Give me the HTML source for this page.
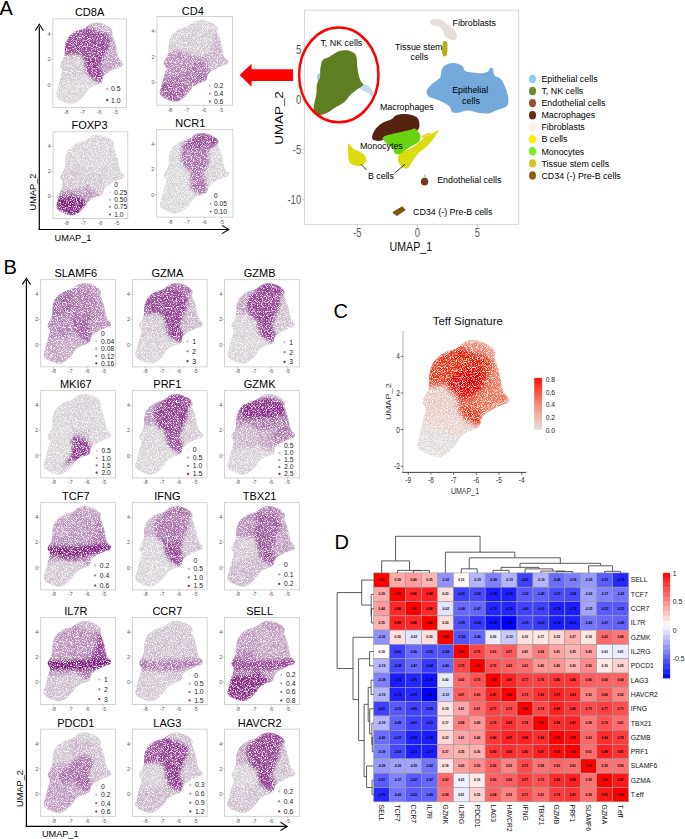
<!DOCTYPE html>
<html><head><meta charset="utf-8"><style>
html,body{margin:0;padding:0;background:#fff;}
body{width:685px;height:839px;overflow:hidden;}
svg{display:block;font-family:"Liberation Sans", sans-serif;}
</style></head><body>
<svg width="685" height="839" viewBox="0 0 685 839">
<defs><filter id="spk" color-interpolation-filters="sRGB"><feTurbulence type="fractalNoise" baseFrequency="1.2" numOctaves="1" seed="5" result="n"/><feColorMatrix in="n" type="matrix" values="1 0 0 0 0  1 0 0 0 0  1 0 0 0 0  0 0 0 0 1" result="g"/><feColorMatrix in="g" type="matrix" values="0 0 0 0 1  0 0 0 0 1  0 0 0 0 1  4 0 0 0 -1.85"/></filter><filter id="bl05" x="-20%" y="-20%" width="140%" height="140%"><feGaussianBlur stdDeviation="0.5"/></filter><filter id="bl10" x="-20%" y="-20%" width="140%" height="140%"><feGaussianBlur stdDeviation="1.0"/></filter><filter id="bl12" x="-20%" y="-20%" width="140%" height="140%"><feGaussianBlur stdDeviation="1.2"/></filter><filter id="bl15" x="-20%" y="-20%" width="140%" height="140%"><feGaussianBlur stdDeviation="1.5"/></filter><filter id="bl18" x="-20%" y="-20%" width="140%" height="140%"><feGaussianBlur stdDeviation="1.8"/></filter><filter id="bl20" x="-20%" y="-20%" width="140%" height="140%"><feGaussianBlur stdDeviation="2.0"/></filter><clipPath id="c1"><path d="M97.48,22.45 C99.44,22.6 101.98,23.28 103.95,23.98 C105.91,24.68 107.76,25.56 109.25,26.66 C110.74,27.77 112.37,29.27 112.89,30.61 C113.42,31.95 112.23,33.33 112.4,34.69 C112.56,36.05 113.36,37.24 113.89,38.77 C114.41,40.3 115.07,42.17 115.54,43.87 C116.01,45.57 116.35,47.27 116.7,48.97 C117.06,50.67 117.26,52.37 117.7,54.07 C118.14,55.77 118.47,57.64 119.36,59.17 C120.24,60.7 122.56,62.06 123,63.25 C123.44,64.44 122.92,65.55 122.01,66.31 C121.1,67.08 119.55,66.97 117.53,67.84 C115.52,68.71 112.26,70.12 109.91,71.54 C107.56,72.96 104.8,74.64 103.45,76.38 C102.09,78.13 102.62,80.66 101.79,81.99 C100.96,83.33 99.89,83.74 98.48,84.42 C97.07,85.1 95.05,85.25 93.34,86.08 C91.63,86.9 89.61,88.03 88.2,89.39 C86.8,90.75 86.02,92.77 84.89,94.23 C83.76,95.7 82.85,96.85 81.41,98.19 C79.97,99.53 77.99,101.31 76.27,102.27 C74.56,103.22 73.01,103.9 71.14,103.92 C69.26,103.95 67.1,103.2 65.01,102.39 C62.91,101.59 60.03,100.31 58.54,99.08 C57.05,97.85 56.14,96.91 56.06,95 C55.98,93.09 57.38,90.2 58.05,87.61 C58.71,85.01 59.32,82.27 60.03,79.44 C60.75,76.62 62.35,73.03 62.35,70.65 C62.35,68.27 59.7,67.59 60.03,65.16 C60.37,62.74 63.51,59.32 64.34,56.11 C65.17,52.9 64.51,48.8 65.01,45.91 C65.5,43.02 66.17,40.81 67.33,38.77 C68.49,36.73 70.31,35.03 71.97,33.67 C73.62,32.31 75.33,31.44 77.27,30.61 C79.2,29.78 81.8,29.53 83.56,28.7 C85.33,27.87 86.44,26.57 87.87,25.64 C89.31,24.71 90.58,23.62 92.18,23.09 C93.78,22.56 95.52,22.3 97.48,22.45 Z"/></clipPath><clipPath id="c2"><path d="M202.14,19.91 C204.15,20.06 206.75,20.74 208.76,21.44 C210.77,22.15 212.66,23.02 214.19,24.13 C215.72,25.24 217.39,26.76 217.93,28.1 C218.46,29.44 217.25,30.83 217.42,32.2 C217.59,33.56 218.41,34.76 218.94,36.29 C219.48,37.83 220.16,39.71 220.64,41.41 C221.12,43.12 221.46,44.83 221.83,46.53 C222.2,48.24 222.39,49.95 222.85,51.65 C223.3,53.36 223.64,55.24 224.54,56.77 C225.45,58.31 227.82,59.67 228.28,60.87 C228.73,62.06 228.19,63.17 227.26,63.94 C226.33,64.71 224.74,64.6 222.68,65.48 C220.61,66.35 217.27,67.76 214.87,69.19 C212.47,70.62 209.64,72.3 208.25,74.05 C206.87,75.8 207.4,78.34 206.56,79.68 C205.71,81.03 204.6,81.43 203.16,82.12 C201.72,82.8 199.65,82.95 197.9,83.78 C196.15,84.61 194.08,85.74 192.64,87.11 C191.2,88.47 190.41,90.5 189.25,91.97 C188.09,93.44 187.15,94.6 185.68,95.94 C184.21,97.28 182.17,99.08 180.42,100.04 C178.67,101 177.08,101.68 175.16,101.7 C173.24,101.72 171.03,100.97 168.88,100.16 C166.73,99.35 163.79,98.07 162.26,96.84 C160.74,95.6 159.8,94.66 159.72,92.74 C159.63,90.82 161.08,87.92 161.75,85.32 C162.43,82.71 163.06,79.96 163.79,77.12 C164.53,74.29 166.17,70.68 166.17,68.29 C166.17,65.9 163.45,65.22 163.79,62.79 C164.13,60.36 167.35,56.92 168.2,53.7 C169.05,50.48 168.37,46.36 168.88,43.46 C169.39,40.56 170.07,38.34 171.26,36.29 C172.45,34.24 174.31,32.54 176.01,31.17 C177.71,29.81 179.46,28.93 181.44,28.1 C183.42,27.27 186.08,27.01 187.89,26.18 C189.7,25.35 190.83,24.05 192.3,23.11 C193.77,22.17 195.07,21.08 196.71,20.55 C198.35,20.01 200.13,19.76 202.14,19.91 Z"/></clipPath><clipPath id="c3"><path d="M98.45,134.89 C100.45,135.03 103.04,135.71 105.03,136.4 C107.03,137.09 108.91,137.95 110.43,139.04 C111.95,140.14 113.61,141.63 114.14,142.95 C114.68,144.27 113.47,145.64 113.64,146.98 C113.8,148.33 114.62,149.5 115.15,151.01 C115.69,152.53 116.36,154.37 116.84,156.05 C117.32,157.73 117.66,159.41 118.02,161.09 C118.39,162.77 118.58,164.45 119.03,166.13 C119.48,167.81 119.82,169.66 120.72,171.17 C121.62,172.69 123.98,174.03 124.43,175.21 C124.88,176.38 124.35,177.47 123.42,178.23 C122.49,178.99 120.92,178.88 118.87,179.74 C116.81,180.6 113.5,181.99 111.11,183.4 C108.72,184.8 105.9,186.46 104.53,188.18 C103.15,189.91 103.68,192.41 102.84,193.73 C102,195.05 100.9,195.45 99.47,196.12 C98.03,196.79 95.98,196.94 94.24,197.76 C92.49,198.58 90.44,199.69 89.01,201.04 C87.57,202.38 86.78,204.38 85.63,205.82 C84.48,207.27 83.55,208.41 82.09,209.73 C80.63,211.05 78.6,212.82 76.86,213.76 C75.12,214.71 73.54,215.38 71.63,215.4 C69.72,215.42 67.52,214.69 65.39,213.89 C63.25,213.09 60.33,211.83 58.81,210.61 C57.29,209.39 56.36,208.47 56.28,206.58 C56.19,204.69 57.63,201.83 58.3,199.27 C58.98,196.71 59.6,194 60.33,191.21 C61.06,188.41 62.69,184.87 62.69,182.51 C62.69,180.16 59.99,179.49 60.33,177.1 C60.66,174.7 63.87,171.32 64.71,168.15 C65.56,164.98 64.88,160.93 65.39,158.07 C65.89,155.21 66.57,153.03 67.75,151.01 C68.93,149 70.79,147.32 72.47,145.97 C74.16,144.63 75.9,143.77 77.87,142.95 C79.84,142.13 82.48,141.88 84.28,141.06 C86.08,140.24 87.21,138.96 88.67,138.04 C90.13,137.11 91.42,136.04 93.05,135.52 C94.69,134.99 96.46,134.74 98.45,134.89 Z"/></clipPath><clipPath id="c4"><path d="M202.69,132.99 C204.71,133.13 207.34,133.8 209.36,134.5 C211.38,135.19 213.29,136.05 214.83,137.14 C216.37,138.24 218.05,139.73 218.59,141.05 C219.13,142.37 217.91,143.74 218.08,145.08 C218.25,146.43 219.08,147.6 219.62,149.11 C220.16,150.63 220.84,152.47 221.33,154.15 C221.81,155.83 222.16,157.51 222.53,159.19 C222.9,160.87 223.1,162.55 223.55,164.23 C224.01,165.91 224.35,167.76 225.26,169.27 C226.17,170.79 228.57,172.13 229.02,173.31 C229.48,174.48 228.94,175.57 228,176.33 C227.06,177.09 225.46,176.98 223.38,177.84 C221.3,178.7 217.94,180.09 215.51,181.5 C213.09,182.9 210.24,184.56 208.85,186.28 C207.45,188.01 207.99,190.5 207.14,191.83 C206.28,193.15 205.17,193.55 203.72,194.22 C202.26,194.89 200.18,195.04 198.41,195.86 C196.65,196.68 194.57,197.79 193.11,199.14 C191.66,200.48 190.86,202.48 189.69,203.92 C188.53,205.37 187.58,206.51 186.1,207.83 C184.62,209.15 182.57,210.92 180.8,211.86 C179.03,212.81 177.44,213.48 175.5,213.5 C173.56,213.52 171.34,212.79 169.17,211.99 C167.01,211.19 164.04,209.93 162.5,208.71 C160.97,207.49 160.03,206.57 159.94,204.68 C159.85,202.79 161.31,199.93 161.99,197.37 C162.68,194.81 163.3,192.1 164.04,189.31 C164.79,186.51 166.44,182.97 166.44,180.61 C166.44,178.26 163.7,177.59 164.04,175.2 C164.39,172.8 167.63,169.42 168.49,166.25 C169.34,163.08 168.66,159.03 169.17,156.17 C169.69,153.31 170.37,151.13 171.57,149.11 C172.76,147.1 174.65,145.42 176.36,144.07 C178.07,142.73 179.83,141.87 181.83,141.05 C183.82,140.23 186.5,139.98 188.33,139.16 C190.15,138.34 191.29,137.06 192.77,136.14 C194.25,135.21 195.56,134.14 197.22,133.62 C198.87,133.09 200.67,132.84 202.69,132.99 Z"/></clipPath><clipPath id="c5"><path d="M85.43,283.09 C87.41,283.23 89.97,283.91 91.94,284.6 C93.92,285.29 95.78,286.15 97.29,287.24 C98.79,288.34 100.43,289.83 100.96,291.15 C101.49,292.47 100.29,293.84 100.46,295.18 C100.63,296.53 101.43,297.7 101.96,299.21 C102.49,300.73 103.16,302.57 103.63,304.25 C104.11,305.93 104.44,307.61 104.8,309.29 C105.16,310.97 105.36,312.65 105.8,314.33 C106.25,316.01 106.58,317.86 107.47,319.37 C108.36,320.89 110.7,322.23 111.15,323.41 C111.59,324.58 111.06,325.67 110.15,326.43 C109.23,327.19 107.67,327.08 105.64,327.94 C103.61,328.8 100.32,330.19 97.96,331.6 C95.59,333 92.81,334.66 91.44,336.38 C90.08,338.11 90.61,340.61 89.77,341.93 C88.94,343.25 87.85,343.65 86.43,344.32 C85.01,344.99 82.98,345.14 81.26,345.96 C79.53,346.78 77.5,347.89 76.08,349.24 C74.66,350.58 73.88,352.57 72.74,354.02 C71.6,355.47 70.68,356.61 69.23,357.93 C67.78,359.25 65.78,361.02 64.05,361.96 C62.33,362.91 60.77,363.58 58.88,363.6 C56.98,363.62 54.81,362.89 52.7,362.09 C50.58,361.29 47.69,360.03 46.19,358.81 C44.68,357.59 43.76,356.67 43.68,354.78 C43.6,352.89 45.02,350.03 45.68,347.47 C46.35,344.91 46.96,342.2 47.69,339.41 C48.41,336.62 50.03,333.07 50.03,330.71 C50.03,328.36 47.35,327.69 47.69,325.3 C48.02,322.9 51.2,319.52 52.03,316.35 C52.87,313.18 52.2,309.13 52.7,306.27 C53.2,303.41 53.87,301.23 55.04,299.21 C56.21,297.2 58.04,295.52 59.71,294.17 C61.38,292.83 63.11,291.97 65.06,291.15 C67,290.33 69.62,290.08 71.4,289.26 C73.18,288.44 74.3,287.16 75.74,286.24 C77.19,285.31 78.47,284.24 80.09,283.72 C81.7,283.19 83.45,282.94 85.43,283.09 Z"/></clipPath><clipPath id="c6"><path d="M177.03,283.09 C179.01,283.23 181.57,283.91 183.54,284.6 C185.52,285.29 187.38,286.15 188.89,287.24 C190.39,288.34 192.03,289.83 192.56,291.15 C193.09,292.47 191.89,293.84 192.06,295.18 C192.23,296.53 193.03,297.7 193.56,299.21 C194.09,300.73 194.76,302.57 195.23,304.25 C195.71,305.93 196.04,307.61 196.4,309.29 C196.76,310.97 196.96,312.65 197.4,314.33 C197.85,316.01 198.18,317.86 199.07,319.37 C199.96,320.89 202.3,322.23 202.75,323.41 C203.19,324.58 202.66,325.67 201.75,326.43 C200.83,327.19 199.27,327.08 197.24,327.94 C195.21,328.8 191.92,330.19 189.56,331.6 C187.19,333 184.41,334.66 183.04,336.38 C181.68,338.11 182.21,340.61 181.37,341.93 C180.54,343.25 179.45,343.65 178.03,344.32 C176.61,344.99 174.58,345.14 172.86,345.96 C171.13,346.78 169.1,347.89 167.68,349.24 C166.26,350.58 165.48,352.57 164.34,354.02 C163.2,355.47 162.28,356.61 160.83,357.93 C159.38,359.25 157.38,361.02 155.65,361.96 C153.93,362.91 152.37,363.58 150.48,363.6 C148.58,363.62 146.41,362.89 144.3,362.09 C142.18,361.29 139.29,360.03 137.79,358.81 C136.28,357.59 135.36,356.67 135.28,354.78 C135.2,352.89 136.62,350.03 137.28,347.47 C137.95,344.91 138.56,342.2 139.29,339.41 C140.01,336.62 141.63,333.07 141.63,330.71 C141.63,328.36 138.95,327.69 139.29,325.3 C139.62,322.9 142.8,319.52 143.63,316.35 C144.47,313.18 143.8,309.13 144.3,306.27 C144.8,303.41 145.47,301.23 146.64,299.21 C147.81,297.2 149.64,295.52 151.31,294.17 C152.98,292.83 154.71,291.97 156.66,291.15 C158.6,290.33 161.22,290.08 163,289.26 C164.78,288.44 165.9,287.16 167.34,286.24 C168.79,285.31 170.07,284.24 171.69,283.72 C173.3,283.19 175.05,282.94 177.03,283.09 Z"/></clipPath><clipPath id="c7"><path d="M269.23,283.09 C271.21,283.23 273.77,283.91 275.74,284.6 C277.72,285.29 279.58,286.15 281.09,287.24 C282.59,288.34 284.23,289.83 284.76,291.15 C285.29,292.47 284.09,293.84 284.26,295.18 C284.43,296.53 285.23,297.7 285.76,299.21 C286.29,300.73 286.96,302.57 287.43,304.25 C287.91,305.93 288.24,307.61 288.6,309.29 C288.96,310.97 289.16,312.65 289.6,314.33 C290.05,316.01 290.38,317.86 291.27,319.37 C292.16,320.89 294.5,322.23 294.95,323.41 C295.39,324.58 294.86,325.67 293.95,326.43 C293.03,327.19 291.47,327.08 289.44,327.94 C287.41,328.8 284.12,330.19 281.75,331.6 C279.39,333 276.61,334.66 275.24,336.38 C273.88,338.11 274.41,340.61 273.57,341.93 C272.74,343.25 271.65,343.65 270.23,344.32 C268.81,344.99 266.78,345.14 265.06,345.96 C263.33,346.78 261.3,347.89 259.88,349.24 C258.46,350.58 257.68,352.57 256.54,354.02 C255.4,355.47 254.48,356.61 253.03,357.93 C251.58,359.25 249.58,361.02 247.85,361.96 C246.13,362.91 244.57,363.58 242.68,363.6 C240.78,363.62 238.61,362.89 236.5,362.09 C234.38,361.29 231.49,360.03 229.99,358.81 C228.48,357.59 227.56,356.67 227.48,354.78 C227.4,352.89 228.82,350.03 229.48,347.47 C230.15,344.91 230.76,342.2 231.49,339.41 C232.21,336.62 233.83,333.07 233.83,330.71 C233.83,328.36 231.15,327.69 231.49,325.3 C231.82,322.9 235,319.52 235.83,316.35 C236.67,313.18 236,309.13 236.5,306.27 C237,303.41 237.67,301.23 238.84,299.21 C240.01,297.2 241.84,295.52 243.51,294.17 C245.18,292.83 246.91,291.97 248.86,291.15 C250.8,290.33 253.42,290.08 255.2,289.26 C256.98,288.44 258.1,287.16 259.54,286.24 C260.99,285.31 262.27,284.24 263.89,283.72 C265.5,283.19 267.25,282.94 269.23,283.09 Z"/></clipPath><clipPath id="c8"><path d="M85.43,394.09 C87.41,394.23 89.97,394.91 91.94,395.6 C93.92,396.29 95.78,397.15 97.29,398.24 C98.79,399.34 100.43,400.83 100.96,402.15 C101.49,403.47 100.29,404.84 100.46,406.18 C100.63,407.53 101.43,408.7 101.96,410.21 C102.49,411.73 103.16,413.57 103.63,415.25 C104.11,416.93 104.44,418.61 104.8,420.29 C105.16,421.97 105.36,423.65 105.8,425.33 C106.25,427.01 106.58,428.86 107.47,430.37 C108.36,431.89 110.7,433.23 111.15,434.41 C111.59,435.58 111.06,436.67 110.15,437.43 C109.23,438.19 107.67,438.08 105.64,438.94 C103.61,439.8 100.32,441.19 97.96,442.6 C95.59,444 92.81,445.66 91.44,447.38 C90.08,449.11 90.61,451.61 89.77,452.93 C88.94,454.25 87.85,454.65 86.43,455.32 C85.01,455.99 82.98,456.14 81.26,456.96 C79.53,457.78 77.5,458.89 76.08,460.24 C74.66,461.58 73.88,463.57 72.74,465.02 C71.6,466.47 70.68,467.61 69.23,468.93 C67.78,470.25 65.78,472.02 64.05,472.96 C62.33,473.91 60.77,474.58 58.88,474.6 C56.98,474.62 54.81,473.89 52.7,473.09 C50.58,472.29 47.69,471.03 46.19,469.81 C44.68,468.59 43.76,467.67 43.68,465.78 C43.6,463.89 45.02,461.03 45.68,458.47 C46.35,455.91 46.96,453.2 47.69,450.41 C48.41,447.62 50.03,444.07 50.03,441.71 C50.03,439.36 47.35,438.69 47.69,436.3 C48.02,433.9 51.2,430.52 52.03,427.35 C52.87,424.18 52.2,420.13 52.7,417.27 C53.2,414.41 53.87,412.23 55.04,410.21 C56.21,408.2 58.04,406.52 59.71,405.17 C61.38,403.83 63.11,402.97 65.06,402.15 C67,401.33 69.62,401.08 71.4,400.26 C73.18,399.44 74.3,398.16 75.74,397.24 C77.19,396.31 78.47,395.24 80.09,394.72 C81.7,394.19 83.45,393.94 85.43,394.09 Z"/></clipPath><clipPath id="c9"><path d="M177.03,394.09 C179.01,394.23 181.57,394.91 183.54,395.6 C185.52,396.29 187.38,397.15 188.89,398.24 C190.39,399.34 192.03,400.83 192.56,402.15 C193.09,403.47 191.89,404.84 192.06,406.18 C192.23,407.53 193.03,408.7 193.56,410.21 C194.09,411.73 194.76,413.57 195.23,415.25 C195.71,416.93 196.04,418.61 196.4,420.29 C196.76,421.97 196.96,423.65 197.4,425.33 C197.85,427.01 198.18,428.86 199.07,430.37 C199.96,431.89 202.3,433.23 202.75,434.41 C203.19,435.58 202.66,436.67 201.75,437.43 C200.83,438.19 199.27,438.08 197.24,438.94 C195.21,439.8 191.92,441.19 189.56,442.6 C187.19,444 184.41,445.66 183.04,447.38 C181.68,449.11 182.21,451.61 181.37,452.93 C180.54,454.25 179.45,454.65 178.03,455.32 C176.61,455.99 174.58,456.14 172.86,456.96 C171.13,457.78 169.1,458.89 167.68,460.24 C166.26,461.58 165.48,463.57 164.34,465.02 C163.2,466.47 162.28,467.61 160.83,468.93 C159.38,470.25 157.38,472.02 155.65,472.96 C153.93,473.91 152.37,474.58 150.48,474.6 C148.58,474.62 146.41,473.89 144.3,473.09 C142.18,472.29 139.29,471.03 137.79,469.81 C136.28,468.59 135.36,467.67 135.28,465.78 C135.2,463.89 136.62,461.03 137.28,458.47 C137.95,455.91 138.56,453.2 139.29,450.41 C140.01,447.62 141.63,444.07 141.63,441.71 C141.63,439.36 138.95,438.69 139.29,436.3 C139.62,433.9 142.8,430.52 143.63,427.35 C144.47,424.18 143.8,420.13 144.3,417.27 C144.8,414.41 145.47,412.23 146.64,410.21 C147.81,408.2 149.64,406.52 151.31,405.17 C152.98,403.83 154.71,402.97 156.66,402.15 C158.6,401.33 161.22,401.08 163,400.26 C164.78,399.44 165.9,398.16 167.34,397.24 C168.79,396.31 170.07,395.24 171.69,394.72 C173.3,394.19 175.05,393.94 177.03,394.09 Z"/></clipPath><clipPath id="c10"><path d="M269.23,394.09 C271.21,394.23 273.77,394.91 275.74,395.6 C277.72,396.29 279.58,397.15 281.09,398.24 C282.59,399.34 284.23,400.83 284.76,402.15 C285.29,403.47 284.09,404.84 284.26,406.18 C284.43,407.53 285.23,408.7 285.76,410.21 C286.29,411.73 286.96,413.57 287.43,415.25 C287.91,416.93 288.24,418.61 288.6,420.29 C288.96,421.97 289.16,423.65 289.6,425.33 C290.05,427.01 290.38,428.86 291.27,430.37 C292.16,431.89 294.5,433.23 294.95,434.41 C295.39,435.58 294.86,436.67 293.95,437.43 C293.03,438.19 291.47,438.08 289.44,438.94 C287.41,439.8 284.12,441.19 281.75,442.6 C279.39,444 276.61,445.66 275.24,447.38 C273.88,449.11 274.41,451.61 273.57,452.93 C272.74,454.25 271.65,454.65 270.23,455.32 C268.81,455.99 266.78,456.14 265.06,456.96 C263.33,457.78 261.3,458.89 259.88,460.24 C258.46,461.58 257.68,463.57 256.54,465.02 C255.4,466.47 254.48,467.61 253.03,468.93 C251.58,470.25 249.58,472.02 247.85,472.96 C246.13,473.91 244.57,474.58 242.68,474.6 C240.78,474.62 238.61,473.89 236.5,473.09 C234.38,472.29 231.49,471.03 229.99,469.81 C228.48,468.59 227.56,467.67 227.48,465.78 C227.4,463.89 228.82,461.03 229.48,458.47 C230.15,455.91 230.76,453.2 231.49,450.41 C232.21,447.62 233.83,444.07 233.83,441.71 C233.83,439.36 231.15,438.69 231.49,436.3 C231.82,433.9 235,430.52 235.83,427.35 C236.67,424.18 236,420.13 236.5,417.27 C237,414.41 237.67,412.23 238.84,410.21 C240.01,408.2 241.84,406.52 243.51,405.17 C245.18,403.83 246.91,402.97 248.86,402.15 C250.8,401.33 253.42,401.08 255.2,400.26 C256.98,399.44 258.1,398.16 259.54,397.24 C260.99,396.31 262.27,395.24 263.89,394.72 C265.5,394.19 267.25,393.94 269.23,394.09 Z"/></clipPath><clipPath id="c11"><path d="M85.43,506.09 C87.41,506.23 89.97,506.91 91.94,507.6 C93.92,508.29 95.78,509.15 97.29,510.24 C98.79,511.34 100.43,512.83 100.96,514.15 C101.49,515.47 100.29,516.84 100.46,518.18 C100.63,519.53 101.43,520.7 101.96,522.21 C102.49,523.73 103.16,525.57 103.63,527.25 C104.11,528.93 104.44,530.61 104.8,532.29 C105.16,533.97 105.36,535.65 105.8,537.33 C106.25,539.01 106.58,540.86 107.47,542.37 C108.36,543.89 110.7,545.23 111.15,546.41 C111.59,547.58 111.06,548.67 110.15,549.43 C109.23,550.19 107.67,550.08 105.64,550.94 C103.61,551.8 100.32,553.19 97.96,554.6 C95.59,556 92.81,557.66 91.44,559.38 C90.08,561.11 90.61,563.61 89.77,564.93 C88.94,566.25 87.85,566.65 86.43,567.32 C85.01,567.99 82.98,568.14 81.26,568.96 C79.53,569.78 77.5,570.89 76.08,572.24 C74.66,573.58 73.88,575.58 72.74,577.02 C71.6,578.47 70.68,579.61 69.23,580.93 C67.78,582.25 65.78,584.02 64.05,584.96 C62.33,585.91 60.77,586.58 58.88,586.6 C56.98,586.62 54.81,585.89 52.7,585.09 C50.58,584.29 47.69,583.03 46.19,581.81 C44.68,580.59 43.76,579.67 43.68,577.78 C43.6,575.89 45.02,573.03 45.68,570.47 C46.35,567.91 46.96,565.2 47.69,562.41 C48.41,559.62 50.03,556.07 50.03,553.71 C50.03,551.36 47.35,550.69 47.69,548.3 C48.02,545.9 51.2,542.52 52.03,539.35 C52.87,536.18 52.2,532.13 52.7,529.27 C53.2,526.41 53.87,524.23 55.04,522.21 C56.21,520.2 58.04,518.52 59.71,517.17 C61.38,515.83 63.11,514.97 65.06,514.15 C67,513.33 69.62,513.08 71.4,512.26 C73.18,511.44 74.3,510.16 75.74,509.24 C77.19,508.31 78.47,507.24 80.09,506.72 C81.7,506.19 83.45,505.94 85.43,506.09 Z"/></clipPath><clipPath id="c12"><path d="M177.03,506.09 C179.01,506.23 181.57,506.91 183.54,507.6 C185.52,508.29 187.38,509.15 188.89,510.24 C190.39,511.34 192.03,512.83 192.56,514.15 C193.09,515.47 191.89,516.84 192.06,518.18 C192.23,519.53 193.03,520.7 193.56,522.21 C194.09,523.73 194.76,525.57 195.23,527.25 C195.71,528.93 196.04,530.61 196.4,532.29 C196.76,533.97 196.96,535.65 197.4,537.33 C197.85,539.01 198.18,540.86 199.07,542.37 C199.96,543.89 202.3,545.23 202.75,546.41 C203.19,547.58 202.66,548.67 201.75,549.43 C200.83,550.19 199.27,550.08 197.24,550.94 C195.21,551.8 191.92,553.19 189.56,554.6 C187.19,556 184.41,557.66 183.04,559.38 C181.68,561.11 182.21,563.61 181.37,564.93 C180.54,566.25 179.45,566.65 178.03,567.32 C176.61,567.99 174.58,568.14 172.86,568.96 C171.13,569.78 169.1,570.89 167.68,572.24 C166.26,573.58 165.48,575.58 164.34,577.02 C163.2,578.47 162.28,579.61 160.83,580.93 C159.38,582.25 157.38,584.02 155.65,584.96 C153.93,585.91 152.37,586.58 150.48,586.6 C148.58,586.62 146.41,585.89 144.3,585.09 C142.18,584.29 139.29,583.03 137.79,581.81 C136.28,580.59 135.36,579.67 135.28,577.78 C135.2,575.89 136.62,573.03 137.28,570.47 C137.95,567.91 138.56,565.2 139.29,562.41 C140.01,559.62 141.63,556.07 141.63,553.71 C141.63,551.36 138.95,550.69 139.29,548.3 C139.62,545.9 142.8,542.52 143.63,539.35 C144.47,536.18 143.8,532.13 144.3,529.27 C144.8,526.41 145.47,524.23 146.64,522.21 C147.81,520.2 149.64,518.52 151.31,517.17 C152.98,515.83 154.71,514.97 156.66,514.15 C158.6,513.33 161.22,513.08 163,512.26 C164.78,511.44 165.9,510.16 167.34,509.24 C168.79,508.31 170.07,507.24 171.69,506.72 C173.3,506.19 175.05,505.94 177.03,506.09 Z"/></clipPath><clipPath id="c13"><path d="M269.23,506.09 C271.21,506.23 273.77,506.91 275.74,507.6 C277.72,508.29 279.58,509.15 281.09,510.24 C282.59,511.34 284.23,512.83 284.76,514.15 C285.29,515.47 284.09,516.84 284.26,518.18 C284.43,519.53 285.23,520.7 285.76,522.21 C286.29,523.73 286.96,525.57 287.43,527.25 C287.91,528.93 288.24,530.61 288.6,532.29 C288.96,533.97 289.16,535.65 289.6,537.33 C290.05,539.01 290.38,540.86 291.27,542.37 C292.16,543.89 294.5,545.23 294.95,546.41 C295.39,547.58 294.86,548.67 293.95,549.43 C293.03,550.19 291.47,550.08 289.44,550.94 C287.41,551.8 284.12,553.19 281.75,554.6 C279.39,556 276.61,557.66 275.24,559.38 C273.88,561.11 274.41,563.61 273.57,564.93 C272.74,566.25 271.65,566.65 270.23,567.32 C268.81,567.99 266.78,568.14 265.06,568.96 C263.33,569.78 261.3,570.89 259.88,572.24 C258.46,573.58 257.68,575.58 256.54,577.02 C255.4,578.47 254.48,579.61 253.03,580.93 C251.58,582.25 249.58,584.02 247.85,584.96 C246.13,585.91 244.57,586.58 242.68,586.6 C240.78,586.62 238.61,585.89 236.5,585.09 C234.38,584.29 231.49,583.03 229.99,581.81 C228.48,580.59 227.56,579.67 227.48,577.78 C227.4,575.89 228.82,573.03 229.48,570.47 C230.15,567.91 230.76,565.2 231.49,562.41 C232.21,559.62 233.83,556.07 233.83,553.71 C233.83,551.36 231.15,550.69 231.49,548.3 C231.82,545.9 235,542.52 235.83,539.35 C236.67,536.18 236,532.13 236.5,529.27 C237,526.41 237.67,524.23 238.84,522.21 C240.01,520.2 241.84,518.52 243.51,517.17 C245.18,515.83 246.91,514.97 248.86,514.15 C250.8,513.33 253.42,513.08 255.2,512.26 C256.98,511.44 258.1,510.16 259.54,509.24 C260.99,508.31 262.27,507.24 263.89,506.72 C265.5,506.19 267.25,505.94 269.23,506.09 Z"/></clipPath><clipPath id="c14"><path d="M85.43,620.79 C87.41,620.93 89.97,621.61 91.94,622.3 C93.92,622.99 95.78,623.85 97.29,624.94 C98.79,626.04 100.43,627.53 100.96,628.85 C101.49,630.17 100.29,631.54 100.46,632.88 C100.63,634.23 101.43,635.4 101.96,636.91 C102.49,638.43 103.16,640.27 103.63,641.95 C104.11,643.63 104.44,645.31 104.8,646.99 C105.16,648.67 105.36,650.35 105.8,652.03 C106.25,653.71 106.58,655.56 107.47,657.07 C108.36,658.59 110.7,659.93 111.15,661.11 C111.59,662.28 111.06,663.37 110.15,664.13 C109.23,664.89 107.67,664.78 105.64,665.64 C103.61,666.5 100.32,667.89 97.96,669.3 C95.59,670.7 92.81,672.36 91.44,674.08 C90.08,675.81 90.61,678.3 89.77,679.63 C88.94,680.95 87.85,681.35 86.43,682.02 C85.01,682.69 82.98,682.84 81.26,683.66 C79.53,684.48 77.5,685.59 76.08,686.94 C74.66,688.28 73.88,690.27 72.74,691.72 C71.6,693.17 70.68,694.31 69.23,695.63 C67.78,696.95 65.78,698.72 64.05,699.66 C62.33,700.61 60.77,701.28 58.88,701.3 C56.98,701.32 54.81,700.59 52.7,699.79 C50.58,698.99 47.69,697.73 46.19,696.51 C44.68,695.29 43.76,694.37 43.68,692.48 C43.6,690.59 45.02,687.73 45.68,685.17 C46.35,682.61 46.96,679.9 47.69,677.11 C48.41,674.31 50.03,670.77 50.03,668.41 C50.03,666.06 47.35,665.39 47.69,663 C48.02,660.6 51.2,657.22 52.03,654.05 C52.87,650.88 52.2,646.83 52.7,643.97 C53.2,641.11 53.87,638.93 55.04,636.91 C56.21,634.9 58.04,633.22 59.71,631.87 C61.38,630.53 63.11,629.67 65.06,628.85 C67,628.03 69.62,627.78 71.4,626.96 C73.18,626.14 74.3,624.86 75.74,623.94 C77.19,623.01 78.47,621.94 80.09,621.42 C81.7,620.89 83.45,620.64 85.43,620.79 Z"/></clipPath><clipPath id="c15"><path d="M177.03,620.79 C179.01,620.93 181.57,621.61 183.54,622.3 C185.52,622.99 187.38,623.85 188.89,624.94 C190.39,626.04 192.03,627.53 192.56,628.85 C193.09,630.17 191.89,631.54 192.06,632.88 C192.23,634.23 193.03,635.4 193.56,636.91 C194.09,638.43 194.76,640.27 195.23,641.95 C195.71,643.63 196.04,645.31 196.4,646.99 C196.76,648.67 196.96,650.35 197.4,652.03 C197.85,653.71 198.18,655.56 199.07,657.07 C199.96,658.59 202.3,659.93 202.75,661.11 C203.19,662.28 202.66,663.37 201.75,664.13 C200.83,664.89 199.27,664.78 197.24,665.64 C195.21,666.5 191.92,667.89 189.56,669.3 C187.19,670.7 184.41,672.36 183.04,674.08 C181.68,675.81 182.21,678.3 181.37,679.63 C180.54,680.95 179.45,681.35 178.03,682.02 C176.61,682.69 174.58,682.84 172.86,683.66 C171.13,684.48 169.1,685.59 167.68,686.94 C166.26,688.28 165.48,690.27 164.34,691.72 C163.2,693.17 162.28,694.31 160.83,695.63 C159.38,696.95 157.38,698.72 155.65,699.66 C153.93,700.61 152.37,701.28 150.48,701.3 C148.58,701.32 146.41,700.59 144.3,699.79 C142.18,698.99 139.29,697.73 137.79,696.51 C136.28,695.29 135.36,694.37 135.28,692.48 C135.2,690.59 136.62,687.73 137.28,685.17 C137.95,682.61 138.56,679.9 139.29,677.11 C140.01,674.31 141.63,670.77 141.63,668.41 C141.63,666.06 138.95,665.39 139.29,663 C139.62,660.6 142.8,657.22 143.63,654.05 C144.47,650.88 143.8,646.83 144.3,643.97 C144.8,641.11 145.47,638.93 146.64,636.91 C147.81,634.9 149.64,633.22 151.31,631.87 C152.98,630.53 154.71,629.67 156.66,628.85 C158.6,628.03 161.22,627.78 163,626.96 C164.78,626.14 165.9,624.86 167.34,623.94 C168.79,623.01 170.07,621.94 171.69,621.42 C173.3,620.89 175.05,620.64 177.03,620.79 Z"/></clipPath><clipPath id="c16"><path d="M269.23,620.79 C271.21,620.93 273.77,621.61 275.74,622.3 C277.72,622.99 279.58,623.85 281.09,624.94 C282.59,626.04 284.23,627.53 284.76,628.85 C285.29,630.17 284.09,631.54 284.26,632.88 C284.43,634.23 285.23,635.4 285.76,636.91 C286.29,638.43 286.96,640.27 287.43,641.95 C287.91,643.63 288.24,645.31 288.6,646.99 C288.96,648.67 289.16,650.35 289.6,652.03 C290.05,653.71 290.38,655.56 291.27,657.07 C292.16,658.59 294.5,659.93 294.95,661.11 C295.39,662.28 294.86,663.37 293.95,664.13 C293.03,664.89 291.47,664.78 289.44,665.64 C287.41,666.5 284.12,667.89 281.75,669.3 C279.39,670.7 276.61,672.36 275.24,674.08 C273.88,675.81 274.41,678.3 273.57,679.63 C272.74,680.95 271.65,681.35 270.23,682.02 C268.81,682.69 266.78,682.84 265.06,683.66 C263.33,684.48 261.3,685.59 259.88,686.94 C258.46,688.28 257.68,690.27 256.54,691.72 C255.4,693.17 254.48,694.31 253.03,695.63 C251.58,696.95 249.58,698.72 247.85,699.66 C246.13,700.61 244.57,701.28 242.68,701.3 C240.78,701.32 238.61,700.59 236.5,699.79 C234.38,698.99 231.49,697.73 229.99,696.51 C228.48,695.29 227.56,694.37 227.48,692.48 C227.4,690.59 228.82,687.73 229.48,685.17 C230.15,682.61 230.76,679.9 231.49,677.11 C232.21,674.31 233.83,670.77 233.83,668.41 C233.83,666.06 231.15,665.39 231.49,663 C231.82,660.6 235,657.22 235.83,654.05 C236.67,650.88 236,646.83 236.5,643.97 C237,641.11 237.67,638.93 238.84,636.91 C240.01,634.9 241.84,633.22 243.51,631.87 C245.18,630.53 246.91,629.67 248.86,628.85 C250.8,628.03 253.42,627.78 255.2,626.96 C256.98,626.14 258.1,624.86 259.54,623.94 C260.99,623.01 262.27,621.94 263.89,621.42 C265.5,620.89 267.25,620.64 269.23,620.79 Z"/></clipPath><clipPath id="c17"><path d="M85.43,732.49 C87.41,732.63 89.97,733.31 91.94,734 C93.92,734.69 95.78,735.55 97.29,736.64 C98.79,737.74 100.43,739.23 100.96,740.55 C101.49,741.87 100.29,743.24 100.46,744.58 C100.63,745.93 101.43,747.1 101.96,748.61 C102.49,750.13 103.16,751.97 103.63,753.65 C104.11,755.33 104.44,757.01 104.8,758.69 C105.16,760.37 105.36,762.05 105.8,763.73 C106.25,765.41 106.58,767.26 107.47,768.77 C108.36,770.29 110.7,771.63 111.15,772.81 C111.59,773.98 111.06,775.07 110.15,775.83 C109.23,776.59 107.67,776.48 105.64,777.34 C103.61,778.2 100.32,779.59 97.96,781 C95.59,782.4 92.81,784.06 91.44,785.78 C90.08,787.51 90.61,790 89.77,791.33 C88.94,792.65 87.85,793.05 86.43,793.72 C85.01,794.39 82.98,794.54 81.26,795.36 C79.53,796.18 77.5,797.29 76.08,798.64 C74.66,799.98 73.88,801.97 72.74,803.42 C71.6,804.87 70.68,806.01 69.23,807.33 C67.78,808.65 65.78,810.42 64.05,811.36 C62.33,812.31 60.77,812.98 58.88,813 C56.98,813.02 54.81,812.29 52.7,811.49 C50.58,810.69 47.69,809.43 46.19,808.21 C44.68,806.99 43.76,806.07 43.68,804.18 C43.6,802.29 45.02,799.43 45.68,796.87 C46.35,794.31 46.96,791.6 47.69,788.81 C48.41,786.01 50.03,782.47 50.03,780.11 C50.03,777.76 47.35,777.09 47.69,774.7 C48.02,772.3 51.2,768.92 52.03,765.75 C52.87,762.58 52.2,758.53 52.7,755.67 C53.2,752.81 53.87,750.63 55.04,748.61 C56.21,746.6 58.04,744.92 59.71,743.57 C61.38,742.23 63.11,741.37 65.06,740.55 C67,739.73 69.62,739.48 71.4,738.66 C73.18,737.84 74.3,736.56 75.74,735.64 C77.19,734.71 78.47,733.64 80.09,733.12 C81.7,732.59 83.45,732.34 85.43,732.49 Z"/></clipPath><clipPath id="c18"><path d="M177.03,732.49 C179.01,732.63 181.57,733.31 183.54,734 C185.52,734.69 187.38,735.55 188.89,736.64 C190.39,737.74 192.03,739.23 192.56,740.55 C193.09,741.87 191.89,743.24 192.06,744.58 C192.23,745.93 193.03,747.1 193.56,748.61 C194.09,750.13 194.76,751.97 195.23,753.65 C195.71,755.33 196.04,757.01 196.4,758.69 C196.76,760.37 196.96,762.05 197.4,763.73 C197.85,765.41 198.18,767.26 199.07,768.77 C199.96,770.29 202.3,771.63 202.75,772.81 C203.19,773.98 202.66,775.07 201.75,775.83 C200.83,776.59 199.27,776.48 197.24,777.34 C195.21,778.2 191.92,779.59 189.56,781 C187.19,782.4 184.41,784.06 183.04,785.78 C181.68,787.51 182.21,790 181.37,791.33 C180.54,792.65 179.45,793.05 178.03,793.72 C176.61,794.39 174.58,794.54 172.86,795.36 C171.13,796.18 169.1,797.29 167.68,798.64 C166.26,799.98 165.48,801.97 164.34,803.42 C163.2,804.87 162.28,806.01 160.83,807.33 C159.38,808.65 157.38,810.42 155.65,811.36 C153.93,812.31 152.37,812.98 150.48,813 C148.58,813.02 146.41,812.29 144.3,811.49 C142.18,810.69 139.29,809.43 137.79,808.21 C136.28,806.99 135.36,806.07 135.28,804.18 C135.2,802.29 136.62,799.43 137.28,796.87 C137.95,794.31 138.56,791.6 139.29,788.81 C140.01,786.01 141.63,782.47 141.63,780.11 C141.63,777.76 138.95,777.09 139.29,774.7 C139.62,772.3 142.8,768.92 143.63,765.75 C144.47,762.58 143.8,758.53 144.3,755.67 C144.8,752.81 145.47,750.63 146.64,748.61 C147.81,746.6 149.64,744.92 151.31,743.57 C152.98,742.23 154.71,741.37 156.66,740.55 C158.6,739.73 161.22,739.48 163,738.66 C164.78,737.84 165.9,736.56 167.34,735.64 C168.79,734.71 170.07,733.64 171.69,733.12 C173.3,732.59 175.05,732.34 177.03,732.49 Z"/></clipPath><clipPath id="c19"><path d="M269.23,732.49 C271.21,732.63 273.77,733.31 275.74,734 C277.72,734.69 279.58,735.55 281.09,736.64 C282.59,737.74 284.23,739.23 284.76,740.55 C285.29,741.87 284.09,743.24 284.26,744.58 C284.43,745.93 285.23,747.1 285.76,748.61 C286.29,750.13 286.96,751.97 287.43,753.65 C287.91,755.33 288.24,757.01 288.6,758.69 C288.96,760.37 289.16,762.05 289.6,763.73 C290.05,765.41 290.38,767.26 291.27,768.77 C292.16,770.29 294.5,771.63 294.95,772.81 C295.39,773.98 294.86,775.07 293.95,775.83 C293.03,776.59 291.47,776.48 289.44,777.34 C287.41,778.2 284.12,779.59 281.75,781 C279.39,782.4 276.61,784.06 275.24,785.78 C273.88,787.51 274.41,790 273.57,791.33 C272.74,792.65 271.65,793.05 270.23,793.72 C268.81,794.39 266.78,794.54 265.06,795.36 C263.33,796.18 261.3,797.29 259.88,798.64 C258.46,799.98 257.68,801.97 256.54,803.42 C255.4,804.87 254.48,806.01 253.03,807.33 C251.58,808.65 249.58,810.42 247.85,811.36 C246.13,812.31 244.57,812.98 242.68,813 C240.78,813.02 238.61,812.29 236.5,811.49 C234.38,810.69 231.49,809.43 229.99,808.21 C228.48,806.99 227.56,806.07 227.48,804.18 C227.4,802.29 228.82,799.43 229.48,796.87 C230.15,794.31 230.76,791.6 231.49,788.81 C232.21,786.01 233.83,782.47 233.83,780.11 C233.83,777.76 231.15,777.09 231.49,774.7 C231.82,772.3 235,768.92 235.83,765.75 C236.67,762.58 236,758.53 236.5,755.67 C237,752.81 237.67,750.63 238.84,748.61 C240.01,746.6 241.84,744.92 243.51,743.57 C245.18,742.23 246.91,741.37 248.86,740.55 C250.8,739.73 253.42,739.48 255.2,738.66 C256.98,737.84 258.1,736.56 259.54,735.64 C260.99,734.71 262.27,733.64 263.89,733.12 C265.5,732.59 267.25,732.34 269.23,732.49 Z"/></clipPath><clipPath id="c20"><path d="M474.03,340.11 C476.72,340.33 480.2,341.3 482.88,342.31 C485.57,343.32 488.1,344.57 490.15,346.15 C492.19,347.74 494.42,349.9 495.14,351.83 C495.86,353.75 494.23,355.73 494.46,357.68 C494.69,359.63 495.78,361.34 496.5,363.54 C497.22,365.73 498.13,368.42 498.77,370.86 C499.42,373.3 499.87,375.74 500.36,378.18 C500.85,380.62 501.12,383.06 501.72,385.5 C502.33,387.94 502.78,390.62 503.99,392.82 C505.2,395.01 508.38,396.97 508.99,398.67 C509.59,400.38 508.87,401.97 507.63,403.06 C506.38,404.16 504.26,404.01 501.5,405.26 C498.74,406.51 494.27,408.52 491.06,410.57 C487.84,412.61 484.06,415.02 482.2,417.52 C480.35,420.02 481.07,423.65 479.93,425.57 C478.8,427.5 477.32,428.08 475.39,429.05 C473.46,430.03 470.7,430.24 468.35,431.43 C466.01,432.62 463.25,434.24 461.32,436.19 C459.39,438.14 458.33,441.04 456.78,443.14 C455.23,445.25 453.98,446.89 452.01,448.81 C450.04,450.74 447.32,453.3 444.97,454.67 C442.63,456.04 440.51,457.02 437.94,457.05 C435.36,457.08 432.41,456.01 429.54,454.85 C426.66,453.7 422.73,451.87 420.69,450.1 C418.64,448.33 417.39,446.99 417.28,444.24 C417.17,441.5 419.1,437.35 420,433.63 C420.91,429.91 421.74,425.97 422.73,421.91 C423.71,417.86 425.91,412.7 425.91,409.29 C425.91,405.87 422.27,404.89 422.73,401.42 C423.18,397.94 427.5,393.03 428.63,388.43 C429.76,383.82 428.86,377.93 429.54,373.79 C430.22,369.64 431.13,366.47 432.72,363.54 C434.3,360.61 436.8,358.17 439.07,356.22 C441.34,354.27 443.69,353.01 446.34,351.83 C448.98,350.64 452.54,350.27 454.96,349.08 C457.38,347.89 458.9,346.03 460.86,344.69 C462.83,343.35 464.57,341.79 466.77,341.03 C468.96,340.27 471.34,339.9 474.03,340.11 Z"/></clipPath><linearGradient id="gC" x1="0" y1="1" x2="0" y2="0"><stop offset="0" stop-color="#e6e2e2"/><stop offset="0.5" stop-color="#fa8a72"/><stop offset="1" stop-color="#ff1408"/></linearGradient></defs>
<rect width="685" height="839" fill="#fff"/>
<text x="-0.5" y="14.6" font-size="20" fill="#000" text-anchor="start" >A</text>
<text x="3.5" y="273.6" font-size="20" fill="#000" text-anchor="start" >B</text>
<text x="333.5" y="318.2" font-size="20" fill="#000" text-anchor="start" >C</text>
<text x="334.5" y="548.5" font-size="20" fill="#000" text-anchor="start" >D</text>
<rect x="52.9" y="18.9" width="73.4" height="88.4" fill="none" stroke="#c8c8c8" stroke-width="0.8" />
<path d="M97.48,22.45 C99.44,22.6 101.98,23.28 103.95,23.98 C105.91,24.68 107.76,25.56 109.25,26.66 C110.74,27.77 112.37,29.27 112.89,30.61 C113.42,31.95 112.23,33.33 112.4,34.69 C112.56,36.05 113.36,37.24 113.89,38.77 C114.41,40.3 115.07,42.17 115.54,43.87 C116.01,45.57 116.35,47.27 116.7,48.97 C117.06,50.67 117.26,52.37 117.7,54.07 C118.14,55.77 118.47,57.64 119.36,59.17 C120.24,60.7 122.56,62.06 123,63.25 C123.44,64.44 122.92,65.55 122.01,66.31 C121.1,67.08 119.55,66.97 117.53,67.84 C115.52,68.71 112.26,70.12 109.91,71.54 C107.56,72.96 104.8,74.64 103.45,76.38 C102.09,78.13 102.62,80.66 101.79,81.99 C100.96,83.33 99.89,83.74 98.48,84.42 C97.07,85.1 95.05,85.25 93.34,86.08 C91.63,86.9 89.61,88.03 88.2,89.39 C86.8,90.75 86.02,92.77 84.89,94.23 C83.76,95.7 82.85,96.85 81.41,98.19 C79.97,99.53 77.99,101.31 76.27,102.27 C74.56,103.22 73.01,103.9 71.14,103.92 C69.26,103.95 67.1,103.2 65.01,102.39 C62.91,101.59 60.03,100.31 58.54,99.08 C57.05,97.85 56.14,96.91 56.06,95 C55.98,93.09 57.38,90.2 58.05,87.61 C58.71,85.01 59.32,82.27 60.03,79.44 C60.75,76.62 62.35,73.03 62.35,70.65 C62.35,68.27 59.7,67.59 60.03,65.16 C60.37,62.74 63.51,59.32 64.34,56.11 C65.17,52.9 64.51,48.8 65.01,45.91 C65.5,43.02 66.17,40.81 67.33,38.77 C68.49,36.73 70.31,35.03 71.97,33.67 C73.62,32.31 75.33,31.44 77.27,30.61 C79.2,29.78 81.8,29.53 83.56,28.7 C85.33,27.87 86.44,26.57 87.87,25.64 C89.31,24.71 90.58,23.62 92.18,23.09 C93.78,22.56 95.52,22.3 97.48,22.45 Z" fill="#e0dfe0" filter="url(#bl05)"/>
<g clip-path="url(#c1)"><g filter="url(#bl15)">
<path d="M58.54,79.44 L66,78.42 L79.26,77.79 L86.71,73.33 L90.86,78.42 L98.48,82.25 L98.48,84.42 L93.34,86.08 L88.2,89.39 L84.89,94.23 L81.41,98.19 L76.27,102.27 L71.14,103.92 L64.34,102.91 L57.72,99.46 L54.73,95 L56.72,87.61 Z" fill="#d6d2d6" fill-opacity="1" stroke="#d6d2d6" stroke-width="1" stroke-linejoin="round"/>
<path d="M58.54,65.16 L62.69,56.11 L74.28,53.56 L82.57,55.47 L84.23,59.94 L85.06,65.67 L86.71,73.33 L79.26,77.79 L66,78.42 L58.54,79.44 L61.03,70.65 Z" fill="#d0c5d0" fill-opacity="1" stroke="#d0c5d0" stroke-width="1" stroke-linejoin="round"/>
<path d="M107.42,34.56 L111.57,35.07 L113.89,38.77 L115.54,43.87 L116.7,48.97 L117.7,54.07 L119.36,59.17 L123,63.25 L122.01,66.31 L117.53,67.84 L109.91,71.54 L103.45,74.6 L99.97,65.67 L103.28,56.75 L107.42,49.1 L109.74,40.17 Z" fill="#bf9cbf" fill-opacity="1" stroke="#bf9cbf" stroke-width="1" stroke-linejoin="round"/>
<path d="M89.2,28.06 L87.87,25.64 L92.18,23.09 L97.48,22.45 L103.95,23.98 L109.25,26.66 L112.89,30.61 L111.57,35.07 L107.42,34.56 L99.14,31.25 Z" fill="#c6adc6" fill-opacity="1" stroke="#c6adc6" stroke-width="1" stroke-linejoin="round"/>
<path d="M63.51,45.91 L66.33,38.77 L71.97,33.67 L77.27,30.61 L83.56,28.7 L84.23,40.17 L82.57,55.47 L74.28,53.56 L62.69,55.47 Z" fill="#974697" fill-opacity="1" stroke="#974697" stroke-width="1" stroke-linejoin="round"/>
<path d="M83.56,28.7 L87.87,25.64 L89.2,28.06 L99.14,31.25 L107.42,34.56 L109.74,40.17 L107.42,49.1 L103.28,56.75 L97.48,59.94 L89.2,59.3 L82.57,55.47 L84.23,40.17 Z" fill="#974697" fill-opacity="1" stroke="#974697" stroke-width="1" stroke-linejoin="round"/>
<path d="M82.57,55.47 L89.2,59.3 L97.48,59.94 L103.28,56.75 L99.97,65.67 L103.45,74.6 L103.45,76.38 L101.79,81.99 L98.48,82.25 L90.86,78.42 L86.71,73.33 L85.06,65.67 L84.23,59.94 Z" fill="#923b92" fill-opacity="1" stroke="#923b92" stroke-width="1" stroke-linejoin="round"/>
</g></g>
<rect x="54.06" y="20.45" width="70.94" height="85.47" fill="#fff" filter="url(#spk)" clip-path="url(#c1)"/>
<line x1="66" y1="107.3" x2="66" y2="109" stroke="#999" stroke-width="0.5" />
<text x="66" y="113.7" font-size="5.3" fill="#5a5a5a" text-anchor="middle" >-8</text>
<line x1="82.57" y1="107.3" x2="82.57" y2="109" stroke="#999" stroke-width="0.5" />
<text x="82.57" y="113.7" font-size="5.3" fill="#5a5a5a" text-anchor="middle" >-7</text>
<line x1="99.14" y1="107.3" x2="99.14" y2="109" stroke="#999" stroke-width="0.5" />
<text x="99.14" y="113.7" font-size="5.3" fill="#5a5a5a" text-anchor="middle" >-6</text>
<line x1="115.71" y1="107.3" x2="115.71" y2="109" stroke="#999" stroke-width="0.5" />
<text x="115.71" y="113.7" font-size="5.3" fill="#5a5a5a" text-anchor="middle" >-5</text>
<line x1="50.9" y1="84.8" x2="52.9" y2="84.8" stroke="#999" stroke-width="0.5" />
<text x="50.5" y="86.7" font-size="5.3" fill="#5a5a5a" text-anchor="end" >0</text>
<line x1="50.9" y1="59.3" x2="52.9" y2="59.3" stroke="#999" stroke-width="0.5" />
<text x="50.5" y="61.2" font-size="5.3" fill="#5a5a5a" text-anchor="end" >2</text>
<line x1="50.9" y1="33.8" x2="52.9" y2="33.8" stroke="#999" stroke-width="0.5" />
<text x="50.5" y="35.7" font-size="5.3" fill="#5a5a5a" text-anchor="end" >4</text>
<text x="89.6" y="16.1" font-size="11" fill="#000" text-anchor="middle" >CD8A</text>
<circle cx="107.2" cy="89" r="1.3" fill="#d8b0d8"/>
<text x="111" y="91.45" font-size="6.8" fill="#222" text-anchor="start" >0.5</text>
<circle cx="107.2" cy="100.1" r="1.3" fill="#a346a3"/>
<text x="111" y="102.55" font-size="6.8" fill="#222" text-anchor="start" >1.0</text>
<rect x="156.9" y="16.6" width="75.5" height="88.6" fill="none" stroke="#c8c8c8" stroke-width="0.8" />
<path d="M202.14,19.91 C204.15,20.06 206.75,20.74 208.76,21.44 C210.77,22.15 212.66,23.02 214.19,24.13 C215.72,25.24 217.39,26.76 217.93,28.1 C218.46,29.44 217.25,30.83 217.42,32.2 C217.59,33.56 218.41,34.76 218.94,36.29 C219.48,37.83 220.16,39.71 220.64,41.41 C221.12,43.12 221.46,44.83 221.83,46.53 C222.2,48.24 222.39,49.95 222.85,51.65 C223.3,53.36 223.64,55.24 224.54,56.77 C225.45,58.31 227.82,59.67 228.28,60.87 C228.73,62.06 228.19,63.17 227.26,63.94 C226.33,64.71 224.74,64.6 222.68,65.48 C220.61,66.35 217.27,67.76 214.87,69.19 C212.47,70.62 209.64,72.3 208.25,74.05 C206.87,75.8 207.4,78.34 206.56,79.68 C205.71,81.03 204.6,81.43 203.16,82.12 C201.72,82.8 199.65,82.95 197.9,83.78 C196.15,84.61 194.08,85.74 192.64,87.11 C191.2,88.47 190.41,90.5 189.25,91.97 C188.09,93.44 187.15,94.6 185.68,95.94 C184.21,97.28 182.17,99.08 180.42,100.04 C178.67,101 177.08,101.68 175.16,101.7 C173.24,101.72 171.03,100.97 168.88,100.16 C166.73,99.35 163.79,98.07 162.26,96.84 C160.74,95.6 159.8,94.66 159.72,92.74 C159.63,90.82 161.08,87.92 161.75,85.32 C162.43,82.71 163.06,79.96 163.79,77.12 C164.53,74.29 166.17,70.68 166.17,68.29 C166.17,65.9 163.45,65.22 163.79,62.79 C164.13,60.36 167.35,56.92 168.2,53.7 C169.05,50.48 168.37,46.36 168.88,43.46 C169.39,40.56 170.07,38.34 171.26,36.29 C172.45,34.24 174.31,32.54 176.01,31.17 C177.71,29.81 179.46,28.93 181.44,28.1 C183.42,27.27 186.08,27.01 187.89,26.18 C189.7,25.35 190.83,24.05 192.3,23.11 C193.77,22.17 195.07,21.08 196.71,20.55 C198.35,20.01 200.13,19.76 202.14,19.91 Z" fill="#e0dfe0" filter="url(#bl05)"/>
<g clip-path="url(#c2)"><g filter="url(#bl15)">
<path d="M167.35,43.46 L170.24,36.29 L176.01,31.17 L181.44,28.1 L187.89,26.18 L188.57,37.7 L186.87,53.06 L178.38,51.14 L166.51,53.06 Z" fill="#d2c9d2" fill-opacity="1" stroke="#d2c9d2" stroke-width="1" stroke-linejoin="round"/>
<path d="M187.89,26.18 L192.3,23.11 L193.66,25.54 L203.84,28.74 L212.32,32.07 L214.7,37.7 L212.32,46.66 L208.08,54.34 L202.14,57.54 L193.66,56.9 L186.87,53.06 L188.57,37.7 Z" fill="#d2c9d2" fill-opacity="1" stroke="#d2c9d2" stroke-width="1" stroke-linejoin="round"/>
<path d="M193.66,25.54 L192.3,23.11 L196.71,20.55 L202.14,19.91 L208.76,21.44 L214.19,24.13 L217.93,28.1 L216.57,32.58 L212.32,32.07 L203.84,28.74 Z" fill="#d5ced5" fill-opacity="1" stroke="#d5ced5" stroke-width="1" stroke-linejoin="round"/>
<path d="M212.32,32.07 L216.57,32.58 L218.94,36.29 L220.64,41.41 L221.83,46.53 L222.85,51.65 L224.54,56.77 L228.28,60.87 L227.26,63.94 L222.68,65.48 L214.87,69.19 L208.25,72.26 L204.69,63.3 L208.08,54.34 L212.32,46.66 L214.7,37.7 Z" fill="#c8b1c8" fill-opacity="1" stroke="#c8b1c8" stroke-width="1" stroke-linejoin="round"/>
<path d="M186.87,53.06 L193.66,56.9 L202.14,57.54 L208.08,54.34 L204.69,63.3 L208.25,72.26 L208.25,74.05 L206.56,79.68 L203.16,79.94 L195.36,76.1 L191.11,70.98 L189.42,63.3 L188.57,57.54 Z" fill="#b78bb7" fill-opacity="1" stroke="#b78bb7" stroke-width="1" stroke-linejoin="round"/>
<path d="M162.26,62.79 L166.51,53.7 L178.38,51.14 L186.87,53.06 L188.57,57.54 L189.42,63.3 L191.11,70.98 L183.48,75.46 L169.9,76.1 L162.26,77.12 L164.81,68.29 Z" fill="#b78bb7" fill-opacity="1" stroke="#b78bb7" stroke-width="1" stroke-linejoin="round"/>
<path d="M162.26,77.12 L169.9,76.1 L183.48,75.46 L191.11,70.98 L195.36,76.1 L203.16,79.94 L203.16,82.12 L197.9,83.78 L192.64,87.11 L189.25,91.97 L185.68,95.94 L180.42,100.04 L175.16,101.7 L168.2,100.68 L161.42,97.22 L158.36,92.74 L160.4,85.32 Z" fill="#ae79ae" fill-opacity="1" stroke="#ae79ae" stroke-width="1" stroke-linejoin="round"/>
<path d="M161.42,85.06 C163.39,82.5 169.62,79.73 173.29,79.94 C176.97,80.15 181.78,83.57 183.48,86.34 C185.17,89.11 184.89,94.02 183.48,96.58 C182.06,99.14 178.67,101.91 174.99,101.7 C171.31,101.49 163.68,98.07 161.42,95.3 C159.15,92.53 159.44,87.62 161.42,85.06 Z" fill="#a05ba0" fill-opacity="1" stroke="#a05ba0" stroke-width="1" stroke-linejoin="round"/>
<path d="M188.57,67.14 C190.55,64.58 200.16,62.02 203.84,63.3 C207.52,64.58 211.19,71.62 210.63,74.82 C210.06,78.02 203.56,81.86 200.45,82.5 C197.33,83.14 193.94,81.22 191.96,78.66 C189.98,76.1 186.59,69.7 188.57,67.14 Z" fill="#aa71aa" fill-opacity="1" stroke="#aa71aa" stroke-width="1" stroke-linejoin="round"/>
</g></g>
<rect x="157.72" y="17.91" width="72.56" height="85.79" fill="#fff" filter="url(#spk)" clip-path="url(#c2)"/>
<line x1="169.9" y1="105.2" x2="169.9" y2="106.9" stroke="#999" stroke-width="0.5" />
<text x="169.9" y="111.6" font-size="5.3" fill="#5a5a5a" text-anchor="middle" >-8</text>
<line x1="186.87" y1="105.2" x2="186.87" y2="106.9" stroke="#999" stroke-width="0.5" />
<text x="186.87" y="111.6" font-size="5.3" fill="#5a5a5a" text-anchor="middle" >-7</text>
<line x1="203.84" y1="105.2" x2="203.84" y2="106.9" stroke="#999" stroke-width="0.5" />
<text x="203.84" y="111.6" font-size="5.3" fill="#5a5a5a" text-anchor="middle" >-6</text>
<line x1="220.81" y1="105.2" x2="220.81" y2="106.9" stroke="#999" stroke-width="0.5" />
<text x="220.81" y="111.6" font-size="5.3" fill="#5a5a5a" text-anchor="middle" >-5</text>
<line x1="154.9" y1="82.5" x2="156.9" y2="82.5" stroke="#999" stroke-width="0.5" />
<text x="154.5" y="84.4" font-size="5.3" fill="#5a5a5a" text-anchor="end" >0</text>
<line x1="154.9" y1="56.9" x2="156.9" y2="56.9" stroke="#999" stroke-width="0.5" />
<text x="154.5" y="58.8" font-size="5.3" fill="#5a5a5a" text-anchor="end" >2</text>
<line x1="154.9" y1="31.3" x2="156.9" y2="31.3" stroke="#999" stroke-width="0.5" />
<text x="154.5" y="33.2" font-size="5.3" fill="#5a5a5a" text-anchor="end" >4</text>
<text x="192.8" y="14.5" font-size="11" fill="#000" text-anchor="middle" >CD4</text>
<circle cx="209.9" cy="85.7" r="1.1" fill="#dcc4dc"/>
<text x="213.9" y="88.15" font-size="6.8" fill="#222" text-anchor="start" >0.2</text>
<circle cx="209.9" cy="93.55" r="1.1" fill="#c08cc0"/>
<text x="213.9" y="96" font-size="6.8" fill="#222" text-anchor="start" >0.4</text>
<circle cx="209.9" cy="101.4" r="1.1" fill="#9b4c9b"/>
<text x="213.9" y="103.85" font-size="6.8" fill="#222" text-anchor="start" >0.6</text>
<rect x="53.1" y="131.8" width="74.7" height="86.8" fill="none" stroke="#c8c8c8" stroke-width="0.8" />
<path d="M98.45,134.89 C100.45,135.03 103.04,135.71 105.03,136.4 C107.03,137.09 108.91,137.95 110.43,139.04 C111.95,140.14 113.61,141.63 114.14,142.95 C114.68,144.27 113.47,145.64 113.64,146.98 C113.8,148.33 114.62,149.5 115.15,151.01 C115.69,152.53 116.36,154.37 116.84,156.05 C117.32,157.73 117.66,159.41 118.02,161.09 C118.39,162.77 118.58,164.45 119.03,166.13 C119.48,167.81 119.82,169.66 120.72,171.17 C121.62,172.69 123.98,174.03 124.43,175.21 C124.88,176.38 124.35,177.47 123.42,178.23 C122.49,178.99 120.92,178.88 118.87,179.74 C116.81,180.6 113.5,181.99 111.11,183.4 C108.72,184.8 105.9,186.46 104.53,188.18 C103.15,189.91 103.68,192.41 102.84,193.73 C102,195.05 100.9,195.45 99.47,196.12 C98.03,196.79 95.98,196.94 94.24,197.76 C92.49,198.58 90.44,199.69 89.01,201.04 C87.57,202.38 86.78,204.38 85.63,205.82 C84.48,207.27 83.55,208.41 82.09,209.73 C80.63,211.05 78.6,212.82 76.86,213.76 C75.12,214.71 73.54,215.38 71.63,215.4 C69.72,215.42 67.52,214.69 65.39,213.89 C63.25,213.09 60.33,211.83 58.81,210.61 C57.29,209.39 56.36,208.47 56.28,206.58 C56.19,204.69 57.63,201.83 58.3,199.27 C58.98,196.71 59.6,194 60.33,191.21 C61.06,188.41 62.69,184.87 62.69,182.51 C62.69,180.16 59.99,179.49 60.33,177.1 C60.66,174.7 63.87,171.32 64.71,168.15 C65.56,164.98 64.88,160.93 65.39,158.07 C65.89,155.21 66.57,153.03 67.75,151.01 C68.93,149 70.79,147.32 72.47,145.97 C74.16,144.63 75.9,143.77 77.87,142.95 C79.84,142.13 82.48,141.88 84.28,141.06 C86.08,140.24 87.21,138.96 88.67,138.04 C90.13,137.11 91.42,136.04 93.05,135.52 C94.69,134.99 96.46,134.74 98.45,134.89 Z" fill="#e0dfe0" filter="url(#bl05)"/>
<g clip-path="url(#c3)"><g filter="url(#bl15)">
<path d="M63.87,158.07 L66.74,151.01 L72.47,145.97 L77.87,142.95 L84.28,141.06 L84.96,152.4 L83.27,167.52 L74.84,165.63 L63.03,167.52 Z" fill="#d5d0d5" fill-opacity="1" stroke="#d5d0d5" stroke-width="1" stroke-linejoin="round"/>
<path d="M84.28,141.06 L88.67,138.04 L90.02,140.43 L100.14,143.58 L108.58,146.86 L110.94,152.4 L108.58,161.22 L104.36,168.78 L98.45,171.93 L90.02,171.3 L83.27,167.52 L84.96,152.4 Z" fill="#d5d0d5" fill-opacity="1" stroke="#d5d0d5" stroke-width="1" stroke-linejoin="round"/>
<path d="M90.02,140.43 L88.67,138.04 L93.05,135.52 L98.45,134.89 L105.03,136.4 L110.43,139.04 L114.14,142.95 L112.79,147.36 L108.58,146.86 L100.14,143.58 Z" fill="#d5d0d5" fill-opacity="1" stroke="#d5d0d5" stroke-width="1" stroke-linejoin="round"/>
<path d="M108.58,146.86 L112.79,147.36 L115.15,151.01 L116.84,156.05 L118.02,161.09 L119.03,166.13 L120.72,171.17 L124.43,175.21 L123.42,178.23 L118.87,179.74 L111.11,183.4 L104.53,186.42 L100.98,177.6 L104.36,168.78 L108.58,161.22 L110.94,152.4 Z" fill="#d5ced5" fill-opacity="1" stroke="#d5ced5" stroke-width="1" stroke-linejoin="round"/>
<path d="M83.27,167.52 L90.02,171.3 L98.45,171.93 L104.36,168.78 L100.98,177.6 L104.53,186.42 L104.53,188.18 L102.84,193.73 L99.47,193.98 L91.71,190.2 L87.49,185.16 L85.8,177.6 L84.96,171.93 Z" fill="#d0c5d0" fill-opacity="1" stroke="#d0c5d0" stroke-width="1" stroke-linejoin="round"/>
<path d="M58.81,177.1 L63.03,168.15 L74.84,165.63 L83.27,167.52 L84.96,171.93 L85.8,177.6 L87.49,185.16 L79.9,189.57 L66.4,190.2 L58.81,191.21 L61.34,182.51 Z" fill="#d0c5d0" fill-opacity="1" stroke="#d0c5d0" stroke-width="1" stroke-linejoin="round"/>
<path d="M58.81,191.21 L66.4,190.2 L79.9,189.57 L87.49,185.16 L91.71,190.2 L99.47,193.98 L99.47,196.12 L94.24,197.76 L89.01,201.04 L85.63,205.82 L82.09,209.73 L76.86,213.76 L71.63,215.4 L64.71,214.39 L57.97,210.99 L54.93,206.58 L56.95,199.27 Z" fill="#bb94bb" fill-opacity="1" stroke="#bb94bb" stroke-width="1" stroke-linejoin="round"/>
<path d="M57.97,197.76 C60.64,195.66 68.65,194.61 73.15,195.24 C77.65,195.87 83.55,199.02 84.96,201.54 C86.36,204.06 83.55,208.05 81.58,210.36 C79.61,212.67 77.22,215.82 73.15,215.4 C69.07,214.98 59.65,210.78 57.12,207.84 C54.59,204.9 55.29,199.86 57.97,197.76 Z" fill="#812181" fill-opacity="1" stroke="#812181" stroke-width="1" stroke-linejoin="round"/>
</g></g>
<rect x="54.28" y="132.89" width="72.15" height="84.51" fill="#fff" filter="url(#spk)" clip-path="url(#c3)"/>
<line x1="66.4" y1="218.6" x2="66.4" y2="220.3" stroke="#999" stroke-width="0.5" />
<text x="66.4" y="225" font-size="5.3" fill="#5a5a5a" text-anchor="middle" >-8</text>
<line x1="83.27" y1="218.6" x2="83.27" y2="220.3" stroke="#999" stroke-width="0.5" />
<text x="83.27" y="225" font-size="5.3" fill="#5a5a5a" text-anchor="middle" >-7</text>
<line x1="100.14" y1="218.6" x2="100.14" y2="220.3" stroke="#999" stroke-width="0.5" />
<text x="100.14" y="225" font-size="5.3" fill="#5a5a5a" text-anchor="middle" >-6</text>
<line x1="117.01" y1="218.6" x2="117.01" y2="220.3" stroke="#999" stroke-width="0.5" />
<text x="117.01" y="225" font-size="5.3" fill="#5a5a5a" text-anchor="middle" >-5</text>
<line x1="51.1" y1="196.5" x2="53.1" y2="196.5" stroke="#999" stroke-width="0.5" />
<text x="50.7" y="198.4" font-size="5.3" fill="#5a5a5a" text-anchor="end" >0</text>
<line x1="51.1" y1="171.3" x2="53.1" y2="171.3" stroke="#999" stroke-width="0.5" />
<text x="50.7" y="173.2" font-size="5.3" fill="#5a5a5a" text-anchor="end" >2</text>
<line x1="51.1" y1="146.1" x2="53.1" y2="146.1" stroke="#999" stroke-width="0.5" />
<text x="50.7" y="148" font-size="5.3" fill="#5a5a5a" text-anchor="end" >4</text>
<text x="89.5" y="129" font-size="11" fill="#000" text-anchor="middle" >FOXP3</text>
<circle cx="110" cy="185" r="1" fill="#eeeeee"/>
<text x="114.3" y="187.38" font-size="6.6" fill="#222" text-anchor="start" >0</text>
<circle cx="110" cy="192.35" r="1" fill="#e0cce0"/>
<text x="114.3" y="194.73" font-size="6.6" fill="#222" text-anchor="start" >0.25</text>
<circle cx="110" cy="199.7" r="1" fill="#cda0cd"/>
<text x="114.3" y="202.08" font-size="6.6" fill="#222" text-anchor="start" >0.50</text>
<circle cx="110" cy="207.05" r="1" fill="#b070b0"/>
<text x="114.3" y="209.43" font-size="6.6" fill="#222" text-anchor="start" >0.75</text>
<circle cx="110" cy="214.4" r="1" fill="#8f2a8f"/>
<text x="114.3" y="216.78" font-size="6.6" fill="#222" text-anchor="start" >1.0</text>
<rect x="156.7" y="129.5" width="76.2" height="87.6" fill="none" stroke="#c8c8c8" stroke-width="0.8" />
<path d="M202.69,132.99 C204.71,133.13 207.34,133.8 209.36,134.5 C211.38,135.19 213.29,136.05 214.83,137.14 C216.37,138.24 218.05,139.73 218.59,141.05 C219.13,142.37 217.91,143.74 218.08,145.08 C218.25,146.43 219.08,147.6 219.62,149.11 C220.16,150.63 220.84,152.47 221.33,154.15 C221.81,155.83 222.16,157.51 222.53,159.19 C222.9,160.87 223.1,162.55 223.55,164.23 C224.01,165.91 224.35,167.76 225.26,169.27 C226.17,170.79 228.57,172.13 229.02,173.31 C229.48,174.48 228.94,175.57 228,176.33 C227.06,177.09 225.46,176.98 223.38,177.84 C221.3,178.7 217.94,180.09 215.51,181.5 C213.09,182.9 210.24,184.56 208.85,186.28 C207.45,188.01 207.99,190.5 207.14,191.83 C206.28,193.15 205.17,193.55 203.72,194.22 C202.26,194.89 200.18,195.04 198.41,195.86 C196.65,196.68 194.57,197.79 193.11,199.14 C191.66,200.48 190.86,202.48 189.69,203.92 C188.53,205.37 187.58,206.51 186.1,207.83 C184.62,209.15 182.57,210.92 180.8,211.86 C179.03,212.81 177.44,213.48 175.5,213.5 C173.56,213.52 171.34,212.79 169.17,211.99 C167.01,211.19 164.04,209.93 162.5,208.71 C160.97,207.49 160.03,206.57 159.94,204.68 C159.85,202.79 161.31,199.93 161.99,197.37 C162.68,194.81 163.3,192.1 164.04,189.31 C164.79,186.51 166.44,182.97 166.44,180.61 C166.44,178.26 163.7,177.59 164.04,175.2 C164.39,172.8 167.63,169.42 168.49,166.25 C169.34,163.08 168.66,159.03 169.17,156.17 C169.69,153.31 170.37,151.13 171.57,149.11 C172.76,147.1 174.65,145.42 176.36,144.07 C178.07,142.73 179.83,141.87 181.83,141.05 C183.82,140.23 186.5,139.98 188.33,139.16 C190.15,138.34 191.29,137.06 192.77,136.14 C194.25,135.21 195.56,134.14 197.22,133.62 C198.87,133.09 200.67,132.84 202.69,132.99 Z" fill="#e0dfe0" filter="url(#bl05)"/>
<g clip-path="url(#c4)"><g filter="url(#bl15)">
<path d="M167.63,156.17 L170.54,149.11 L176.36,144.07 L181.83,141.05 L188.33,139.16 L189.01,150.5 L187.3,165.62 L178.75,163.73 L166.78,165.62 Z" fill="#d6d2d6" fill-opacity="1" stroke="#d6d2d6" stroke-width="1" stroke-linejoin="round"/>
<path d="M188.33,139.16 L192.77,136.14 L194.14,138.53 L204.4,141.68 L212.95,144.96 L215.34,150.5 L212.95,159.32 L208.67,166.88 L202.69,170.03 L194.14,169.4 L187.3,165.62 L189.01,150.5 Z" fill="#d5d0d5" fill-opacity="1" stroke="#d5d0d5" stroke-width="1" stroke-linejoin="round"/>
<path d="M194.14,138.53 L192.77,136.14 L197.22,133.62 L202.69,132.99 L209.36,134.5 L214.83,137.14 L218.59,141.05 L217.22,145.46 L212.95,144.96 L204.4,141.68 Z" fill="#d5d0d5" fill-opacity="1" stroke="#d5d0d5" stroke-width="1" stroke-linejoin="round"/>
<path d="M212.95,144.96 L217.22,145.46 L219.62,149.11 L221.33,154.15 L222.53,159.19 L223.55,164.23 L225.26,169.27 L229.02,173.31 L228,176.33 L223.38,177.84 L215.51,181.5 L208.85,184.52 L205.25,175.7 L208.67,166.88 L212.95,159.32 L215.34,150.5 Z" fill="#d5d0d5" fill-opacity="1" stroke="#d5d0d5" stroke-width="1" stroke-linejoin="round"/>
<path d="M187.3,165.62 L194.14,169.4 L202.69,170.03 L208.67,166.88 L205.25,175.7 L208.85,184.52 L208.85,186.28 L207.14,191.83 L203.72,192.08 L195.85,188.3 L191.57,183.26 L189.87,175.7 L189.01,170.03 Z" fill="#d5d0d5" fill-opacity="1" stroke="#d5d0d5" stroke-width="1" stroke-linejoin="round"/>
<path d="M162.5,175.2 L166.78,166.25 L178.75,163.73 L187.3,165.62 L189.01,170.03 L189.87,175.7 L191.57,183.26 L183.88,187.67 L170.2,188.3 L162.5,189.31 L165.07,180.61 Z" fill="#d8d5d8" fill-opacity="1" stroke="#d8d5d8" stroke-width="1" stroke-linejoin="round"/>
<path d="M162.5,189.31 L170.2,188.3 L183.88,187.67 L191.57,183.26 L195.85,188.3 L203.72,192.08 L203.72,194.22 L198.41,195.86 L193.11,199.14 L189.69,203.92 L186.1,207.83 L180.8,211.86 L175.5,213.5 L168.49,212.49 L161.65,209.09 L158.57,204.68 L160.62,197.37 Z" fill="#d8d5d8" fill-opacity="1" stroke="#d8d5d8" stroke-width="1" stroke-linejoin="round"/>
<path d="M182.17,146.09 C183.11,142.31 184.96,142.5 187.81,140.42 C190.66,138.34 195.08,134.56 199.27,133.62 C203.46,132.67 209.73,133.43 212.95,134.75 C216.17,136.07 219.16,139.1 218.59,141.55 C218.02,144.01 211.24,145.9 209.53,149.49 C207.82,153.08 209.27,159.11 208.33,163.1 C207.39,167.09 204.26,170.01 203.89,173.43 C203.52,176.85 205.6,180.53 206.11,183.64 C206.62,186.75 208.39,190.46 206.97,192.08 C205.54,193.7 200.35,194.18 197.56,193.34 C194.77,192.5 191.43,190.55 190.21,187.04 C188.98,183.53 191.55,176.29 190.21,172.3 C188.87,168.31 183.51,167.47 182.17,163.1 C180.83,158.73 181.23,149.87 182.17,146.09 Z" fill="#aa71aa" fill-opacity="1" stroke="#aa71aa" stroke-width="1" stroke-linejoin="round"/>
<path d="M187.81,140.42 C190.09,138.24 195.08,134.56 199.27,133.62 C203.46,132.67 209.73,133.43 212.95,134.75 C216.17,136.07 218.59,139.56 218.59,141.55 C218.59,143.55 216.17,145.65 212.95,146.72 C209.73,147.79 203.83,147.98 199.27,147.98 C194.71,147.98 187.5,147.98 185.59,146.72 C183.68,145.46 185.53,142.6 187.81,140.42 Z" fill="#984b98" fill-opacity="1" stroke="#984b98" stroke-width="1" stroke-linejoin="round"/>
</g></g>
<rect x="157.94" y="130.99" width="73.08" height="84.51" fill="#fff" filter="url(#spk)" clip-path="url(#c4)"/>
<line x1="170.2" y1="217.1" x2="170.2" y2="218.8" stroke="#999" stroke-width="0.5" />
<text x="170.2" y="223.5" font-size="5.3" fill="#5a5a5a" text-anchor="middle" >-8</text>
<line x1="187.3" y1="217.1" x2="187.3" y2="218.8" stroke="#999" stroke-width="0.5" />
<text x="187.3" y="223.5" font-size="5.3" fill="#5a5a5a" text-anchor="middle" >-7</text>
<line x1="204.4" y1="217.1" x2="204.4" y2="218.8" stroke="#999" stroke-width="0.5" />
<text x="204.4" y="223.5" font-size="5.3" fill="#5a5a5a" text-anchor="middle" >-6</text>
<line x1="221.5" y1="217.1" x2="221.5" y2="218.8" stroke="#999" stroke-width="0.5" />
<text x="221.5" y="223.5" font-size="5.3" fill="#5a5a5a" text-anchor="middle" >-5</text>
<line x1="154.7" y1="194.6" x2="156.7" y2="194.6" stroke="#999" stroke-width="0.5" />
<text x="154.3" y="196.5" font-size="5.3" fill="#5a5a5a" text-anchor="end" >0</text>
<line x1="154.7" y1="169.4" x2="156.7" y2="169.4" stroke="#999" stroke-width="0.5" />
<text x="154.3" y="171.3" font-size="5.3" fill="#5a5a5a" text-anchor="end" >2</text>
<line x1="154.7" y1="144.2" x2="156.7" y2="144.2" stroke="#999" stroke-width="0.5" />
<text x="154.3" y="146.1" font-size="5.3" fill="#5a5a5a" text-anchor="end" >4</text>
<text x="190.3" y="126.6" font-size="11" fill="#000" text-anchor="middle" >NCR1</text>
<circle cx="210.6" cy="195.8" r="1.1" fill="#eeeeee"/>
<text x="214" y="198.18" font-size="6.6" fill="#222" text-anchor="start" >0</text>
<circle cx="210.6" cy="203.65" r="1.1" fill="#d6aad6"/>
<text x="214" y="206.03" font-size="6.6" fill="#222" text-anchor="start" >0.05</text>
<circle cx="210.6" cy="211.5" r="1.1" fill="#a653a6"/>
<text x="214" y="213.88" font-size="6.6" fill="#222" text-anchor="start" >0.10</text>
<line x1="39.3" y1="26.5" x2="39.3" y2="229.5" stroke="#000" stroke-width="1.2" />
<path d="M35.2,30.8 L39.3,24.2 L43.4,30.8" fill="none" stroke="#000" stroke-width="1.1"/>
<line x1="38.7" y1="229.5" x2="228" y2="229.5" stroke="#000" stroke-width="1.2" />
<path d="M222,225.4 L228.8,229.5 L222,233.6" fill="none" stroke="#000" stroke-width="1.1"/>
<text font-size="9.2" fill="#000" text-anchor="middle" transform="translate(36.0,192) rotate(-90)">UMAP_2</text>
<text x="73" y="240.9" font-size="9.2" fill="#000" text-anchor="middle" >UMAP_1</text>
<path d="M239.6,75.1 L251.6,63.8 L251.6,69.3 L293.1,69.3 L293.1,80.9 L251.6,80.9 L251.6,86.8 Z" fill="#ff0000"/>
<rect x="304.5" y="10.2" width="214.1" height="214.2" fill="none" stroke="#d4d4d4" stroke-width="0.9" />
<line x1="357.4" y1="224.4" x2="357.4" y2="226.5" stroke="#999" stroke-width="0.6" />
<text x="0" y="0" font-size="12" fill="#5a5a5a" text-anchor="middle" transform="translate(357.4,237) scale(0.78,1) translate(0,0)" >-5</text>
<line x1="417.4" y1="224.4" x2="417.4" y2="226.5" stroke="#999" stroke-width="0.6" />
<text x="0" y="0" font-size="12" fill="#5a5a5a" text-anchor="middle" transform="translate(417.4,237) scale(0.78,1) translate(0,0)" >0</text>
<line x1="477.4" y1="224.4" x2="477.4" y2="226.5" stroke="#999" stroke-width="0.6" />
<text x="0" y="0" font-size="12" fill="#5a5a5a" text-anchor="middle" transform="translate(477.4,237) scale(0.78,1) translate(0,0)" >5</text>
<line x1="302.5" y1="49.7" x2="304.5" y2="49.7" stroke="#999" stroke-width="0.6" />
<text x="0" y="0" font-size="12.2" fill="#5a5a5a" text-anchor="end" transform="translate(301.2,54.1) scale(0.78,1) translate(0,0)" >5</text>
<line x1="302.5" y1="99.7" x2="304.5" y2="99.7" stroke="#999" stroke-width="0.6" />
<text x="0" y="0" font-size="12.2" fill="#5a5a5a" text-anchor="end" transform="translate(301.2,104.1) scale(0.78,1) translate(0,0)" >0</text>
<line x1="302.5" y1="149.7" x2="304.5" y2="149.7" stroke="#999" stroke-width="0.6" />
<text x="0" y="0" font-size="12.2" fill="#5a5a5a" text-anchor="end" transform="translate(301.2,154.1) scale(0.78,1) translate(0,0)" >-5</text>
<line x1="302.5" y1="199.7" x2="304.5" y2="199.7" stroke="#999" stroke-width="0.6" />
<text x="0" y="0" font-size="12.2" fill="#5a5a5a" text-anchor="end" transform="translate(301.2,204.1) scale(0.78,1) translate(0,0)" >-10</text>
<text font-size="13.4" fill="#111" text-anchor="middle" transform="translate(283.3,118) scale(0.84,1) rotate(-90)">UMAP_2</text>
<text x="0" y="0" font-size="13.3" fill="#111" text-anchor="middle" transform="translate(410.8,250.5) scale(0.8,1) translate(0,0)" >UMAP_1</text>
<path d="M317.5,74.5 C318.17,73 320.43,73.08 322,73.5 C323.57,73.92 326.4,75.58 326.9,77 C327.4,78.42 326.48,81.08 325,82 C323.52,82.92 319.25,83.75 318,82.5 C316.75,81.25 316.83,76 317.5,74.5 Z" fill="#a8cdea" filter="url(#bl05)"/>
<path d="M358,83 C358.67,82.17 362.17,83.5 364,84 C365.83,84.5 367.42,84.5 369,86 C370.58,87.5 373,91.33 373.5,93 C374,94.67 373.25,96.17 372,96 C370.75,95.83 368,93.17 366,92 C364,90.83 361.33,90.5 360,89 C358.67,87.5 357.33,83.83 358,83 Z" fill="#c4dcf0" filter="url(#bl05)"/>
<path d="M339.7,51.1 C341.83,50.48 344.37,50.02 346.7,50.3 C349.03,50.58 352.05,51.6 353.7,52.8 C355.35,54 356.02,55.35 356.6,57.5 C357.18,59.65 356.9,62.97 357.2,65.7 C357.5,68.43 357.82,71.37 358.4,73.9 C358.98,76.43 359.92,79.05 360.7,80.9 C361.48,82.75 363.87,83.45 363.1,85 C362.33,86.55 358.25,88.55 356.1,90.2 C353.95,91.85 351.77,93.33 350.2,94.9 C348.63,96.47 347.87,98.23 346.7,99.6 C345.53,100.97 345.15,101.75 343.2,103.1 C341.25,104.45 337.92,105.95 335,107.7 C332.08,109.45 328.42,112.43 325.7,113.6 C322.98,114.77 320.65,115.3 318.7,114.7 C316.75,114.1 314.68,112.13 314,110 C313.32,107.87 314.2,104.62 314.6,101.9 C315,99.18 316.02,96.62 316.4,93.7 C316.78,90.78 316.32,87.12 316.9,84.4 C317.48,81.68 319.32,80.13 319.9,77.4 C320.48,74.67 319.92,70.92 320.4,68 C320.88,65.08 321.53,61.65 322.8,59.9 C324.07,58.15 326.15,58.48 328,57.5 C329.85,56.52 331.95,55.07 333.9,54 C335.85,52.93 337.57,51.72 339.7,51.1 Z" fill="#5f7e22" />
<path d="M430.2,21 C430.62,20.2 431.15,19.28 433.1,19.1 C435.05,18.92 439.7,19.1 441.9,19.9 C444.1,20.7 444.6,22.63 446.3,23.9 C448,25.17 450.52,26.17 452.1,27.5 C453.68,28.83 455,30.32 455.8,31.9 C456.6,33.48 457.03,35.67 456.9,37 C456.77,38.33 456.28,39.53 455,39.9 C453.72,40.27 450.9,39.8 449.2,39.2 C447.5,38.6 445.9,37.77 444.8,36.3 C443.7,34.83 443.57,31.98 442.6,30.4 C441.63,28.82 440.58,27.58 439,26.8 C437.42,26.02 434.5,26.18 433.1,25.7 C431.7,25.22 431.08,24.68 430.6,23.9 C430.12,23.12 429.78,21.8 430.2,21 Z" fill="#e8dfdb" />
<path d="M443.4,41.4 C444.13,40.92 446.33,41 447,42.1 C447.67,43.2 447.47,45.8 447.4,48 C447.33,50.2 447.27,53.97 446.6,55.3 C445.93,56.63 444.18,56.73 443.4,56 C442.62,55.27 442.03,52.73 441.9,50.9 C441.77,49.07 442.35,46.58 442.6,45 C442.85,43.42 442.67,41.88 443.4,41.4 Z" fill="#b4b018" />
<path d="M426.6,90.8 C427.08,88.73 430,85.92 431.7,84.2 C433.4,82.48 435.35,81.72 436.8,80.5 C438.25,79.28 439.55,78.83 440.4,76.9 C441.25,74.97 440.68,71.03 441.9,68.9 C443.12,66.77 445.52,65.08 447.7,64.1 C449.88,63.12 452.57,62.68 455,63 C457.43,63.32 460.58,64.65 462.3,66 C464.02,67.35 463.58,70.02 465.3,71.1 C467.02,72.18 469.68,72.15 472.6,72.5 C475.52,72.85 480.13,73.43 482.8,73.2 C485.47,72.97 487.38,72 488.6,71.1 C489.82,70.2 489.37,68.17 490.1,67.8 C490.83,67.43 492.27,67.63 493,68.9 C493.73,70.17 493.28,73.82 494.5,75.4 C495.72,76.98 498.6,76.68 500.3,78.4 C502,80.12 503.48,83.03 504.7,85.7 C505.92,88.37 507,91.48 507.6,94.4 C508.2,97.32 508.78,101 508.3,103.2 C507.82,105.4 506.77,106.38 504.7,107.6 C502.63,108.82 498.58,109.53 495.9,110.5 C493.22,111.47 491.52,113.03 488.6,113.4 C485.68,113.77 481.8,113.18 478.4,112.7 C475,112.22 471.6,110.5 468.2,110.5 C464.8,110.5 460.68,112.47 458,112.7 C455.32,112.93 453.57,113 452.1,111.9 C450.63,110.8 450.9,107.8 449.2,106.1 C447.5,104.4 444.33,102.92 441.9,101.7 C439.47,100.48 436.78,99.65 434.6,98.8 C432.42,97.95 430.13,97.93 428.8,96.6 C427.47,95.27 426.12,92.87 426.6,90.8 Z" fill="#74aadb" />
<path d="M372.1,137.7 C371.97,136.02 372.88,132.9 374.5,130.5 C376.12,128.1 378.98,125.17 381.8,123.3 C384.62,121.43 389,120.63 391.4,119.3 C393.8,117.97 394.07,116.17 396.2,115.3 C398.33,114.43 401.52,114.1 404.2,114.1 C406.88,114.1 410.02,114.57 412.3,115.3 C414.58,116.03 416.7,116.77 417.9,118.5 C419.1,120.23 419.63,123.7 419.5,125.7 C419.37,127.7 418.57,129.7 417.1,130.5 C415.63,131.3 413.38,129.97 410.7,130.5 C408.02,131.03 404.75,132.65 401,133.7 C397.25,134.75 391.4,135.65 388.2,136.8 C385,137.95 383.95,139.97 381.8,140.6 C379.65,141.23 376.92,141.08 375.3,140.6 C373.68,140.12 372.23,139.38 372.1,137.7 Z" fill="#582212" />
<path d="M383.4,136.9 C385.8,135.02 396.45,133.3 401,132.1 C405.55,130.9 408.28,130.23 410.7,129.7 C413.12,129.17 413.9,127.97 415.5,128.9 C417.1,129.83 419.77,133.15 420.3,135.3 C420.83,137.45 420.3,139.92 418.7,141.8 C417.1,143.68 413.12,145 410.7,146.6 C408.28,148.2 405.82,150.07 404.2,151.4 C402.58,152.73 402.6,154.33 401,154.6 C399.4,154.87 395.93,154.07 394.6,153 C393.27,151.93 394.33,149.8 393,148.2 C391.67,146.6 388.2,145.28 386.6,143.4 C385,141.52 381,138.78 383.4,136.9 Z" fill="#68d410" />
<path d="M398.6,155.4 C399.53,153.53 401.65,152.87 404.2,151.4 C406.75,149.93 410.68,148.75 413.9,146.6 C417.12,144.45 420.3,140.78 423.5,138.5 C426.7,136.22 430.63,134.23 433.1,132.9 C435.57,131.57 438.03,129.83 438.3,130.5 C438.57,131.17 436.63,134.22 434.7,136.9 C432.77,139.58 429.63,143.65 426.7,146.6 C423.77,149.55 419.77,151.67 417.1,154.6 C414.43,157.53 412.32,161.92 410.7,164.2 C409.08,166.48 408.75,167.77 407.4,168.3 C406.05,168.83 404.07,168.35 402.6,167.4 C401.13,166.45 399.27,164.6 398.6,162.6 C397.93,160.6 397.67,157.27 398.6,155.4 Z" fill="#dcdb10" />
<path d="M421.5,136.5 C422,135.77 424.42,134.38 426,133.8 C427.58,133.22 430.67,132.58 431,133 C431.33,133.42 429.33,135.43 428,136.3 C426.67,137.17 424.08,138.17 423,138.2 C421.92,138.23 421,137.23 421.5,136.5 Z" fill="#e6dc30" />
<path d="M348.8,143.4 C349.6,143.67 351.05,146.87 352.8,148.2 C354.55,149.53 357.42,150.33 359.3,151.4 C361.18,152.47 362.9,153 364.1,154.6 C365.3,156.2 366.77,159.27 366.5,161 C366.23,162.73 364.23,164.2 362.5,165 C360.77,165.8 358.25,166.2 356.1,165.8 C353.95,165.4 350.95,164.73 349.6,162.6 C348.25,160.47 348.27,155.67 348,153 C347.73,150.33 347.87,148.2 348,146.6 C348.13,145 348,143.13 348.8,143.4 Z" fill="#dcdb10" />
<ellipse cx="424.6" cy="181.6" rx="3.7" ry="3.9" fill="#783723"/>
<line x1="424.9" y1="174.5" x2="424.9" y2="178" stroke="#9ccf80" stroke-width="1.3" />
<path d="M393.5,212.5 L402.2,207.2 L404.6,209.8 L397,215.2 Z" fill="#7a5a0e" stroke="#7a5a0e" stroke-width="1.6" stroke-linejoin="round"/>
<circle cx="402.5" cy="206.2" r="0.9" fill="#e8e040"/>
<ellipse cx="338.8" cy="74.9" rx="39.7" ry="47.4" fill="none" stroke="#ff0000" stroke-width="2.5"/>
<text x="320.4" y="46.4" font-size="8.9" fill="#000" text-anchor="start" >T, NK cells</text>
<text x="452.5" y="25.8" font-size="8.9" fill="#000" text-anchor="start" >Fibroblasts</text>
<text x="395" y="49.9" font-size="8.9" fill="#000" text-anchor="start" >Tissue stem</text>
<text x="410.5" y="60.4" font-size="8.9" fill="#000" text-anchor="start" >cells</text>
<text x="452.2" y="92.7" font-size="8.9" fill="#000" text-anchor="start" >Epithelial</text>
<text x="462.1" y="103.6" font-size="8.9" fill="#000" text-anchor="start" >cells</text>
<text x="379.9" y="110" font-size="8.9" fill="#000" text-anchor="start" >Macrophages</text>
<text x="359.9" y="148.5" font-size="8.9" fill="#000" text-anchor="start" >Monocytes</text>
<text x="367.9" y="179.2" font-size="8.9" fill="#000" text-anchor="start" >B cells</text>
<line x1="360.9" y1="164.2" x2="366.5" y2="169.9" stroke="#000" stroke-width="0.8" />
<line x1="394.6" y1="173.1" x2="405" y2="164.2" stroke="#000" stroke-width="0.8" />
<text x="437.2" y="183" font-size="8.9" fill="#000" text-anchor="start" >Endothelial cells</text>
<text x="413.1" y="215.2" font-size="8.9" fill="#000" text-anchor="start" >CD34 (-) Pre-B cells</text>
<ellipse cx="532.5" cy="79" rx="3.5" ry="4.2" fill="#8ecdf4"/>
<text x="541.4" y="82.2" font-size="8.9" fill="#000" text-anchor="start" >Epithelial cells</text>
<ellipse cx="532.5" cy="91.05" rx="3.5" ry="4.2" fill="#6b8b2b"/>
<text x="541.4" y="94.25" font-size="8.9" fill="#000" text-anchor="start" >T, NK cells</text>
<ellipse cx="532.5" cy="103.1" rx="3.5" ry="4.2" fill="#9b4b36"/>
<text x="541.4" y="106.3" font-size="8.9" fill="#000" text-anchor="start" >Endothelial cells</text>
<ellipse cx="532.5" cy="115.15" rx="3.5" ry="4.2" fill="#6b2812"/>
<text x="541.4" y="118.35" font-size="8.9" fill="#000" text-anchor="start" >Macrophages</text>
<ellipse cx="532.5" cy="127.2" rx="3.5" ry="4.2" fill="#fcefe6"/>
<text x="541.4" y="130.4" font-size="8.9" fill="#000" text-anchor="start" >Fibroblasts</text>
<ellipse cx="532.5" cy="139.25" rx="3.5" ry="4.2" fill="#ffee00"/>
<text x="541.4" y="142.45" font-size="8.9" fill="#000" text-anchor="start" >B cells</text>
<ellipse cx="532.5" cy="151.3" rx="3.5" ry="4.2" fill="#77ee22"/>
<text x="541.4" y="154.5" font-size="8.9" fill="#000" text-anchor="start" >Monocytes</text>
<ellipse cx="532.5" cy="163.35" rx="3.5" ry="4.2" fill="#d4c41a"/>
<text x="541.4" y="166.55" font-size="8.9" fill="#000" text-anchor="start" >Tissue stem cells</text>
<ellipse cx="532.5" cy="175.4" rx="3.5" ry="4.2" fill="#8b6012"/>
<text x="541.4" y="178.6" font-size="8.9" fill="#000" text-anchor="start" >CD34 (-) Pre-B cells</text>
<rect x="40.7" y="279.7" width="74.8" height="87.2" fill="none" stroke="#c8c8c8" stroke-width="0.8" />
<path d="M85.43,283.09 C87.41,283.23 89.97,283.91 91.94,284.6 C93.92,285.29 95.78,286.15 97.29,287.24 C98.79,288.34 100.43,289.83 100.96,291.15 C101.49,292.47 100.29,293.84 100.46,295.18 C100.63,296.53 101.43,297.7 101.96,299.21 C102.49,300.73 103.16,302.57 103.63,304.25 C104.11,305.93 104.44,307.61 104.8,309.29 C105.16,310.97 105.36,312.65 105.8,314.33 C106.25,316.01 106.58,317.86 107.47,319.37 C108.36,320.89 110.7,322.23 111.15,323.41 C111.59,324.58 111.06,325.67 110.15,326.43 C109.23,327.19 107.67,327.08 105.64,327.94 C103.61,328.8 100.32,330.19 97.96,331.6 C95.59,333 92.81,334.66 91.44,336.38 C90.08,338.11 90.61,340.61 89.77,341.93 C88.94,343.25 87.85,343.65 86.43,344.32 C85.01,344.99 82.98,345.14 81.26,345.96 C79.53,346.78 77.5,347.89 76.08,349.24 C74.66,350.58 73.88,352.57 72.74,354.02 C71.6,355.47 70.68,356.61 69.23,357.93 C67.78,359.25 65.78,361.02 64.05,361.96 C62.33,362.91 60.77,363.58 58.88,363.6 C56.98,363.62 54.81,362.89 52.7,362.09 C50.58,361.29 47.69,360.03 46.19,358.81 C44.68,357.59 43.76,356.67 43.68,354.78 C43.6,352.89 45.02,350.03 45.68,347.47 C46.35,344.91 46.96,342.2 47.69,339.41 C48.41,336.62 50.03,333.07 50.03,330.71 C50.03,328.36 47.35,327.69 47.69,325.3 C48.02,322.9 51.2,319.52 52.03,316.35 C52.87,313.18 52.2,309.13 52.7,306.27 C53.2,303.41 53.87,301.23 55.04,299.21 C56.21,297.2 58.04,295.52 59.71,294.17 C61.38,292.83 63.11,291.97 65.06,291.15 C67,290.33 69.62,290.08 71.4,289.26 C73.18,288.44 74.3,287.16 75.74,286.24 C77.19,285.31 78.47,284.24 80.09,283.72 C81.7,283.19 83.45,282.94 85.43,283.09 Z" fill="#e0dfe0" filter="url(#bl05)"/>
<g clip-path="url(#c5)"><g filter="url(#bl15)">
<path d="M51.2,306.27 L54.03,299.21 L59.71,294.17 L65.06,291.15 L71.4,289.26 L72.07,300.6 L70.4,315.72 L62.05,313.83 L50.36,315.72 Z" fill="#a466a4" fill-opacity="1" stroke="#a466a4" stroke-width="1" stroke-linejoin="round"/>
<path d="M71.4,289.26 L75.74,286.24 L77.08,288.63 L87.1,291.78 L95.45,295.06 L97.79,300.6 L95.45,309.42 L91.28,316.98 L85.43,320.13 L77.08,319.5 L70.4,315.72 L72.07,300.6 Z" fill="#ae79ae" fill-opacity="1" stroke="#ae79ae" stroke-width="1" stroke-linejoin="round"/>
<path d="M77.08,288.63 L75.74,286.24 L80.09,283.72 L85.43,283.09 L91.94,284.6 L97.29,287.24 L100.96,291.15 L99.62,295.56 L95.45,295.06 L87.1,291.78 Z" fill="#b78bb7" fill-opacity="1" stroke="#b78bb7" stroke-width="1" stroke-linejoin="round"/>
<path d="M95.45,295.06 L99.62,295.56 L101.96,299.21 L103.63,304.25 L104.8,309.29 L105.8,314.33 L107.47,319.37 L111.15,323.41 L110.15,326.43 L105.64,327.94 L97.96,331.6 L91.44,334.62 L87.94,325.8 L91.28,316.98 L95.45,309.42 L97.79,300.6 Z" fill="#b78bb7" fill-opacity="1" stroke="#b78bb7" stroke-width="1" stroke-linejoin="round"/>
<path d="M70.4,315.72 L77.08,319.5 L85.43,320.13 L91.28,316.98 L87.94,325.8 L91.44,334.62 L91.44,336.38 L89.77,341.93 L86.43,342.18 L78.75,338.4 L74.58,333.36 L72.91,325.8 L72.07,320.13 Z" fill="#a05ba0" fill-opacity="1" stroke="#a05ba0" stroke-width="1" stroke-linejoin="round"/>
<path d="M46.19,325.3 L50.36,316.35 L62.05,313.83 L70.4,315.72 L72.07,320.13 L72.91,325.8 L74.58,333.36 L67.06,337.77 L53.7,338.4 L46.19,339.41 L48.69,330.71 Z" fill="#b283b2" fill-opacity="1" stroke="#b283b2" stroke-width="1" stroke-linejoin="round"/>
<path d="M46.19,339.41 L53.7,338.4 L67.06,337.77 L74.58,333.36 L78.75,338.4 L86.43,342.18 L86.43,344.32 L81.26,345.96 L76.08,349.24 L72.74,354.02 L69.23,357.93 L64.05,361.96 L58.88,363.6 L52.03,362.59 L45.35,359.19 L42.34,354.78 L44.35,347.47 Z" fill="#c2a4c2" fill-opacity="1" stroke="#c2a4c2" stroke-width="1" stroke-linejoin="round"/>
</g></g>
<rect x="41.68" y="281.09" width="71.47" height="84.51" fill="#fff" filter="url(#spk)" clip-path="url(#c5)"/>
<line x1="53.7" y1="366.9" x2="53.7" y2="368.6" stroke="#999" stroke-width="0.5" />
<text x="53.7" y="373.3" font-size="5.3" fill="#5a5a5a" text-anchor="middle" >-8</text>
<line x1="70.4" y1="366.9" x2="70.4" y2="368.6" stroke="#999" stroke-width="0.5" />
<text x="70.4" y="373.3" font-size="5.3" fill="#5a5a5a" text-anchor="middle" >-7</text>
<line x1="87.1" y1="366.9" x2="87.1" y2="368.6" stroke="#999" stroke-width="0.5" />
<text x="87.1" y="373.3" font-size="5.3" fill="#5a5a5a" text-anchor="middle" >-6</text>
<line x1="103.8" y1="366.9" x2="103.8" y2="368.6" stroke="#999" stroke-width="0.5" />
<text x="103.8" y="373.3" font-size="5.3" fill="#5a5a5a" text-anchor="middle" >-5</text>
<line x1="38.7" y1="344.7" x2="40.7" y2="344.7" stroke="#999" stroke-width="0.5" />
<text x="38.3" y="346.6" font-size="5.3" fill="#5a5a5a" text-anchor="end" >0</text>
<line x1="38.7" y1="319.5" x2="40.7" y2="319.5" stroke="#999" stroke-width="0.5" />
<text x="38.3" y="321.4" font-size="5.3" fill="#5a5a5a" text-anchor="end" >2</text>
<line x1="38.7" y1="294.3" x2="40.7" y2="294.3" stroke="#999" stroke-width="0.5" />
<text x="38.3" y="296.2" font-size="5.3" fill="#5a5a5a" text-anchor="end" >4</text>
<text x="75.8" y="277.2" font-size="11" fill="#000" text-anchor="middle" >SLAMF6</text>
<circle cx="96.3" cy="334" r="1.15" fill="#eeeeee"/>
<text x="101" y="336.45" font-size="6.8" fill="#222" text-anchor="start" >0</text>
<circle cx="96.3" cy="341.35" r="1.15" fill="#dcc2dc"/>
<text x="101" y="343.8" font-size="6.8" fill="#222" text-anchor="start" >0.04</text>
<circle cx="96.3" cy="348.7" r="1.15" fill="#c592c5"/>
<text x="101" y="351.15" font-size="6.8" fill="#222" text-anchor="start" >0.08</text>
<circle cx="96.3" cy="356.05" r="1.15" fill="#ad62ad"/>
<text x="101" y="358.5" font-size="6.8" fill="#222" text-anchor="start" >0.12</text>
<circle cx="96.3" cy="363.4" r="1.15" fill="#8f2a8f"/>
<text x="101" y="365.85" font-size="6.8" fill="#222" text-anchor="start" >0.16</text>
<rect x="132.3" y="279.7" width="74.8" height="87.2" fill="none" stroke="#c8c8c8" stroke-width="0.8" />
<path d="M177.03,283.09 C179.01,283.23 181.57,283.91 183.54,284.6 C185.52,285.29 187.38,286.15 188.89,287.24 C190.39,288.34 192.03,289.83 192.56,291.15 C193.09,292.47 191.89,293.84 192.06,295.18 C192.23,296.53 193.03,297.7 193.56,299.21 C194.09,300.73 194.76,302.57 195.23,304.25 C195.71,305.93 196.04,307.61 196.4,309.29 C196.76,310.97 196.96,312.65 197.4,314.33 C197.85,316.01 198.18,317.86 199.07,319.37 C199.96,320.89 202.3,322.23 202.75,323.41 C203.19,324.58 202.66,325.67 201.75,326.43 C200.83,327.19 199.27,327.08 197.24,327.94 C195.21,328.8 191.92,330.19 189.56,331.6 C187.19,333 184.41,334.66 183.04,336.38 C181.68,338.11 182.21,340.61 181.37,341.93 C180.54,343.25 179.45,343.65 178.03,344.32 C176.61,344.99 174.58,345.14 172.86,345.96 C171.13,346.78 169.1,347.89 167.68,349.24 C166.26,350.58 165.48,352.57 164.34,354.02 C163.2,355.47 162.28,356.61 160.83,357.93 C159.38,359.25 157.38,361.02 155.65,361.96 C153.93,362.91 152.37,363.58 150.48,363.6 C148.58,363.62 146.41,362.89 144.3,362.09 C142.18,361.29 139.29,360.03 137.79,358.81 C136.28,357.59 135.36,356.67 135.28,354.78 C135.2,352.89 136.62,350.03 137.28,347.47 C137.95,344.91 138.56,342.2 139.29,339.41 C140.01,336.62 141.63,333.07 141.63,330.71 C141.63,328.36 138.95,327.69 139.29,325.3 C139.62,322.9 142.8,319.52 143.63,316.35 C144.47,313.18 143.8,309.13 144.3,306.27 C144.8,303.41 145.47,301.23 146.64,299.21 C147.81,297.2 149.64,295.52 151.31,294.17 C152.98,292.83 154.71,291.97 156.66,291.15 C158.6,290.33 161.22,290.08 163,289.26 C164.78,288.44 165.9,287.16 167.34,286.24 C168.79,285.31 170.07,284.24 171.69,283.72 C173.3,283.19 175.05,282.94 177.03,283.09 Z" fill="#e0dfe0" filter="url(#bl05)"/>
<g clip-path="url(#c6)"><g filter="url(#bl15)">
<path d="M142.8,306.27 L145.63,299.21 L151.31,294.17 L156.66,291.15 L163,289.26 L163.67,300.6 L162,315.72 L153.65,313.83 L141.96,315.72 Z" fill="#984b98" fill-opacity="1" stroke="#984b98" stroke-width="1" stroke-linejoin="round"/>
<path d="M163,289.26 L167.34,286.24 L168.68,288.63 L178.7,291.78 L187.05,295.06 L189.39,300.6 L187.05,309.42 L182.88,316.98 L177.03,320.13 L168.68,319.5 L162,315.72 L163.67,300.6 Z" fill="#944094" fill-opacity="1" stroke="#944094" stroke-width="1" stroke-linejoin="round"/>
<path d="M168.68,288.63 L167.34,286.24 L171.69,283.72 L177.03,283.09 L183.54,284.6 L188.89,287.24 L192.56,291.15 L191.23,295.56 L187.05,295.06 L178.7,291.78 Z" fill="#a466a4" fill-opacity="1" stroke="#a466a4" stroke-width="1" stroke-linejoin="round"/>
<path d="M187.05,295.06 L191.23,295.56 L193.56,299.21 L195.23,304.25 L196.4,309.29 L197.4,314.33 L199.07,319.37 L202.75,323.41 L201.75,326.43 L197.24,327.94 L189.56,331.6 L183.04,334.62 L179.53,325.8 L182.88,316.98 L187.05,309.42 L189.39,300.6 Z" fill="#c9b5c9" fill-opacity="1" stroke="#c9b5c9" stroke-width="1" stroke-linejoin="round"/>
<path d="M162,315.72 L168.68,319.5 L177.03,320.13 L182.88,316.98 L179.53,325.8 L183.04,334.62 L183.04,336.38 L181.37,341.93 L178.03,342.18 L170.35,338.4 L166.18,333.36 L164.51,325.8 L163.67,320.13 Z" fill="#923b92" fill-opacity="1" stroke="#923b92" stroke-width="1" stroke-linejoin="round"/>
<path d="M137.79,325.3 L141.96,316.35 L153.65,313.83 L162,315.72 L163.67,320.13 L164.51,325.8 L166.18,333.36 L158.66,337.77 L145.3,338.4 L137.79,339.41 L140.29,330.71 Z" fill="#d0c5d0" fill-opacity="1" stroke="#d0c5d0" stroke-width="1" stroke-linejoin="round"/>
<path d="M137.79,339.41 L145.3,338.4 L158.66,337.77 L166.18,333.36 L170.35,338.4 L178.03,342.18 L178.03,344.32 L172.86,345.96 L167.68,349.24 L164.34,354.02 L160.83,357.93 L155.65,361.96 L150.48,363.6 L143.63,362.59 L136.95,359.19 L133.94,354.78 L135.95,347.47 Z" fill="#d5ced5" fill-opacity="1" stroke="#d5ced5" stroke-width="1" stroke-linejoin="round"/>
</g></g>
<rect x="133.28" y="281.09" width="71.47" height="84.51" fill="#fff" filter="url(#spk)" clip-path="url(#c6)"/>
<line x1="145.3" y1="366.9" x2="145.3" y2="368.6" stroke="#999" stroke-width="0.5" />
<text x="145.3" y="373.3" font-size="5.3" fill="#5a5a5a" text-anchor="middle" >-8</text>
<line x1="162" y1="366.9" x2="162" y2="368.6" stroke="#999" stroke-width="0.5" />
<text x="162" y="373.3" font-size="5.3" fill="#5a5a5a" text-anchor="middle" >-7</text>
<line x1="178.7" y1="366.9" x2="178.7" y2="368.6" stroke="#999" stroke-width="0.5" />
<text x="178.7" y="373.3" font-size="5.3" fill="#5a5a5a" text-anchor="middle" >-6</text>
<line x1="195.4" y1="366.9" x2="195.4" y2="368.6" stroke="#999" stroke-width="0.5" />
<text x="195.4" y="373.3" font-size="5.3" fill="#5a5a5a" text-anchor="middle" >-5</text>
<line x1="130.3" y1="344.7" x2="132.3" y2="344.7" stroke="#999" stroke-width="0.5" />
<text x="129.9" y="346.6" font-size="5.3" fill="#5a5a5a" text-anchor="end" >0</text>
<line x1="130.3" y1="319.5" x2="132.3" y2="319.5" stroke="#999" stroke-width="0.5" />
<text x="129.9" y="321.4" font-size="5.3" fill="#5a5a5a" text-anchor="end" >2</text>
<line x1="130.3" y1="294.3" x2="132.3" y2="294.3" stroke="#999" stroke-width="0.5" />
<text x="129.9" y="296.2" font-size="5.3" fill="#5a5a5a" text-anchor="end" >4</text>
<text x="167.4" y="277.2" font-size="11" fill="#000" text-anchor="middle" >GZMA</text>
<circle cx="187.5" cy="341.4" r="1.15" fill="#d8b8d8"/>
<text x="192.2" y="343.85" font-size="6.8" fill="#222" text-anchor="start" >1</text>
<circle cx="187.5" cy="351.3" r="1.15" fill="#b874b8"/>
<text x="192.2" y="353.75" font-size="6.8" fill="#222" text-anchor="start" >2</text>
<circle cx="187.5" cy="361.2" r="1.15" fill="#8f2a8f"/>
<text x="192.2" y="363.65" font-size="6.8" fill="#222" text-anchor="start" >3</text>
<rect x="224.5" y="279.7" width="74.8" height="87.2" fill="none" stroke="#c8c8c8" stroke-width="0.8" />
<path d="M269.23,283.09 C271.21,283.23 273.77,283.91 275.74,284.6 C277.72,285.29 279.58,286.15 281.09,287.24 C282.59,288.34 284.23,289.83 284.76,291.15 C285.29,292.47 284.09,293.84 284.26,295.18 C284.43,296.53 285.23,297.7 285.76,299.21 C286.29,300.73 286.96,302.57 287.43,304.25 C287.91,305.93 288.24,307.61 288.6,309.29 C288.96,310.97 289.16,312.65 289.6,314.33 C290.05,316.01 290.38,317.86 291.27,319.37 C292.16,320.89 294.5,322.23 294.95,323.41 C295.39,324.58 294.86,325.67 293.95,326.43 C293.03,327.19 291.47,327.08 289.44,327.94 C287.41,328.8 284.12,330.19 281.75,331.6 C279.39,333 276.61,334.66 275.24,336.38 C273.88,338.11 274.41,340.61 273.57,341.93 C272.74,343.25 271.65,343.65 270.23,344.32 C268.81,344.99 266.78,345.14 265.06,345.96 C263.33,346.78 261.3,347.89 259.88,349.24 C258.46,350.58 257.68,352.57 256.54,354.02 C255.4,355.47 254.48,356.61 253.03,357.93 C251.58,359.25 249.58,361.02 247.85,361.96 C246.13,362.91 244.57,363.58 242.68,363.6 C240.78,363.62 238.61,362.89 236.5,362.09 C234.38,361.29 231.49,360.03 229.99,358.81 C228.48,357.59 227.56,356.67 227.48,354.78 C227.4,352.89 228.82,350.03 229.48,347.47 C230.15,344.91 230.76,342.2 231.49,339.41 C232.21,336.62 233.83,333.07 233.83,330.71 C233.83,328.36 231.15,327.69 231.49,325.3 C231.82,322.9 235,319.52 235.83,316.35 C236.67,313.18 236,309.13 236.5,306.27 C237,303.41 237.67,301.23 238.84,299.21 C240.01,297.2 241.84,295.52 243.51,294.17 C245.18,292.83 246.91,291.97 248.86,291.15 C250.8,290.33 253.42,290.08 255.2,289.26 C256.98,288.44 258.1,287.16 259.54,286.24 C260.99,285.31 262.27,284.24 263.89,283.72 C265.5,283.19 267.25,282.94 269.23,283.09 Z" fill="#e0dfe0" filter="url(#bl05)"/>
<g clip-path="url(#c7)"><g filter="url(#bl15)">
<path d="M235,306.27 L237.83,299.21 L243.51,294.17 L248.86,291.15 L255.2,289.26 L255.87,300.6 L254.2,315.72 L245.85,313.83 L234.16,315.72 Z" fill="#c2a4c2" fill-opacity="1" stroke="#c2a4c2" stroke-width="1" stroke-linejoin="round"/>
<path d="M255.2,289.26 L259.54,286.24 L260.88,288.63 L270.9,291.78 L279.25,295.06 L281.59,300.6 L279.25,309.42 L275.07,316.98 L269.23,320.13 L260.88,319.5 L254.2,315.72 L255.87,300.6 Z" fill="#9b519b" fill-opacity="1" stroke="#9b519b" stroke-width="1" stroke-linejoin="round"/>
<path d="M260.88,288.63 L259.54,286.24 L263.89,283.72 L269.23,283.09 L275.74,284.6 L281.09,287.24 L284.76,291.15 L283.43,295.56 L279.25,295.06 L270.9,291.78 Z" fill="#a05ba0" fill-opacity="1" stroke="#a05ba0" stroke-width="1" stroke-linejoin="round"/>
<path d="M279.25,295.06 L283.43,295.56 L285.76,299.21 L287.43,304.25 L288.6,309.29 L289.6,314.33 L291.27,319.37 L294.95,323.41 L293.95,326.43 L289.44,327.94 L281.75,331.6 L275.24,334.62 L271.74,325.8 L275.07,316.98 L279.25,309.42 L281.59,300.6 Z" fill="#cdbdcd" fill-opacity="1" stroke="#cdbdcd" stroke-width="1" stroke-linejoin="round"/>
<path d="M254.2,315.72 L260.88,319.5 L269.23,320.13 L275.07,316.98 L271.74,325.8 L275.24,334.62 L275.24,336.38 L273.57,341.93 L270.23,342.18 L262.55,338.4 L258.38,333.36 L256.7,325.8 L255.87,320.13 Z" fill="#944094" fill-opacity="1" stroke="#944094" stroke-width="1" stroke-linejoin="round"/>
<path d="M229.99,325.3 L234.16,316.35 L245.85,313.83 L254.2,315.72 L255.87,320.13 L256.7,325.8 L258.38,333.36 L250.86,337.77 L237.5,338.4 L229.99,339.41 L232.49,330.71 Z" fill="#d5ced5" fill-opacity="1" stroke="#d5ced5" stroke-width="1" stroke-linejoin="round"/>
<path d="M229.99,339.41 L237.5,338.4 L250.86,337.77 L258.38,333.36 L262.55,338.4 L270.23,342.18 L270.23,344.32 L265.06,345.96 L259.88,349.24 L256.54,354.02 L253.03,357.93 L247.85,361.96 L242.68,363.6 L235.83,362.59 L229.15,359.19 L226.14,354.78 L228.15,347.47 Z" fill="#d6d2d6" fill-opacity="1" stroke="#d6d2d6" stroke-width="1" stroke-linejoin="round"/>
<path d="M247.52,298.08 C248.63,295.14 251.69,293.88 254.2,291.78 C256.7,289.68 259.77,286.85 262.55,285.48 C265.33,284.12 268.12,283.59 270.9,283.59 C273.68,283.59 277.3,284.12 279.25,285.48 C281.2,286.85 282.59,289.47 282.59,291.78 C282.59,294.09 280.36,295.98 279.25,299.34 C278.14,302.7 277.3,308.48 275.91,311.94 C274.52,315.4 273.4,318.66 270.9,320.13 C268.39,321.6 264.22,321.28 260.88,320.76 C257.54,320.24 253.09,318.87 250.86,316.98 C248.63,315.09 248.08,312.57 247.52,309.42 C246.96,306.27 246.41,301.02 247.52,298.08 Z" fill="#944094" fill-opacity="1" stroke="#944094" stroke-width="1" stroke-linejoin="round"/>
</g></g>
<rect x="225.48" y="281.09" width="71.47" height="84.51" fill="#fff" filter="url(#spk)" clip-path="url(#c7)"/>
<line x1="237.5" y1="366.9" x2="237.5" y2="368.6" stroke="#999" stroke-width="0.5" />
<text x="237.5" y="373.3" font-size="5.3" fill="#5a5a5a" text-anchor="middle" >-8</text>
<line x1="254.2" y1="366.9" x2="254.2" y2="368.6" stroke="#999" stroke-width="0.5" />
<text x="254.2" y="373.3" font-size="5.3" fill="#5a5a5a" text-anchor="middle" >-7</text>
<line x1="270.9" y1="366.9" x2="270.9" y2="368.6" stroke="#999" stroke-width="0.5" />
<text x="270.9" y="373.3" font-size="5.3" fill="#5a5a5a" text-anchor="middle" >-6</text>
<line x1="287.6" y1="366.9" x2="287.6" y2="368.6" stroke="#999" stroke-width="0.5" />
<text x="287.6" y="373.3" font-size="5.3" fill="#5a5a5a" text-anchor="middle" >-5</text>
<line x1="222.5" y1="344.7" x2="224.5" y2="344.7" stroke="#999" stroke-width="0.5" />
<text x="222.1" y="346.6" font-size="5.3" fill="#5a5a5a" text-anchor="end" >0</text>
<line x1="222.5" y1="319.5" x2="224.5" y2="319.5" stroke="#999" stroke-width="0.5" />
<text x="222.1" y="321.4" font-size="5.3" fill="#5a5a5a" text-anchor="end" >2</text>
<line x1="222.5" y1="294.3" x2="224.5" y2="294.3" stroke="#999" stroke-width="0.5" />
<text x="222.1" y="296.2" font-size="5.3" fill="#5a5a5a" text-anchor="end" >4</text>
<text x="259.6" y="277.2" font-size="11" fill="#000" text-anchor="middle" >GZMB</text>
<circle cx="284.5" cy="342.3" r="1.15" fill="#d8b8d8"/>
<text x="289.2" y="344.75" font-size="6.8" fill="#222" text-anchor="start" >1</text>
<circle cx="284.5" cy="352.15" r="1.15" fill="#b874b8"/>
<text x="289.2" y="354.6" font-size="6.8" fill="#222" text-anchor="start" >2</text>
<circle cx="284.5" cy="362" r="1.15" fill="#8f2a8f"/>
<text x="289.2" y="364.45" font-size="6.8" fill="#222" text-anchor="start" >3</text>
<rect x="40.7" y="390.7" width="74.8" height="87.2" fill="none" stroke="#c8c8c8" stroke-width="0.8" />
<path d="M85.43,394.09 C87.41,394.23 89.97,394.91 91.94,395.6 C93.92,396.29 95.78,397.15 97.29,398.24 C98.79,399.34 100.43,400.83 100.96,402.15 C101.49,403.47 100.29,404.84 100.46,406.18 C100.63,407.53 101.43,408.7 101.96,410.21 C102.49,411.73 103.16,413.57 103.63,415.25 C104.11,416.93 104.44,418.61 104.8,420.29 C105.16,421.97 105.36,423.65 105.8,425.33 C106.25,427.01 106.58,428.86 107.47,430.37 C108.36,431.89 110.7,433.23 111.15,434.41 C111.59,435.58 111.06,436.67 110.15,437.43 C109.23,438.19 107.67,438.08 105.64,438.94 C103.61,439.8 100.32,441.19 97.96,442.6 C95.59,444 92.81,445.66 91.44,447.38 C90.08,449.11 90.61,451.61 89.77,452.93 C88.94,454.25 87.85,454.65 86.43,455.32 C85.01,455.99 82.98,456.14 81.26,456.96 C79.53,457.78 77.5,458.89 76.08,460.24 C74.66,461.58 73.88,463.57 72.74,465.02 C71.6,466.47 70.68,467.61 69.23,468.93 C67.78,470.25 65.78,472.02 64.05,472.96 C62.33,473.91 60.77,474.58 58.88,474.6 C56.98,474.62 54.81,473.89 52.7,473.09 C50.58,472.29 47.69,471.03 46.19,469.81 C44.68,468.59 43.76,467.67 43.68,465.78 C43.6,463.89 45.02,461.03 45.68,458.47 C46.35,455.91 46.96,453.2 47.69,450.41 C48.41,447.62 50.03,444.07 50.03,441.71 C50.03,439.36 47.35,438.69 47.69,436.3 C48.02,433.9 51.2,430.52 52.03,427.35 C52.87,424.18 52.2,420.13 52.7,417.27 C53.2,414.41 53.87,412.23 55.04,410.21 C56.21,408.2 58.04,406.52 59.71,405.17 C61.38,403.83 63.11,402.97 65.06,402.15 C67,401.33 69.62,401.08 71.4,400.26 C73.18,399.44 74.3,398.16 75.74,397.24 C77.19,396.31 78.47,395.24 80.09,394.72 C81.7,394.19 83.45,393.94 85.43,394.09 Z" fill="#e0dfe0" filter="url(#bl05)"/>
<g clip-path="url(#c8)"><g filter="url(#bl15)">
<path d="M51.2,417.27 L54.03,410.21 L59.71,405.17 L65.06,402.15 L71.4,400.26 L72.07,411.6 L70.4,426.72 L62.05,424.83 L50.36,426.72 Z" fill="#d5d0d5" fill-opacity="1" stroke="#d5d0d5" stroke-width="1" stroke-linejoin="round"/>
<path d="M71.4,400.26 L75.74,397.24 L77.08,399.63 L87.1,402.78 L95.45,406.06 L97.79,411.6 L95.45,420.42 L91.28,427.98 L85.43,431.13 L77.08,430.5 L70.4,426.72 L72.07,411.6 Z" fill="#d5ced5" fill-opacity="1" stroke="#d5ced5" stroke-width="1" stroke-linejoin="round"/>
<path d="M77.08,399.63 L75.74,397.24 L80.09,394.72 L85.43,394.09 L91.94,395.6 L97.29,398.24 L100.96,402.15 L99.62,406.56 L95.45,406.06 L87.1,402.78 Z" fill="#d5d0d5" fill-opacity="1" stroke="#d5d0d5" stroke-width="1" stroke-linejoin="round"/>
<path d="M95.45,406.06 L99.62,406.56 L101.96,410.21 L103.63,415.25 L104.8,420.29 L105.8,425.33 L107.47,430.37 L111.15,434.41 L110.15,437.43 L105.64,438.94 L97.96,442.6 L91.44,445.62 L87.94,436.8 L91.28,427.98 L95.45,420.42 L97.79,411.6 Z" fill="#d5d0d5" fill-opacity="1" stroke="#d5d0d5" stroke-width="1" stroke-linejoin="round"/>
<path d="M70.4,426.72 L77.08,430.5 L85.43,431.13 L91.28,427.98 L87.94,436.8 L91.44,445.62 L91.44,447.38 L89.77,452.93 L86.43,453.18 L78.75,449.4 L74.58,444.36 L72.91,436.8 L72.07,431.13 Z" fill="#c9b5c9" fill-opacity="1" stroke="#c9b5c9" stroke-width="1" stroke-linejoin="round"/>
<path d="M46.19,436.3 L50.36,427.35 L62.05,424.83 L70.4,426.72 L72.07,431.13 L72.91,436.8 L74.58,444.36 L67.06,448.77 L53.7,449.4 L46.19,450.41 L48.69,441.71 Z" fill="#d6d2d6" fill-opacity="1" stroke="#d6d2d6" stroke-width="1" stroke-linejoin="round"/>
<path d="M46.19,450.41 L53.7,449.4 L67.06,448.77 L74.58,444.36 L78.75,449.4 L86.43,453.18 L86.43,455.32 L81.26,456.96 L76.08,460.24 L72.74,465.02 L69.23,468.93 L64.05,472.96 L58.88,474.6 L52.03,473.59 L45.35,470.19 L42.34,465.78 L44.35,458.47 Z" fill="#d6d2d6" fill-opacity="1" stroke="#d6d2d6" stroke-width="1" stroke-linejoin="round"/>
<path d="M73.24,436.8 C75.63,436.17 83.57,437.95 86.43,440.58 C89.3,443.2 90.77,449.44 90.44,452.55 C90.11,455.66 87.29,457.76 84.43,459.23 C81.56,460.7 76.94,460.17 73.24,461.37 C69.54,462.57 63.53,466.09 62.22,466.41 C60.91,466.72 63.91,465.19 65.39,463.26 C66.87,461.33 69.95,457.97 71.07,454.82 C72.18,451.67 71.71,447.36 72.07,444.36 C72.43,441.36 70.85,437.43 73.24,436.8 Z" fill="#923b92" fill-opacity="1" stroke="#923b92" stroke-width="1" stroke-linejoin="round"/>
</g></g>
<rect x="41.68" y="392.09" width="71.47" height="84.51" fill="#fff" filter="url(#spk)" clip-path="url(#c8)"/>
<line x1="53.7" y1="477.9" x2="53.7" y2="479.6" stroke="#999" stroke-width="0.5" />
<text x="53.7" y="484.3" font-size="5.3" fill="#5a5a5a" text-anchor="middle" >-8</text>
<line x1="70.4" y1="477.9" x2="70.4" y2="479.6" stroke="#999" stroke-width="0.5" />
<text x="70.4" y="484.3" font-size="5.3" fill="#5a5a5a" text-anchor="middle" >-7</text>
<line x1="87.1" y1="477.9" x2="87.1" y2="479.6" stroke="#999" stroke-width="0.5" />
<text x="87.1" y="484.3" font-size="5.3" fill="#5a5a5a" text-anchor="middle" >-6</text>
<line x1="103.8" y1="477.9" x2="103.8" y2="479.6" stroke="#999" stroke-width="0.5" />
<text x="103.8" y="484.3" font-size="5.3" fill="#5a5a5a" text-anchor="middle" >-5</text>
<line x1="38.7" y1="455.7" x2="40.7" y2="455.7" stroke="#999" stroke-width="0.5" />
<text x="38.3" y="457.6" font-size="5.3" fill="#5a5a5a" text-anchor="end" >0</text>
<line x1="38.7" y1="430.5" x2="40.7" y2="430.5" stroke="#999" stroke-width="0.5" />
<text x="38.3" y="432.4" font-size="5.3" fill="#5a5a5a" text-anchor="end" >2</text>
<line x1="38.7" y1="405.3" x2="40.7" y2="405.3" stroke="#999" stroke-width="0.5" />
<text x="38.3" y="407.2" font-size="5.3" fill="#5a5a5a" text-anchor="end" >4</text>
<text x="75.8" y="388.2" font-size="11" fill="#000" text-anchor="middle" >MKI67</text>
<circle cx="96.7" cy="450.8" r="1.15" fill="#dcc2dc"/>
<text x="101.4" y="453.25" font-size="6.8" fill="#222" text-anchor="start" >0.5</text>
<circle cx="96.7" cy="458.1" r="1.15" fill="#c592c5"/>
<text x="101.4" y="460.55" font-size="6.8" fill="#222" text-anchor="start" >1.0</text>
<circle cx="96.7" cy="465.4" r="1.15" fill="#ad62ad"/>
<text x="101.4" y="467.85" font-size="6.8" fill="#222" text-anchor="start" >1.5</text>
<circle cx="96.7" cy="472.7" r="1.15" fill="#8f2a8f"/>
<text x="101.4" y="475.15" font-size="6.8" fill="#222" text-anchor="start" >2.0</text>
<rect x="132.3" y="390.7" width="74.8" height="87.2" fill="none" stroke="#c8c8c8" stroke-width="0.8" />
<path d="M177.03,394.09 C179.01,394.23 181.57,394.91 183.54,395.6 C185.52,396.29 187.38,397.15 188.89,398.24 C190.39,399.34 192.03,400.83 192.56,402.15 C193.09,403.47 191.89,404.84 192.06,406.18 C192.23,407.53 193.03,408.7 193.56,410.21 C194.09,411.73 194.76,413.57 195.23,415.25 C195.71,416.93 196.04,418.61 196.4,420.29 C196.76,421.97 196.96,423.65 197.4,425.33 C197.85,427.01 198.18,428.86 199.07,430.37 C199.96,431.89 202.3,433.23 202.75,434.41 C203.19,435.58 202.66,436.67 201.75,437.43 C200.83,438.19 199.27,438.08 197.24,438.94 C195.21,439.8 191.92,441.19 189.56,442.6 C187.19,444 184.41,445.66 183.04,447.38 C181.68,449.11 182.21,451.61 181.37,452.93 C180.54,454.25 179.45,454.65 178.03,455.32 C176.61,455.99 174.58,456.14 172.86,456.96 C171.13,457.78 169.1,458.89 167.68,460.24 C166.26,461.58 165.48,463.57 164.34,465.02 C163.2,466.47 162.28,467.61 160.83,468.93 C159.38,470.25 157.38,472.02 155.65,472.96 C153.93,473.91 152.37,474.58 150.48,474.6 C148.58,474.62 146.41,473.89 144.3,473.09 C142.18,472.29 139.29,471.03 137.79,469.81 C136.28,468.59 135.36,467.67 135.28,465.78 C135.2,463.89 136.62,461.03 137.28,458.47 C137.95,455.91 138.56,453.2 139.29,450.41 C140.01,447.62 141.63,444.07 141.63,441.71 C141.63,439.36 138.95,438.69 139.29,436.3 C139.62,433.9 142.8,430.52 143.63,427.35 C144.47,424.18 143.8,420.13 144.3,417.27 C144.8,414.41 145.47,412.23 146.64,410.21 C147.81,408.2 149.64,406.52 151.31,405.17 C152.98,403.83 154.71,402.97 156.66,402.15 C158.6,401.33 161.22,401.08 163,400.26 C164.78,399.44 165.9,398.16 167.34,397.24 C168.79,396.31 170.07,395.24 171.69,394.72 C173.3,394.19 175.05,393.94 177.03,394.09 Z" fill="#e0dfe0" filter="url(#bl05)"/>
<g clip-path="url(#c9)"><g filter="url(#bl15)">
<path d="M142.8,417.27 L145.63,410.21 L151.31,405.17 L156.66,402.15 L163,400.26 L163.67,411.6 L162,426.72 L153.65,424.83 L141.96,426.72 Z" fill="#bb94bb" fill-opacity="1" stroke="#bb94bb" stroke-width="1" stroke-linejoin="round"/>
<path d="M163,400.26 L167.34,397.24 L168.68,399.63 L178.7,402.78 L187.05,406.06 L189.39,411.6 L187.05,420.42 L182.88,427.98 L177.03,431.13 L168.68,430.5 L162,426.72 L163.67,411.6 Z" fill="#974697" fill-opacity="1" stroke="#974697" stroke-width="1" stroke-linejoin="round"/>
<path d="M168.68,399.63 L167.34,397.24 L171.69,394.72 L177.03,394.09 L183.54,395.6 L188.89,398.24 L192.56,402.15 L191.23,406.56 L187.05,406.06 L178.7,402.78 Z" fill="#a05ba0" fill-opacity="1" stroke="#a05ba0" stroke-width="1" stroke-linejoin="round"/>
<path d="M187.05,406.06 L191.23,406.56 L193.56,410.21 L195.23,415.25 L196.4,420.29 L197.4,425.33 L199.07,430.37 L202.75,434.41 L201.75,437.43 L197.24,438.94 L189.56,442.6 L183.04,445.62 L179.53,436.8 L182.88,427.98 L187.05,420.42 L189.39,411.6 Z" fill="#d0c5d0" fill-opacity="1" stroke="#d0c5d0" stroke-width="1" stroke-linejoin="round"/>
<path d="M162,426.72 L168.68,430.5 L177.03,431.13 L182.88,427.98 L179.53,436.8 L183.04,445.62 L183.04,447.38 L181.37,452.93 L178.03,453.18 L170.35,449.4 L166.18,444.36 L164.51,436.8 L163.67,431.13 Z" fill="#9b519b" fill-opacity="1" stroke="#9b519b" stroke-width="1" stroke-linejoin="round"/>
<path d="M137.79,436.3 L141.96,427.35 L153.65,424.83 L162,426.72 L163.67,431.13 L164.51,436.8 L166.18,444.36 L158.66,448.77 L145.3,449.4 L137.79,450.41 L140.29,441.71 Z" fill="#d5d0d5" fill-opacity="1" stroke="#d5d0d5" stroke-width="1" stroke-linejoin="round"/>
<path d="M137.79,450.41 L145.3,449.4 L158.66,448.77 L166.18,444.36 L170.35,449.4 L178.03,453.18 L178.03,455.32 L172.86,456.96 L167.68,460.24 L164.34,465.02 L160.83,468.93 L155.65,472.96 L150.48,474.6 L143.63,473.59 L136.95,470.19 L133.94,465.78 L135.95,458.47 Z" fill="#d6d2d6" fill-opacity="1" stroke="#d6d2d6" stroke-width="1" stroke-linejoin="round"/>
<path d="M155.32,409.08 C156.43,406.14 159.5,404.88 162,402.78 C164.5,400.68 167.57,397.85 170.35,396.48 C173.13,395.12 175.92,394.59 178.7,394.59 C181.48,394.59 185.1,395.12 187.05,396.48 C189,397.85 190.39,400.47 190.39,402.78 C190.39,405.09 188.16,406.98 187.05,410.34 C185.94,413.7 185.1,419.48 183.71,422.94 C182.32,426.4 181.21,429.66 178.7,431.13 C176.2,432.6 172.02,432.28 168.68,431.76 C165.34,431.24 160.89,429.87 158.66,427.98 C156.43,426.09 155.88,423.57 155.32,420.42 C154.76,417.27 154.21,412.02 155.32,409.08 Z" fill="#944094" fill-opacity="1" stroke="#944094" stroke-width="1" stroke-linejoin="round"/>
</g></g>
<rect x="133.28" y="392.09" width="71.47" height="84.51" fill="#fff" filter="url(#spk)" clip-path="url(#c9)"/>
<line x1="145.3" y1="477.9" x2="145.3" y2="479.6" stroke="#999" stroke-width="0.5" />
<text x="145.3" y="484.3" font-size="5.3" fill="#5a5a5a" text-anchor="middle" >-8</text>
<line x1="162" y1="477.9" x2="162" y2="479.6" stroke="#999" stroke-width="0.5" />
<text x="162" y="484.3" font-size="5.3" fill="#5a5a5a" text-anchor="middle" >-7</text>
<line x1="178.7" y1="477.9" x2="178.7" y2="479.6" stroke="#999" stroke-width="0.5" />
<text x="178.7" y="484.3" font-size="5.3" fill="#5a5a5a" text-anchor="middle" >-6</text>
<line x1="195.4" y1="477.9" x2="195.4" y2="479.6" stroke="#999" stroke-width="0.5" />
<text x="195.4" y="484.3" font-size="5.3" fill="#5a5a5a" text-anchor="middle" >-5</text>
<line x1="130.3" y1="455.7" x2="132.3" y2="455.7" stroke="#999" stroke-width="0.5" />
<text x="129.9" y="457.6" font-size="5.3" fill="#5a5a5a" text-anchor="end" >0</text>
<line x1="130.3" y1="430.5" x2="132.3" y2="430.5" stroke="#999" stroke-width="0.5" />
<text x="129.9" y="432.4" font-size="5.3" fill="#5a5a5a" text-anchor="end" >2</text>
<line x1="130.3" y1="405.3" x2="132.3" y2="405.3" stroke="#999" stroke-width="0.5" />
<text x="129.9" y="407.2" font-size="5.3" fill="#5a5a5a" text-anchor="end" >4</text>
<text x="167.4" y="388.2" font-size="11" fill="#000" text-anchor="middle" >PRF1</text>
<circle cx="188.1" cy="449.4" r="1.15" fill="#eeeeee"/>
<text x="192.8" y="451.85" font-size="6.8" fill="#222" text-anchor="start" >0</text>
<circle cx="188.1" cy="457.6" r="1.15" fill="#d0a8d0"/>
<text x="192.8" y="460.05" font-size="6.8" fill="#222" text-anchor="start" >0.5</text>
<circle cx="188.1" cy="465.8" r="1.15" fill="#ad62ad"/>
<text x="192.8" y="468.25" font-size="6.8" fill="#222" text-anchor="start" >1.0</text>
<circle cx="188.1" cy="474" r="1.15" fill="#8f2a8f"/>
<text x="192.8" y="476.45" font-size="6.8" fill="#222" text-anchor="start" >1.5</text>
<rect x="224.5" y="390.7" width="74.8" height="87.2" fill="none" stroke="#c8c8c8" stroke-width="0.8" />
<path d="M269.23,394.09 C271.21,394.23 273.77,394.91 275.74,395.6 C277.72,396.29 279.58,397.15 281.09,398.24 C282.59,399.34 284.23,400.83 284.76,402.15 C285.29,403.47 284.09,404.84 284.26,406.18 C284.43,407.53 285.23,408.7 285.76,410.21 C286.29,411.73 286.96,413.57 287.43,415.25 C287.91,416.93 288.24,418.61 288.6,420.29 C288.96,421.97 289.16,423.65 289.6,425.33 C290.05,427.01 290.38,428.86 291.27,430.37 C292.16,431.89 294.5,433.23 294.95,434.41 C295.39,435.58 294.86,436.67 293.95,437.43 C293.03,438.19 291.47,438.08 289.44,438.94 C287.41,439.8 284.12,441.19 281.75,442.6 C279.39,444 276.61,445.66 275.24,447.38 C273.88,449.11 274.41,451.61 273.57,452.93 C272.74,454.25 271.65,454.65 270.23,455.32 C268.81,455.99 266.78,456.14 265.06,456.96 C263.33,457.78 261.3,458.89 259.88,460.24 C258.46,461.58 257.68,463.57 256.54,465.02 C255.4,466.47 254.48,467.61 253.03,468.93 C251.58,470.25 249.58,472.02 247.85,472.96 C246.13,473.91 244.57,474.58 242.68,474.6 C240.78,474.62 238.61,473.89 236.5,473.09 C234.38,472.29 231.49,471.03 229.99,469.81 C228.48,468.59 227.56,467.67 227.48,465.78 C227.4,463.89 228.82,461.03 229.48,458.47 C230.15,455.91 230.76,453.2 231.49,450.41 C232.21,447.62 233.83,444.07 233.83,441.71 C233.83,439.36 231.15,438.69 231.49,436.3 C231.82,433.9 235,430.52 235.83,427.35 C236.67,424.18 236,420.13 236.5,417.27 C237,414.41 237.67,412.23 238.84,410.21 C240.01,408.2 241.84,406.52 243.51,405.17 C245.18,403.83 246.91,402.97 248.86,402.15 C250.8,401.33 253.42,401.08 255.2,400.26 C256.98,399.44 258.1,398.16 259.54,397.24 C260.99,396.31 262.27,395.24 263.89,394.72 C265.5,394.19 267.25,393.94 269.23,394.09 Z" fill="#e0dfe0" filter="url(#bl05)"/>
<g clip-path="url(#c10)"><g filter="url(#bl15)">
<path d="M235,417.27 L237.83,410.21 L243.51,405.17 L248.86,402.15 L255.2,400.26 L255.87,411.6 L254.2,426.72 L245.85,424.83 L234.16,426.72 Z" fill="#ae79ae" fill-opacity="1" stroke="#ae79ae" stroke-width="1" stroke-linejoin="round"/>
<path d="M255.2,400.26 L259.54,397.24 L260.88,399.63 L270.9,402.78 L279.25,406.06 L281.59,411.6 L279.25,420.42 L275.07,427.98 L269.23,431.13 L260.88,430.5 L254.2,426.72 L255.87,411.6 Z" fill="#ae79ae" fill-opacity="1" stroke="#ae79ae" stroke-width="1" stroke-linejoin="round"/>
<path d="M260.88,399.63 L259.54,397.24 L263.89,394.72 L269.23,394.09 L275.74,395.6 L281.09,398.24 L284.76,402.15 L283.43,406.56 L279.25,406.06 L270.9,402.78 Z" fill="#c6adc6" fill-opacity="1" stroke="#c6adc6" stroke-width="1" stroke-linejoin="round"/>
<path d="M279.25,406.06 L283.43,406.56 L285.76,410.21 L287.43,415.25 L288.6,420.29 L289.6,425.33 L291.27,430.37 L294.95,434.41 L293.95,437.43 L289.44,438.94 L281.75,442.6 L275.24,445.62 L271.74,436.8 L275.07,427.98 L279.25,420.42 L281.59,411.6 Z" fill="#ae79ae" fill-opacity="1" stroke="#ae79ae" stroke-width="1" stroke-linejoin="round"/>
<path d="M254.2,426.72 L260.88,430.5 L269.23,431.13 L275.07,427.98 L271.74,436.8 L275.24,445.62 L275.24,447.38 L273.57,452.93 L270.23,453.18 L262.55,449.4 L258.38,444.36 L256.7,436.8 L255.87,431.13 Z" fill="#c2a4c2" fill-opacity="1" stroke="#c2a4c2" stroke-width="1" stroke-linejoin="round"/>
<path d="M229.99,436.3 L234.16,427.35 L245.85,424.83 L254.2,426.72 L255.87,431.13 L256.7,436.8 L258.38,444.36 L250.86,448.77 L237.5,449.4 L229.99,450.41 L232.49,441.71 Z" fill="#c9b5c9" fill-opacity="1" stroke="#c9b5c9" stroke-width="1" stroke-linejoin="round"/>
<path d="M229.99,450.41 L237.5,449.4 L250.86,448.77 L258.38,444.36 L262.55,449.4 L270.23,453.18 L270.23,455.32 L265.06,456.96 L259.88,460.24 L256.54,465.02 L253.03,468.93 L247.85,472.96 L242.68,474.6 L235.83,473.59 L229.15,470.19 L226.14,465.78 L228.15,458.47 Z" fill="#d5ced5" fill-opacity="1" stroke="#d5ced5" stroke-width="1" stroke-linejoin="round"/>
<path d="M239.17,414.12 C237.95,411.58 240.56,406.22 243.51,403.91 C246.46,401.6 252.64,401.29 256.87,400.26 C261.1,399.23 265.17,397.53 268.9,397.74 C272.63,397.95 276.69,400.05 279.25,401.52 C281.81,402.99 283.7,404.25 284.26,406.56 C284.82,408.87 285.37,413.49 282.59,415.38 C279.81,417.27 272.85,417.27 267.56,417.9 C262.27,418.53 255.59,419.79 250.86,419.16 C246.13,418.53 240.39,416.66 239.17,414.12 Z" fill="#892e89" fill-opacity="1" stroke="#892e89" stroke-width="1" stroke-linejoin="round"/>
</g></g>
<rect x="225.48" y="392.09" width="71.47" height="84.51" fill="#fff" filter="url(#spk)" clip-path="url(#c10)"/>
<line x1="237.5" y1="477.9" x2="237.5" y2="479.6" stroke="#999" stroke-width="0.5" />
<text x="237.5" y="484.3" font-size="5.3" fill="#5a5a5a" text-anchor="middle" >-8</text>
<line x1="254.2" y1="477.9" x2="254.2" y2="479.6" stroke="#999" stroke-width="0.5" />
<text x="254.2" y="484.3" font-size="5.3" fill="#5a5a5a" text-anchor="middle" >-7</text>
<line x1="270.9" y1="477.9" x2="270.9" y2="479.6" stroke="#999" stroke-width="0.5" />
<text x="270.9" y="484.3" font-size="5.3" fill="#5a5a5a" text-anchor="middle" >-6</text>
<line x1="287.6" y1="477.9" x2="287.6" y2="479.6" stroke="#999" stroke-width="0.5" />
<text x="287.6" y="484.3" font-size="5.3" fill="#5a5a5a" text-anchor="middle" >-5</text>
<line x1="222.5" y1="455.7" x2="224.5" y2="455.7" stroke="#999" stroke-width="0.5" />
<text x="222.1" y="457.6" font-size="5.3" fill="#5a5a5a" text-anchor="end" >0</text>
<line x1="222.5" y1="430.5" x2="224.5" y2="430.5" stroke="#999" stroke-width="0.5" />
<text x="222.1" y="432.4" font-size="5.3" fill="#5a5a5a" text-anchor="end" >2</text>
<line x1="222.5" y1="405.3" x2="224.5" y2="405.3" stroke="#999" stroke-width="0.5" />
<text x="222.1" y="407.2" font-size="5.3" fill="#5a5a5a" text-anchor="end" >4</text>
<text x="259.6" y="388.2" font-size="11" fill="#000" text-anchor="middle" >GZMK</text>
<circle cx="279.4" cy="445.9" r="1.15" fill="#e8d8e8"/>
<text x="284.1" y="448.35" font-size="6.8" fill="#222" text-anchor="start" >0.5</text>
<circle cx="279.4" cy="452.9" r="1.15" fill="#d8b8d8"/>
<text x="284.1" y="455.35" font-size="6.8" fill="#222" text-anchor="start" >1.0</text>
<circle cx="279.4" cy="459.9" r="1.15" fill="#c592c5"/>
<text x="284.1" y="462.35" font-size="6.8" fill="#222" text-anchor="start" >1.5</text>
<circle cx="279.4" cy="466.9" r="1.15" fill="#ad62ad"/>
<text x="284.1" y="469.35" font-size="6.8" fill="#222" text-anchor="start" >2.0</text>
<circle cx="279.4" cy="473.9" r="1.15" fill="#8f2a8f"/>
<text x="284.1" y="476.35" font-size="6.8" fill="#222" text-anchor="start" >2.5</text>
<rect x="40.7" y="502.7" width="74.8" height="87.2" fill="none" stroke="#c8c8c8" stroke-width="0.8" />
<path d="M85.43,506.09 C87.41,506.23 89.97,506.91 91.94,507.6 C93.92,508.29 95.78,509.15 97.29,510.24 C98.79,511.34 100.43,512.83 100.96,514.15 C101.49,515.47 100.29,516.84 100.46,518.18 C100.63,519.53 101.43,520.7 101.96,522.21 C102.49,523.73 103.16,525.57 103.63,527.25 C104.11,528.93 104.44,530.61 104.8,532.29 C105.16,533.97 105.36,535.65 105.8,537.33 C106.25,539.01 106.58,540.86 107.47,542.37 C108.36,543.89 110.7,545.23 111.15,546.41 C111.59,547.58 111.06,548.67 110.15,549.43 C109.23,550.19 107.67,550.08 105.64,550.94 C103.61,551.8 100.32,553.19 97.96,554.6 C95.59,556 92.81,557.66 91.44,559.38 C90.08,561.11 90.61,563.61 89.77,564.93 C88.94,566.25 87.85,566.65 86.43,567.32 C85.01,567.99 82.98,568.14 81.26,568.96 C79.53,569.78 77.5,570.89 76.08,572.24 C74.66,573.58 73.88,575.58 72.74,577.02 C71.6,578.47 70.68,579.61 69.23,580.93 C67.78,582.25 65.78,584.02 64.05,584.96 C62.33,585.91 60.77,586.58 58.88,586.6 C56.98,586.62 54.81,585.89 52.7,585.09 C50.58,584.29 47.69,583.03 46.19,581.81 C44.68,580.59 43.76,579.67 43.68,577.78 C43.6,575.89 45.02,573.03 45.68,570.47 C46.35,567.91 46.96,565.2 47.69,562.41 C48.41,559.62 50.03,556.07 50.03,553.71 C50.03,551.36 47.35,550.69 47.69,548.3 C48.02,545.9 51.2,542.52 52.03,539.35 C52.87,536.18 52.2,532.13 52.7,529.27 C53.2,526.41 53.87,524.23 55.04,522.21 C56.21,520.2 58.04,518.52 59.71,517.17 C61.38,515.83 63.11,514.97 65.06,514.15 C67,513.33 69.62,513.08 71.4,512.26 C73.18,511.44 74.3,510.16 75.74,509.24 C77.19,508.31 78.47,507.24 80.09,506.72 C81.7,506.19 83.45,505.94 85.43,506.09 Z" fill="#e0dfe0" filter="url(#bl05)"/>
<g clip-path="url(#c11)"><g filter="url(#bl15)">
<path d="M51.2,529.27 L54.03,522.21 L59.71,517.17 L65.06,514.15 L71.4,512.26 L72.07,523.6 L70.4,538.72 L62.05,536.83 L50.36,538.72 Z" fill="#bf9cbf" fill-opacity="1" stroke="#bf9cbf" stroke-width="1" stroke-linejoin="round"/>
<path d="M71.4,512.26 L75.74,509.24 L77.08,511.63 L87.1,514.78 L95.45,518.06 L97.79,523.6 L95.45,532.42 L91.28,539.98 L85.43,543.13 L77.08,542.5 L70.4,538.72 L72.07,523.6 Z" fill="#bb94bb" fill-opacity="1" stroke="#bb94bb" stroke-width="1" stroke-linejoin="round"/>
<path d="M77.08,511.63 L75.74,509.24 L80.09,506.72 L85.43,506.09 L91.94,507.6 L97.29,510.24 L100.96,514.15 L99.62,518.56 L95.45,518.06 L87.1,514.78 Z" fill="#bf9cbf" fill-opacity="1" stroke="#bf9cbf" stroke-width="1" stroke-linejoin="round"/>
<path d="M95.45,518.06 L99.62,518.56 L101.96,522.21 L103.63,527.25 L104.8,532.29 L105.8,537.33 L107.47,542.37 L111.15,546.41 L110.15,549.43 L105.64,550.94 L97.96,554.6 L91.44,557.62 L87.94,548.8 L91.28,539.98 L95.45,532.42 L97.79,523.6 Z" fill="#ae79ae" fill-opacity="1" stroke="#ae79ae" stroke-width="1" stroke-linejoin="round"/>
<path d="M70.4,538.72 L77.08,542.5 L85.43,543.13 L91.28,539.98 L87.94,548.8 L91.44,557.62 L91.44,559.38 L89.77,564.93 L86.43,565.18 L78.75,561.4 L74.58,556.36 L72.91,548.8 L72.07,543.13 Z" fill="#b78bb7" fill-opacity="1" stroke="#b78bb7" stroke-width="1" stroke-linejoin="round"/>
<path d="M46.19,548.3 L50.36,539.35 L62.05,536.83 L70.4,538.72 L72.07,543.13 L72.91,548.8 L74.58,556.36 L67.06,560.77 L53.7,561.4 L46.19,562.41 L48.69,553.71 Z" fill="#b78bb7" fill-opacity="1" stroke="#b78bb7" stroke-width="1" stroke-linejoin="round"/>
<path d="M46.19,562.41 L53.7,561.4 L67.06,560.77 L74.58,556.36 L78.75,561.4 L86.43,565.18 L86.43,567.32 L81.26,568.96 L76.08,572.24 L72.74,577.02 L69.23,580.93 L64.05,584.96 L58.88,586.6 L52.03,585.59 L45.35,582.19 L42.34,577.78 L44.35,570.47 Z" fill="#d0c5d0" fill-opacity="1" stroke="#d0c5d0" stroke-width="1" stroke-linejoin="round"/>
<path d="M52.03,553.84 C52.59,554.47 57.32,557.1 60.38,558.25 C63.44,559.4 67.34,560.46 70.4,560.77 C73.46,561.09 75.97,560.88 78.75,560.14 C81.53,559.41 85.15,557.62 87.1,556.36 C89.05,555.1 91.83,553 90.44,552.58 C89.05,552.16 82.65,553.42 78.75,553.84 C74.85,554.26 70.68,555 67.06,555.1 C63.44,555.21 59.55,554.68 57.04,554.47 C54.54,554.26 51.47,553.21 52.03,553.84 Z" fill="#9b519b" fill-opacity="1" stroke="#9b519b" stroke-width="1" stroke-linejoin="round"/>
<path d="M45.35,546.03 C47.99,544.77 56.48,546.28 62.05,546.28 C67.62,546.28 73.18,546.28 78.75,546.03 C84.32,545.78 90.58,545.04 95.45,544.77 C100.32,544.5 105.19,543.97 107.97,544.39 C110.76,544.81 112.57,546.13 112.15,547.29 C111.73,548.44 108.53,550.23 105.47,551.32 C102.41,552.41 98.23,553.17 93.78,553.84 C89.33,554.51 84.04,555.14 78.75,555.35 C73.46,555.56 67.48,555.35 62.05,555.1 C56.62,554.85 48.97,555.35 46.19,553.84 C43.4,552.33 42.71,547.29 45.35,546.03 Z" fill="#812181" fill-opacity="1" stroke="#812181" stroke-width="1" stroke-linejoin="round"/>
</g></g>
<rect x="41.68" y="504.09" width="71.47" height="84.51" fill="#fff" filter="url(#spk)" clip-path="url(#c11)"/>
<line x1="53.7" y1="589.9" x2="53.7" y2="591.6" stroke="#999" stroke-width="0.5" />
<text x="53.7" y="596.3" font-size="5.3" fill="#5a5a5a" text-anchor="middle" >-8</text>
<line x1="70.4" y1="589.9" x2="70.4" y2="591.6" stroke="#999" stroke-width="0.5" />
<text x="70.4" y="596.3" font-size="5.3" fill="#5a5a5a" text-anchor="middle" >-7</text>
<line x1="87.1" y1="589.9" x2="87.1" y2="591.6" stroke="#999" stroke-width="0.5" />
<text x="87.1" y="596.3" font-size="5.3" fill="#5a5a5a" text-anchor="middle" >-6</text>
<line x1="103.8" y1="589.9" x2="103.8" y2="591.6" stroke="#999" stroke-width="0.5" />
<text x="103.8" y="596.3" font-size="5.3" fill="#5a5a5a" text-anchor="middle" >-5</text>
<line x1="38.7" y1="567.7" x2="40.7" y2="567.7" stroke="#999" stroke-width="0.5" />
<text x="38.3" y="569.6" font-size="5.3" fill="#5a5a5a" text-anchor="end" >0</text>
<line x1="38.7" y1="542.5" x2="40.7" y2="542.5" stroke="#999" stroke-width="0.5" />
<text x="38.3" y="544.4" font-size="5.3" fill="#5a5a5a" text-anchor="end" >2</text>
<line x1="38.7" y1="517.3" x2="40.7" y2="517.3" stroke="#999" stroke-width="0.5" />
<text x="38.3" y="519.2" font-size="5.3" fill="#5a5a5a" text-anchor="end" >4</text>
<text x="75.8" y="500.2" font-size="11" fill="#000" text-anchor="middle" >TCF7</text>
<circle cx="95.1" cy="565.3" r="1.15" fill="#d8b8d8"/>
<text x="99.8" y="567.75" font-size="6.8" fill="#222" text-anchor="start" >0.2</text>
<circle cx="95.1" cy="575.45" r="1.15" fill="#b874b8"/>
<text x="99.8" y="577.9" font-size="6.8" fill="#222" text-anchor="start" >0.4</text>
<circle cx="95.1" cy="585.6" r="1.15" fill="#8f2a8f"/>
<text x="99.8" y="588.05" font-size="6.8" fill="#222" text-anchor="start" >0.6</text>
<rect x="132.3" y="502.7" width="74.8" height="87.2" fill="none" stroke="#c8c8c8" stroke-width="0.8" />
<path d="M177.03,506.09 C179.01,506.23 181.57,506.91 183.54,507.6 C185.52,508.29 187.38,509.15 188.89,510.24 C190.39,511.34 192.03,512.83 192.56,514.15 C193.09,515.47 191.89,516.84 192.06,518.18 C192.23,519.53 193.03,520.7 193.56,522.21 C194.09,523.73 194.76,525.57 195.23,527.25 C195.71,528.93 196.04,530.61 196.4,532.29 C196.76,533.97 196.96,535.65 197.4,537.33 C197.85,539.01 198.18,540.86 199.07,542.37 C199.96,543.89 202.3,545.23 202.75,546.41 C203.19,547.58 202.66,548.67 201.75,549.43 C200.83,550.19 199.27,550.08 197.24,550.94 C195.21,551.8 191.92,553.19 189.56,554.6 C187.19,556 184.41,557.66 183.04,559.38 C181.68,561.11 182.21,563.61 181.37,564.93 C180.54,566.25 179.45,566.65 178.03,567.32 C176.61,567.99 174.58,568.14 172.86,568.96 C171.13,569.78 169.1,570.89 167.68,572.24 C166.26,573.58 165.48,575.58 164.34,577.02 C163.2,578.47 162.28,579.61 160.83,580.93 C159.38,582.25 157.38,584.02 155.65,584.96 C153.93,585.91 152.37,586.58 150.48,586.6 C148.58,586.62 146.41,585.89 144.3,585.09 C142.18,584.29 139.29,583.03 137.79,581.81 C136.28,580.59 135.36,579.67 135.28,577.78 C135.2,575.89 136.62,573.03 137.28,570.47 C137.95,567.91 138.56,565.2 139.29,562.41 C140.01,559.62 141.63,556.07 141.63,553.71 C141.63,551.36 138.95,550.69 139.29,548.3 C139.62,545.9 142.8,542.52 143.63,539.35 C144.47,536.18 143.8,532.13 144.3,529.27 C144.8,526.41 145.47,524.23 146.64,522.21 C147.81,520.2 149.64,518.52 151.31,517.17 C152.98,515.83 154.71,514.97 156.66,514.15 C158.6,513.33 161.22,513.08 163,512.26 C164.78,511.44 165.9,510.16 167.34,509.24 C168.79,508.31 170.07,507.24 171.69,506.72 C173.3,506.19 175.05,505.94 177.03,506.09 Z" fill="#e0dfe0" filter="url(#bl05)"/>
<g clip-path="url(#c12)"><g filter="url(#bl15)">
<path d="M142.8,529.27 L145.63,522.21 L151.31,517.17 L156.66,514.15 L163,512.26 L163.67,523.6 L162,538.72 L153.65,536.83 L141.96,538.72 Z" fill="#c6adc6" fill-opacity="1" stroke="#c6adc6" stroke-width="1" stroke-linejoin="round"/>
<path d="M163,512.26 L167.34,509.24 L168.68,511.63 L178.7,514.78 L187.05,518.06 L189.39,523.6 L187.05,532.42 L182.88,539.98 L177.03,543.13 L168.68,542.5 L162,538.72 L163.67,523.6 Z" fill="#ae79ae" fill-opacity="1" stroke="#ae79ae" stroke-width="1" stroke-linejoin="round"/>
<path d="M168.68,511.63 L167.34,509.24 L171.69,506.72 L177.03,506.09 L183.54,507.6 L188.89,510.24 L192.56,514.15 L191.23,518.56 L187.05,518.06 L178.7,514.78 Z" fill="#c2a4c2" fill-opacity="1" stroke="#c2a4c2" stroke-width="1" stroke-linejoin="round"/>
<path d="M187.05,518.06 L191.23,518.56 L193.56,522.21 L195.23,527.25 L196.4,532.29 L197.4,537.33 L199.07,542.37 L202.75,546.41 L201.75,549.43 L197.24,550.94 L189.56,554.6 L183.04,557.62 L179.53,548.8 L182.88,539.98 L187.05,532.42 L189.39,523.6 Z" fill="#cdbdcd" fill-opacity="1" stroke="#cdbdcd" stroke-width="1" stroke-linejoin="round"/>
<path d="M162,538.72 L168.68,542.5 L177.03,543.13 L182.88,539.98 L179.53,548.8 L183.04,557.62 L183.04,559.38 L181.37,564.93 L178.03,565.18 L170.35,561.4 L166.18,556.36 L164.51,548.8 L163.67,543.13 Z" fill="#974697" fill-opacity="1" stroke="#974697" stroke-width="1" stroke-linejoin="round"/>
<path d="M137.79,548.3 L141.96,539.35 L153.65,536.83 L162,538.72 L163.67,543.13 L164.51,548.8 L166.18,556.36 L158.66,560.77 L145.3,561.4 L137.79,562.41 L140.29,553.71 Z" fill="#d5d0d5" fill-opacity="1" stroke="#d5d0d5" stroke-width="1" stroke-linejoin="round"/>
<path d="M137.79,562.41 L145.3,561.4 L158.66,560.77 L166.18,556.36 L170.35,561.4 L178.03,565.18 L178.03,567.32 L172.86,568.96 L167.68,572.24 L164.34,577.02 L160.83,580.93 L155.65,584.96 L150.48,586.6 L143.63,585.59 L136.95,582.19 L133.94,577.78 L135.95,570.47 Z" fill="#d6d2d6" fill-opacity="1" stroke="#d6d2d6" stroke-width="1" stroke-linejoin="round"/>
<path d="M155.32,521.08 C156.43,518.14 159.5,516.88 162,514.78 C164.5,512.68 167.57,509.85 170.35,508.48 C173.13,507.12 175.92,506.59 178.7,506.59 C181.48,506.59 185.1,507.12 187.05,508.48 C189,509.85 190.39,512.47 190.39,514.78 C190.39,517.09 188.16,518.98 187.05,522.34 C185.94,525.7 185.1,531.48 183.71,534.94 C182.32,538.41 181.21,541.66 178.7,543.13 C176.2,544.6 172.02,544.28 168.68,543.76 C165.34,543.24 160.89,541.87 158.66,539.98 C156.43,538.09 155.88,535.57 155.32,532.42 C154.76,529.27 154.21,524.02 155.32,521.08 Z" fill="#aa71aa" fill-opacity="1" stroke="#aa71aa" stroke-width="1" stroke-linejoin="round"/>
<path d="M162,538.72 L168.68,542.5 L177.03,543.13 L182.88,539.98 L179.53,548.8 L183.04,557.62 L183.04,559.38 L181.37,564.93 L178.03,565.18 L170.35,561.4 L166.18,556.36 L164.51,548.8 L163.67,543.13 Z" fill="#974697" fill-opacity="1" stroke="#974697" stroke-width="1" stroke-linejoin="round"/>
</g></g>
<rect x="133.28" y="504.09" width="71.47" height="84.51" fill="#fff" filter="url(#spk)" clip-path="url(#c12)"/>
<line x1="145.3" y1="589.9" x2="145.3" y2="591.6" stroke="#999" stroke-width="0.5" />
<text x="145.3" y="596.3" font-size="5.3" fill="#5a5a5a" text-anchor="middle" >-8</text>
<line x1="162" y1="589.9" x2="162" y2="591.6" stroke="#999" stroke-width="0.5" />
<text x="162" y="596.3" font-size="5.3" fill="#5a5a5a" text-anchor="middle" >-7</text>
<line x1="178.7" y1="589.9" x2="178.7" y2="591.6" stroke="#999" stroke-width="0.5" />
<text x="178.7" y="596.3" font-size="5.3" fill="#5a5a5a" text-anchor="middle" >-6</text>
<line x1="195.4" y1="589.9" x2="195.4" y2="591.6" stroke="#999" stroke-width="0.5" />
<text x="195.4" y="596.3" font-size="5.3" fill="#5a5a5a" text-anchor="middle" >-5</text>
<line x1="130.3" y1="567.7" x2="132.3" y2="567.7" stroke="#999" stroke-width="0.5" />
<text x="129.9" y="569.6" font-size="5.3" fill="#5a5a5a" text-anchor="end" >0</text>
<line x1="130.3" y1="542.5" x2="132.3" y2="542.5" stroke="#999" stroke-width="0.5" />
<text x="129.9" y="544.4" font-size="5.3" fill="#5a5a5a" text-anchor="end" >2</text>
<line x1="130.3" y1="517.3" x2="132.3" y2="517.3" stroke="#999" stroke-width="0.5" />
<text x="129.9" y="519.2" font-size="5.3" fill="#5a5a5a" text-anchor="end" >4</text>
<text x="167.4" y="500.2" font-size="11" fill="#000" text-anchor="middle" >IFNG</text>
<circle cx="188.8" cy="560.4" r="1.15" fill="#eeeeee"/>
<text x="193.5" y="562.85" font-size="6.8" fill="#222" text-anchor="start" >0</text>
<circle cx="188.8" cy="568.9" r="1.15" fill="#d0a8d0"/>
<text x="193.5" y="571.35" font-size="6.8" fill="#222" text-anchor="start" >0.5</text>
<circle cx="188.8" cy="577.4" r="1.15" fill="#ad62ad"/>
<text x="193.5" y="579.85" font-size="6.8" fill="#222" text-anchor="start" >1.0</text>
<circle cx="188.8" cy="585.9" r="1.15" fill="#8f2a8f"/>
<text x="193.5" y="588.35" font-size="6.8" fill="#222" text-anchor="start" >1.5</text>
<rect x="224.5" y="502.7" width="74.8" height="87.2" fill="none" stroke="#c8c8c8" stroke-width="0.8" />
<path d="M269.23,506.09 C271.21,506.23 273.77,506.91 275.74,507.6 C277.72,508.29 279.58,509.15 281.09,510.24 C282.59,511.34 284.23,512.83 284.76,514.15 C285.29,515.47 284.09,516.84 284.26,518.18 C284.43,519.53 285.23,520.7 285.76,522.21 C286.29,523.73 286.96,525.57 287.43,527.25 C287.91,528.93 288.24,530.61 288.6,532.29 C288.96,533.97 289.16,535.65 289.6,537.33 C290.05,539.01 290.38,540.86 291.27,542.37 C292.16,543.89 294.5,545.23 294.95,546.41 C295.39,547.58 294.86,548.67 293.95,549.43 C293.03,550.19 291.47,550.08 289.44,550.94 C287.41,551.8 284.12,553.19 281.75,554.6 C279.39,556 276.61,557.66 275.24,559.38 C273.88,561.11 274.41,563.61 273.57,564.93 C272.74,566.25 271.65,566.65 270.23,567.32 C268.81,567.99 266.78,568.14 265.06,568.96 C263.33,569.78 261.3,570.89 259.88,572.24 C258.46,573.58 257.68,575.58 256.54,577.02 C255.4,578.47 254.48,579.61 253.03,580.93 C251.58,582.25 249.58,584.02 247.85,584.96 C246.13,585.91 244.57,586.58 242.68,586.6 C240.78,586.62 238.61,585.89 236.5,585.09 C234.38,584.29 231.49,583.03 229.99,581.81 C228.48,580.59 227.56,579.67 227.48,577.78 C227.4,575.89 228.82,573.03 229.48,570.47 C230.15,567.91 230.76,565.2 231.49,562.41 C232.21,559.62 233.83,556.07 233.83,553.71 C233.83,551.36 231.15,550.69 231.49,548.3 C231.82,545.9 235,542.52 235.83,539.35 C236.67,536.18 236,532.13 236.5,529.27 C237,526.41 237.67,524.23 238.84,522.21 C240.01,520.2 241.84,518.52 243.51,517.17 C245.18,515.83 246.91,514.97 248.86,514.15 C250.8,513.33 253.42,513.08 255.2,512.26 C256.98,511.44 258.1,510.16 259.54,509.24 C260.99,508.31 262.27,507.24 263.89,506.72 C265.5,506.19 267.25,505.94 269.23,506.09 Z" fill="#e0dfe0" filter="url(#bl05)"/>
<g clip-path="url(#c13)"><g filter="url(#bl15)">
<path d="M235,529.27 L237.83,522.21 L243.51,517.17 L248.86,514.15 L255.2,512.26 L255.87,523.6 L254.2,538.72 L245.85,536.83 L234.16,538.72 Z" fill="#b78bb7" fill-opacity="1" stroke="#b78bb7" stroke-width="1" stroke-linejoin="round"/>
<path d="M255.2,512.26 L259.54,509.24 L260.88,511.63 L270.9,514.78 L279.25,518.06 L281.59,523.6 L279.25,532.42 L275.07,539.98 L269.23,543.13 L260.88,542.5 L254.2,538.72 L255.87,523.6 Z" fill="#a05ba0" fill-opacity="1" stroke="#a05ba0" stroke-width="1" stroke-linejoin="round"/>
<path d="M260.88,511.63 L259.54,509.24 L263.89,506.72 L269.23,506.09 L275.74,507.6 L281.09,510.24 L284.76,514.15 L283.43,518.56 L279.25,518.06 L270.9,514.78 Z" fill="#ae79ae" fill-opacity="1" stroke="#ae79ae" stroke-width="1" stroke-linejoin="round"/>
<path d="M279.25,518.06 L283.43,518.56 L285.76,522.21 L287.43,527.25 L288.6,532.29 L289.6,537.33 L291.27,542.37 L294.95,546.41 L293.95,549.43 L289.44,550.94 L281.75,554.6 L275.24,557.62 L271.74,548.8 L275.07,539.98 L279.25,532.42 L281.59,523.6 Z" fill="#bf9cbf" fill-opacity="1" stroke="#bf9cbf" stroke-width="1" stroke-linejoin="round"/>
<path d="M254.2,538.72 L260.88,542.5 L269.23,543.13 L275.07,539.98 L271.74,548.8 L275.24,557.62 L275.24,559.38 L273.57,564.93 L270.23,565.18 L262.55,561.4 L258.38,556.36 L256.7,548.8 L255.87,543.13 Z" fill="#9b519b" fill-opacity="1" stroke="#9b519b" stroke-width="1" stroke-linejoin="round"/>
<path d="M229.99,548.3 L234.16,539.35 L245.85,536.83 L254.2,538.72 L255.87,543.13 L256.7,548.8 L258.38,556.36 L250.86,560.77 L237.5,561.4 L229.99,562.41 L232.49,553.71 Z" fill="#d0c5d0" fill-opacity="1" stroke="#d0c5d0" stroke-width="1" stroke-linejoin="round"/>
<path d="M229.99,562.41 L237.5,561.4 L250.86,560.77 L258.38,556.36 L262.55,561.4 L270.23,565.18 L270.23,567.32 L265.06,568.96 L259.88,572.24 L256.54,577.02 L253.03,580.93 L247.85,584.96 L242.68,586.6 L235.83,585.59 L229.15,582.19 L226.14,577.78 L228.15,570.47 Z" fill="#c9b5c9" fill-opacity="1" stroke="#c9b5c9" stroke-width="1" stroke-linejoin="round"/>
</g></g>
<rect x="225.48" y="504.09" width="71.47" height="84.51" fill="#fff" filter="url(#spk)" clip-path="url(#c13)"/>
<line x1="237.5" y1="589.9" x2="237.5" y2="591.6" stroke="#999" stroke-width="0.5" />
<text x="237.5" y="596.3" font-size="5.3" fill="#5a5a5a" text-anchor="middle" >-8</text>
<line x1="254.2" y1="589.9" x2="254.2" y2="591.6" stroke="#999" stroke-width="0.5" />
<text x="254.2" y="596.3" font-size="5.3" fill="#5a5a5a" text-anchor="middle" >-7</text>
<line x1="270.9" y1="589.9" x2="270.9" y2="591.6" stroke="#999" stroke-width="0.5" />
<text x="270.9" y="596.3" font-size="5.3" fill="#5a5a5a" text-anchor="middle" >-6</text>
<line x1="287.6" y1="589.9" x2="287.6" y2="591.6" stroke="#999" stroke-width="0.5" />
<text x="287.6" y="596.3" font-size="5.3" fill="#5a5a5a" text-anchor="middle" >-5</text>
<line x1="222.5" y1="567.7" x2="224.5" y2="567.7" stroke="#999" stroke-width="0.5" />
<text x="222.1" y="569.6" font-size="5.3" fill="#5a5a5a" text-anchor="end" >0</text>
<line x1="222.5" y1="542.5" x2="224.5" y2="542.5" stroke="#999" stroke-width="0.5" />
<text x="222.1" y="544.4" font-size="5.3" fill="#5a5a5a" text-anchor="end" >2</text>
<line x1="222.5" y1="517.3" x2="224.5" y2="517.3" stroke="#999" stroke-width="0.5" />
<text x="222.1" y="519.2" font-size="5.3" fill="#5a5a5a" text-anchor="end" >4</text>
<text x="259.6" y="500.2" font-size="11" fill="#000" text-anchor="middle" >TBX21</text>
<circle cx="279.3" cy="564.9" r="1.15" fill="#eeeeee"/>
<text x="284" y="567.35" font-size="6.8" fill="#222" text-anchor="start" >0</text>
<circle cx="279.3" cy="574.4" r="1.15" fill="#c592c5"/>
<text x="284" y="576.85" font-size="6.8" fill="#222" text-anchor="start" >0.1</text>
<circle cx="279.3" cy="583.9" r="1.15" fill="#8f2a8f"/>
<text x="284" y="586.35" font-size="6.8" fill="#222" text-anchor="start" >0.2</text>
<rect x="40.7" y="617.4" width="74.8" height="87.2" fill="none" stroke="#c8c8c8" stroke-width="0.8" />
<path d="M85.43,620.79 C87.41,620.93 89.97,621.61 91.94,622.3 C93.92,622.99 95.78,623.85 97.29,624.94 C98.79,626.04 100.43,627.53 100.96,628.85 C101.49,630.17 100.29,631.54 100.46,632.88 C100.63,634.23 101.43,635.4 101.96,636.91 C102.49,638.43 103.16,640.27 103.63,641.95 C104.11,643.63 104.44,645.31 104.8,646.99 C105.16,648.67 105.36,650.35 105.8,652.03 C106.25,653.71 106.58,655.56 107.47,657.07 C108.36,658.59 110.7,659.93 111.15,661.11 C111.59,662.28 111.06,663.37 110.15,664.13 C109.23,664.89 107.67,664.78 105.64,665.64 C103.61,666.5 100.32,667.89 97.96,669.3 C95.59,670.7 92.81,672.36 91.44,674.08 C90.08,675.81 90.61,678.3 89.77,679.63 C88.94,680.95 87.85,681.35 86.43,682.02 C85.01,682.69 82.98,682.84 81.26,683.66 C79.53,684.48 77.5,685.59 76.08,686.94 C74.66,688.28 73.88,690.27 72.74,691.72 C71.6,693.17 70.68,694.31 69.23,695.63 C67.78,696.95 65.78,698.72 64.05,699.66 C62.33,700.61 60.77,701.28 58.88,701.3 C56.98,701.32 54.81,700.59 52.7,699.79 C50.58,698.99 47.69,697.73 46.19,696.51 C44.68,695.29 43.76,694.37 43.68,692.48 C43.6,690.59 45.02,687.73 45.68,685.17 C46.35,682.61 46.96,679.9 47.69,677.11 C48.41,674.31 50.03,670.77 50.03,668.41 C50.03,666.06 47.35,665.39 47.69,663 C48.02,660.6 51.2,657.22 52.03,654.05 C52.87,650.88 52.2,646.83 52.7,643.97 C53.2,641.11 53.87,638.93 55.04,636.91 C56.21,634.9 58.04,633.22 59.71,631.87 C61.38,630.53 63.11,629.67 65.06,628.85 C67,628.03 69.62,627.78 71.4,626.96 C73.18,626.14 74.3,624.86 75.74,623.94 C77.19,623.01 78.47,621.94 80.09,621.42 C81.7,620.89 83.45,620.64 85.43,620.79 Z" fill="#e0dfe0" filter="url(#bl05)"/>
<g clip-path="url(#c14)"><g filter="url(#bl15)">
<path d="M51.2,643.97 L54.03,636.91 L59.71,631.87 L65.06,628.85 L71.4,626.96 L72.07,638.3 L70.4,653.42 L62.05,651.53 L50.36,653.42 Z" fill="#bb94bb" fill-opacity="1" stroke="#bb94bb" stroke-width="1" stroke-linejoin="round"/>
<path d="M71.4,626.96 L75.74,623.94 L77.08,626.33 L87.1,629.48 L95.45,632.76 L97.79,638.3 L95.45,647.12 L91.28,654.68 L85.43,657.83 L77.08,657.2 L70.4,653.42 L72.07,638.3 Z" fill="#b78bb7" fill-opacity="1" stroke="#b78bb7" stroke-width="1" stroke-linejoin="round"/>
<path d="M77.08,626.33 L75.74,623.94 L80.09,621.42 L85.43,620.79 L91.94,622.3 L97.29,624.94 L100.96,628.85 L99.62,633.26 L95.45,632.76 L87.1,629.48 Z" fill="#c6adc6" fill-opacity="1" stroke="#c6adc6" stroke-width="1" stroke-linejoin="round"/>
<path d="M95.45,632.76 L99.62,633.26 L101.96,636.91 L103.63,641.95 L104.8,646.99 L105.8,652.03 L107.47,657.07 L111.15,661.11 L110.15,664.13 L105.64,665.64 L97.96,669.3 L91.44,672.32 L87.94,663.5 L91.28,654.68 L95.45,647.12 L97.79,638.3 Z" fill="#974697" fill-opacity="1" stroke="#974697" stroke-width="1" stroke-linejoin="round"/>
<path d="M70.4,653.42 L77.08,657.2 L85.43,657.83 L91.28,654.68 L87.94,663.5 L91.44,672.32 L91.44,674.08 L89.77,679.63 L86.43,679.88 L78.75,676.1 L74.58,671.06 L72.91,663.5 L72.07,657.83 Z" fill="#ae79ae" fill-opacity="1" stroke="#ae79ae" stroke-width="1" stroke-linejoin="round"/>
<path d="M46.19,663 L50.36,654.05 L62.05,651.53 L70.4,653.42 L72.07,657.83 L72.91,663.5 L74.58,671.06 L67.06,675.47 L53.7,676.1 L46.19,677.11 L48.69,668.41 Z" fill="#bb94bb" fill-opacity="1" stroke="#bb94bb" stroke-width="1" stroke-linejoin="round"/>
<path d="M46.19,677.11 L53.7,676.1 L67.06,675.47 L74.58,671.06 L78.75,676.1 L86.43,679.88 L86.43,682.02 L81.26,683.66 L76.08,686.94 L72.74,691.72 L69.23,695.63 L64.05,699.66 L58.88,701.3 L52.03,700.29 L45.35,696.89 L42.34,692.48 L44.35,685.17 Z" fill="#cdbdcd" fill-opacity="1" stroke="#cdbdcd" stroke-width="1" stroke-linejoin="round"/>
<path d="M45.35,660.73 C47.99,659.47 56.48,660.98 62.05,660.98 C67.62,660.98 73.18,660.98 78.75,660.73 C84.32,660.48 90.58,659.74 95.45,659.47 C100.32,659.19 105.19,658.67 107.97,659.09 C110.76,659.51 112.57,660.83 112.15,661.99 C111.73,663.14 108.53,664.93 105.47,666.02 C102.41,667.11 98.23,667.87 93.78,668.54 C89.33,669.21 84.04,669.84 78.75,670.05 C73.46,670.26 67.48,670.05 62.05,669.8 C56.62,669.55 48.97,670.05 46.19,668.54 C43.4,667.03 42.71,661.99 45.35,660.73 Z" fill="#7c187c" fill-opacity="1" stroke="#7c187c" stroke-width="1" stroke-linejoin="round"/>
</g></g>
<rect x="41.68" y="618.79" width="71.47" height="84.51" fill="#fff" filter="url(#spk)" clip-path="url(#c14)"/>
<line x1="53.7" y1="704.6" x2="53.7" y2="706.3" stroke="#999" stroke-width="0.5" />
<text x="53.7" y="711" font-size="5.3" fill="#5a5a5a" text-anchor="middle" >-8</text>
<line x1="70.4" y1="704.6" x2="70.4" y2="706.3" stroke="#999" stroke-width="0.5" />
<text x="70.4" y="711" font-size="5.3" fill="#5a5a5a" text-anchor="middle" >-7</text>
<line x1="87.1" y1="704.6" x2="87.1" y2="706.3" stroke="#999" stroke-width="0.5" />
<text x="87.1" y="711" font-size="5.3" fill="#5a5a5a" text-anchor="middle" >-6</text>
<line x1="103.8" y1="704.6" x2="103.8" y2="706.3" stroke="#999" stroke-width="0.5" />
<text x="103.8" y="711" font-size="5.3" fill="#5a5a5a" text-anchor="middle" >-5</text>
<line x1="38.7" y1="682.4" x2="40.7" y2="682.4" stroke="#999" stroke-width="0.5" />
<text x="38.3" y="684.3" font-size="5.3" fill="#5a5a5a" text-anchor="end" >0</text>
<line x1="38.7" y1="657.2" x2="40.7" y2="657.2" stroke="#999" stroke-width="0.5" />
<text x="38.3" y="659.1" font-size="5.3" fill="#5a5a5a" text-anchor="end" >2</text>
<line x1="38.7" y1="632" x2="40.7" y2="632" stroke="#999" stroke-width="0.5" />
<text x="38.3" y="633.9" font-size="5.3" fill="#5a5a5a" text-anchor="end" >4</text>
<text x="75.8" y="614.9" font-size="11" fill="#000" text-anchor="middle" >IL7R</text>
<circle cx="99.3" cy="679.6" r="1.15" fill="#d8b8d8"/>
<text x="104" y="682.05" font-size="6.8" fill="#222" text-anchor="start" >1</text>
<circle cx="99.3" cy="689.35" r="1.15" fill="#b874b8"/>
<text x="104" y="691.8" font-size="6.8" fill="#222" text-anchor="start" >2</text>
<circle cx="99.3" cy="699.1" r="1.15" fill="#8f2a8f"/>
<text x="104" y="701.55" font-size="6.8" fill="#222" text-anchor="start" >3</text>
<rect x="132.3" y="617.4" width="74.8" height="87.2" fill="none" stroke="#c8c8c8" stroke-width="0.8" />
<path d="M177.03,620.79 C179.01,620.93 181.57,621.61 183.54,622.3 C185.52,622.99 187.38,623.85 188.89,624.94 C190.39,626.04 192.03,627.53 192.56,628.85 C193.09,630.17 191.89,631.54 192.06,632.88 C192.23,634.23 193.03,635.4 193.56,636.91 C194.09,638.43 194.76,640.27 195.23,641.95 C195.71,643.63 196.04,645.31 196.4,646.99 C196.76,648.67 196.96,650.35 197.4,652.03 C197.85,653.71 198.18,655.56 199.07,657.07 C199.96,658.59 202.3,659.93 202.75,661.11 C203.19,662.28 202.66,663.37 201.75,664.13 C200.83,664.89 199.27,664.78 197.24,665.64 C195.21,666.5 191.92,667.89 189.56,669.3 C187.19,670.7 184.41,672.36 183.04,674.08 C181.68,675.81 182.21,678.3 181.37,679.63 C180.54,680.95 179.45,681.35 178.03,682.02 C176.61,682.69 174.58,682.84 172.86,683.66 C171.13,684.48 169.1,685.59 167.68,686.94 C166.26,688.28 165.48,690.27 164.34,691.72 C163.2,693.17 162.28,694.31 160.83,695.63 C159.38,696.95 157.38,698.72 155.65,699.66 C153.93,700.61 152.37,701.28 150.48,701.3 C148.58,701.32 146.41,700.59 144.3,699.79 C142.18,698.99 139.29,697.73 137.79,696.51 C136.28,695.29 135.36,694.37 135.28,692.48 C135.2,690.59 136.62,687.73 137.28,685.17 C137.95,682.61 138.56,679.9 139.29,677.11 C140.01,674.31 141.63,670.77 141.63,668.41 C141.63,666.06 138.95,665.39 139.29,663 C139.62,660.6 142.8,657.22 143.63,654.05 C144.47,650.88 143.8,646.83 144.3,643.97 C144.8,641.11 145.47,638.93 146.64,636.91 C147.81,634.9 149.64,633.22 151.31,631.87 C152.98,630.53 154.71,629.67 156.66,628.85 C158.6,628.03 161.22,627.78 163,626.96 C164.78,626.14 165.9,624.86 167.34,623.94 C168.79,623.01 170.07,621.94 171.69,621.42 C173.3,620.89 175.05,620.64 177.03,620.79 Z" fill="#e0dfe0" filter="url(#bl05)"/>
<g clip-path="url(#c15)"><g filter="url(#bl15)">
<path d="M142.8,643.97 L145.63,636.91 L151.31,631.87 L156.66,628.85 L163,626.96 L163.67,638.3 L162,653.42 L153.65,651.53 L141.96,653.42 Z" fill="#cec1ce" fill-opacity="1" stroke="#cec1ce" stroke-width="1" stroke-linejoin="round"/>
<path d="M163,626.96 L167.34,623.94 L168.68,626.33 L178.7,629.48 L187.05,632.76 L189.39,638.3 L187.05,647.12 L182.88,654.68 L177.03,657.83 L168.68,657.2 L162,653.42 L163.67,638.3 Z" fill="#cec1ce" fill-opacity="1" stroke="#cec1ce" stroke-width="1" stroke-linejoin="round"/>
<path d="M168.68,626.33 L167.34,623.94 L171.69,621.42 L177.03,620.79 L183.54,622.3 L188.89,624.94 L192.56,628.85 L191.23,633.26 L187.05,632.76 L178.7,629.48 Z" fill="#d0c5d0" fill-opacity="1" stroke="#d0c5d0" stroke-width="1" stroke-linejoin="round"/>
<path d="M187.05,632.76 L191.23,633.26 L193.56,636.91 L195.23,641.95 L196.4,646.99 L197.4,652.03 L199.07,657.07 L202.75,661.11 L201.75,664.13 L197.24,665.64 L189.56,669.3 L183.04,672.32 L179.53,663.5 L182.88,654.68 L187.05,647.12 L189.39,638.3 Z" fill="#cdbdcd" fill-opacity="1" stroke="#cdbdcd" stroke-width="1" stroke-linejoin="round"/>
<path d="M162,653.42 L168.68,657.2 L177.03,657.83 L182.88,654.68 L179.53,663.5 L183.04,672.32 L183.04,674.08 L181.37,679.63 L178.03,679.88 L170.35,676.1 L166.18,671.06 L164.51,663.5 L163.67,657.83 Z" fill="#c9b5c9" fill-opacity="1" stroke="#c9b5c9" stroke-width="1" stroke-linejoin="round"/>
<path d="M137.79,663 L141.96,654.05 L153.65,651.53 L162,653.42 L163.67,657.83 L164.51,663.5 L166.18,671.06 L158.66,675.47 L145.3,676.1 L137.79,677.11 L140.29,668.41 Z" fill="#cdbdcd" fill-opacity="1" stroke="#cdbdcd" stroke-width="1" stroke-linejoin="round"/>
<path d="M137.79,677.11 L145.3,676.1 L158.66,675.47 L166.18,671.06 L170.35,676.1 L178.03,679.88 L178.03,682.02 L172.86,683.66 L167.68,686.94 L164.34,691.72 L160.83,695.63 L155.65,699.66 L150.48,701.3 L143.63,700.29 L136.95,696.89 L133.94,692.48 L135.95,685.17 Z" fill="#d0c5d0" fill-opacity="1" stroke="#d0c5d0" stroke-width="1" stroke-linejoin="round"/>
<path d="M136.95,660.73 C139.59,659.47 148.08,660.98 153.65,660.98 C159.22,660.98 164.78,660.98 170.35,660.73 C175.92,660.48 182.18,659.74 187.05,659.47 C191.92,659.19 196.79,658.67 199.58,659.09 C202.36,659.51 204.17,660.83 203.75,661.99 C203.33,663.14 200.13,664.93 197.07,666.02 C194.01,667.11 189.83,667.87 185.38,668.54 C180.93,669.21 175.64,669.84 170.35,670.05 C165.06,670.26 159.08,670.05 153.65,669.8 C148.22,669.55 140.57,670.05 137.79,668.54 C135,667.03 134.31,661.99 136.95,660.73 Z" fill="#ae79ae" fill-opacity="1" stroke="#ae79ae" stroke-width="1" stroke-linejoin="round"/>
</g></g>
<rect x="133.28" y="618.79" width="71.47" height="84.51" fill="#fff" filter="url(#spk)" clip-path="url(#c15)"/>
<line x1="145.3" y1="704.6" x2="145.3" y2="706.3" stroke="#999" stroke-width="0.5" />
<text x="145.3" y="711" font-size="5.3" fill="#5a5a5a" text-anchor="middle" >-8</text>
<line x1="162" y1="704.6" x2="162" y2="706.3" stroke="#999" stroke-width="0.5" />
<text x="162" y="711" font-size="5.3" fill="#5a5a5a" text-anchor="middle" >-7</text>
<line x1="178.7" y1="704.6" x2="178.7" y2="706.3" stroke="#999" stroke-width="0.5" />
<text x="178.7" y="711" font-size="5.3" fill="#5a5a5a" text-anchor="middle" >-6</text>
<line x1="195.4" y1="704.6" x2="195.4" y2="706.3" stroke="#999" stroke-width="0.5" />
<text x="195.4" y="711" font-size="5.3" fill="#5a5a5a" text-anchor="middle" >-5</text>
<line x1="130.3" y1="682.4" x2="132.3" y2="682.4" stroke="#999" stroke-width="0.5" />
<text x="129.9" y="684.3" font-size="5.3" fill="#5a5a5a" text-anchor="end" >0</text>
<line x1="130.3" y1="657.2" x2="132.3" y2="657.2" stroke="#999" stroke-width="0.5" />
<text x="129.9" y="659.1" font-size="5.3" fill="#5a5a5a" text-anchor="end" >2</text>
<line x1="130.3" y1="632" x2="132.3" y2="632" stroke="#999" stroke-width="0.5" />
<text x="129.9" y="633.9" font-size="5.3" fill="#5a5a5a" text-anchor="end" >4</text>
<text x="167.4" y="614.9" font-size="11" fill="#000" text-anchor="middle" >CCR7</text>
<circle cx="189.5" cy="675.4" r="1.15" fill="#eeeeee"/>
<text x="194.2" y="677.85" font-size="6.8" fill="#222" text-anchor="start" >0</text>
<circle cx="189.5" cy="683.7" r="1.15" fill="#d0a8d0"/>
<text x="194.2" y="686.15" font-size="6.8" fill="#222" text-anchor="start" >0.5</text>
<circle cx="189.5" cy="692" r="1.15" fill="#ad62ad"/>
<text x="194.2" y="694.45" font-size="6.8" fill="#222" text-anchor="start" >1.0</text>
<circle cx="189.5" cy="700.3" r="1.15" fill="#8f2a8f"/>
<text x="194.2" y="702.75" font-size="6.8" fill="#222" text-anchor="start" >1.5</text>
<rect x="224.5" y="617.4" width="74.8" height="87.2" fill="none" stroke="#c8c8c8" stroke-width="0.8" />
<path d="M269.23,620.79 C271.21,620.93 273.77,621.61 275.74,622.3 C277.72,622.99 279.58,623.85 281.09,624.94 C282.59,626.04 284.23,627.53 284.76,628.85 C285.29,630.17 284.09,631.54 284.26,632.88 C284.43,634.23 285.23,635.4 285.76,636.91 C286.29,638.43 286.96,640.27 287.43,641.95 C287.91,643.63 288.24,645.31 288.6,646.99 C288.96,648.67 289.16,650.35 289.6,652.03 C290.05,653.71 290.38,655.56 291.27,657.07 C292.16,658.59 294.5,659.93 294.95,661.11 C295.39,662.28 294.86,663.37 293.95,664.13 C293.03,664.89 291.47,664.78 289.44,665.64 C287.41,666.5 284.12,667.89 281.75,669.3 C279.39,670.7 276.61,672.36 275.24,674.08 C273.88,675.81 274.41,678.3 273.57,679.63 C272.74,680.95 271.65,681.35 270.23,682.02 C268.81,682.69 266.78,682.84 265.06,683.66 C263.33,684.48 261.3,685.59 259.88,686.94 C258.46,688.28 257.68,690.27 256.54,691.72 C255.4,693.17 254.48,694.31 253.03,695.63 C251.58,696.95 249.58,698.72 247.85,699.66 C246.13,700.61 244.57,701.28 242.68,701.3 C240.78,701.32 238.61,700.59 236.5,699.79 C234.38,698.99 231.49,697.73 229.99,696.51 C228.48,695.29 227.56,694.37 227.48,692.48 C227.4,690.59 228.82,687.73 229.48,685.17 C230.15,682.61 230.76,679.9 231.49,677.11 C232.21,674.31 233.83,670.77 233.83,668.41 C233.83,666.06 231.15,665.39 231.49,663 C231.82,660.6 235,657.22 235.83,654.05 C236.67,650.88 236,646.83 236.5,643.97 C237,641.11 237.67,638.93 238.84,636.91 C240.01,634.9 241.84,633.22 243.51,631.87 C245.18,630.53 246.91,629.67 248.86,628.85 C250.8,628.03 253.42,627.78 255.2,626.96 C256.98,626.14 258.1,624.86 259.54,623.94 C260.99,623.01 262.27,621.94 263.89,621.42 C265.5,620.89 267.25,620.64 269.23,620.79 Z" fill="#e0dfe0" filter="url(#bl05)"/>
<g clip-path="url(#c16)"><g filter="url(#bl15)">
<path d="M235,643.97 L237.83,636.91 L243.51,631.87 L248.86,628.85 L255.2,626.96 L255.87,638.3 L254.2,653.42 L245.85,651.53 L234.16,653.42 Z" fill="#bb94bb" fill-opacity="1" stroke="#bb94bb" stroke-width="1" stroke-linejoin="round"/>
<path d="M255.2,626.96 L259.54,623.94 L260.88,626.33 L270.9,629.48 L279.25,632.76 L281.59,638.3 L279.25,647.12 L275.07,654.68 L269.23,657.83 L260.88,657.2 L254.2,653.42 L255.87,638.3 Z" fill="#c2a4c2" fill-opacity="1" stroke="#c2a4c2" stroke-width="1" stroke-linejoin="round"/>
<path d="M260.88,626.33 L259.54,623.94 L263.89,621.42 L269.23,620.79 L275.74,622.3 L281.09,624.94 L284.76,628.85 L283.43,633.26 L279.25,632.76 L270.9,629.48 Z" fill="#bb94bb" fill-opacity="1" stroke="#bb94bb" stroke-width="1" stroke-linejoin="round"/>
<path d="M279.25,632.76 L283.43,633.26 L285.76,636.91 L287.43,641.95 L288.6,646.99 L289.6,652.03 L291.27,657.07 L294.95,661.11 L293.95,664.13 L289.44,665.64 L281.75,669.3 L275.24,672.32 L271.74,663.5 L275.07,654.68 L279.25,647.12 L281.59,638.3 Z" fill="#c2a4c2" fill-opacity="1" stroke="#c2a4c2" stroke-width="1" stroke-linejoin="round"/>
<path d="M254.2,653.42 L260.88,657.2 L269.23,657.83 L275.07,654.68 L271.74,663.5 L275.24,672.32 L275.24,674.08 L273.57,679.63 L270.23,679.88 L262.55,676.1 L258.38,671.06 L256.7,663.5 L255.87,657.83 Z" fill="#bb94bb" fill-opacity="1" stroke="#bb94bb" stroke-width="1" stroke-linejoin="round"/>
<path d="M229.99,663 L234.16,654.05 L245.85,651.53 L254.2,653.42 L255.87,657.83 L256.7,663.5 L258.38,671.06 L250.86,675.47 L237.5,676.1 L229.99,677.11 L232.49,668.41 Z" fill="#ae79ae" fill-opacity="1" stroke="#ae79ae" stroke-width="1" stroke-linejoin="round"/>
<path d="M229.99,677.11 L237.5,676.1 L250.86,675.47 L258.38,671.06 L262.55,676.1 L270.23,679.88 L270.23,682.02 L265.06,683.66 L259.88,686.94 L256.54,691.72 L253.03,695.63 L247.85,699.66 L242.68,701.3 L235.83,700.29 L229.15,696.89 L226.14,692.48 L228.15,685.17 Z" fill="#872987" fill-opacity="1" stroke="#872987" stroke-width="1" stroke-linejoin="round"/>
<path d="M229.15,660.73 C231.79,659.47 240.28,660.98 245.85,660.98 C251.42,660.98 256.98,660.98 262.55,660.73 C268.12,660.48 274.38,659.74 279.25,659.47 C284.12,659.19 288.99,658.67 291.77,659.09 C294.56,659.51 296.37,660.83 295.95,661.99 C295.53,663.14 292.33,664.93 289.27,666.02 C286.21,667.11 282.03,667.87 277.58,668.54 C273.13,669.21 267.84,669.84 262.55,670.05 C257.26,670.26 251.28,670.05 245.85,669.8 C240.42,669.55 232.77,670.05 229.99,668.54 C227.2,667.03 226.51,661.99 229.15,660.73 Z" fill="#974697" fill-opacity="1" stroke="#974697" stroke-width="1" stroke-linejoin="round"/>
</g></g>
<rect x="225.48" y="618.79" width="71.47" height="84.51" fill="#fff" filter="url(#spk)" clip-path="url(#c16)"/>
<line x1="237.5" y1="704.6" x2="237.5" y2="706.3" stroke="#999" stroke-width="0.5" />
<text x="237.5" y="711" font-size="5.3" fill="#5a5a5a" text-anchor="middle" >-8</text>
<line x1="254.2" y1="704.6" x2="254.2" y2="706.3" stroke="#999" stroke-width="0.5" />
<text x="254.2" y="711" font-size="5.3" fill="#5a5a5a" text-anchor="middle" >-7</text>
<line x1="270.9" y1="704.6" x2="270.9" y2="706.3" stroke="#999" stroke-width="0.5" />
<text x="270.9" y="711" font-size="5.3" fill="#5a5a5a" text-anchor="middle" >-6</text>
<line x1="287.6" y1="704.6" x2="287.6" y2="706.3" stroke="#999" stroke-width="0.5" />
<text x="287.6" y="711" font-size="5.3" fill="#5a5a5a" text-anchor="middle" >-5</text>
<line x1="222.5" y1="682.4" x2="224.5" y2="682.4" stroke="#999" stroke-width="0.5" />
<text x="222.1" y="684.3" font-size="5.3" fill="#5a5a5a" text-anchor="end" >0</text>
<line x1="222.5" y1="657.2" x2="224.5" y2="657.2" stroke="#999" stroke-width="0.5" />
<text x="222.1" y="659.1" font-size="5.3" fill="#5a5a5a" text-anchor="end" >2</text>
<line x1="222.5" y1="632" x2="224.5" y2="632" stroke="#999" stroke-width="0.5" />
<text x="222.1" y="633.9" font-size="5.3" fill="#5a5a5a" text-anchor="end" >4</text>
<text x="259.6" y="614.9" font-size="11" fill="#000" text-anchor="middle" >SELL</text>
<circle cx="281.3" cy="674.9" r="1.15" fill="#dcc2dc"/>
<text x="286" y="677.35" font-size="6.8" fill="#222" text-anchor="start" >0.2</text>
<circle cx="281.3" cy="683.4" r="1.15" fill="#c592c5"/>
<text x="286" y="685.85" font-size="6.8" fill="#222" text-anchor="start" >0.4</text>
<circle cx="281.3" cy="691.9" r="1.15" fill="#ad62ad"/>
<text x="286" y="694.35" font-size="6.8" fill="#222" text-anchor="start" >0.6</text>
<circle cx="281.3" cy="700.4" r="1.15" fill="#8f2a8f"/>
<text x="286" y="702.85" font-size="6.8" fill="#222" text-anchor="start" >0.8</text>
<rect x="40.7" y="729.1" width="74.8" height="87.2" fill="none" stroke="#c8c8c8" stroke-width="0.8" />
<path d="M85.43,732.49 C87.41,732.63 89.97,733.31 91.94,734 C93.92,734.69 95.78,735.55 97.29,736.64 C98.79,737.74 100.43,739.23 100.96,740.55 C101.49,741.87 100.29,743.24 100.46,744.58 C100.63,745.93 101.43,747.1 101.96,748.61 C102.49,750.13 103.16,751.97 103.63,753.65 C104.11,755.33 104.44,757.01 104.8,758.69 C105.16,760.37 105.36,762.05 105.8,763.73 C106.25,765.41 106.58,767.26 107.47,768.77 C108.36,770.29 110.7,771.63 111.15,772.81 C111.59,773.98 111.06,775.07 110.15,775.83 C109.23,776.59 107.67,776.48 105.64,777.34 C103.61,778.2 100.32,779.59 97.96,781 C95.59,782.4 92.81,784.06 91.44,785.78 C90.08,787.51 90.61,790 89.77,791.33 C88.94,792.65 87.85,793.05 86.43,793.72 C85.01,794.39 82.98,794.54 81.26,795.36 C79.53,796.18 77.5,797.29 76.08,798.64 C74.66,799.98 73.88,801.97 72.74,803.42 C71.6,804.87 70.68,806.01 69.23,807.33 C67.78,808.65 65.78,810.42 64.05,811.36 C62.33,812.31 60.77,812.98 58.88,813 C56.98,813.02 54.81,812.29 52.7,811.49 C50.58,810.69 47.69,809.43 46.19,808.21 C44.68,806.99 43.76,806.07 43.68,804.18 C43.6,802.29 45.02,799.43 45.68,796.87 C46.35,794.31 46.96,791.6 47.69,788.81 C48.41,786.01 50.03,782.47 50.03,780.11 C50.03,777.76 47.35,777.09 47.69,774.7 C48.02,772.3 51.2,768.92 52.03,765.75 C52.87,762.58 52.2,758.53 52.7,755.67 C53.2,752.81 53.87,750.63 55.04,748.61 C56.21,746.6 58.04,744.92 59.71,743.57 C61.38,742.23 63.11,741.37 65.06,740.55 C67,739.73 69.62,739.48 71.4,738.66 C73.18,737.84 74.3,736.56 75.74,735.64 C77.19,734.71 78.47,733.64 80.09,733.12 C81.7,732.59 83.45,732.34 85.43,732.49 Z" fill="#e0dfe0" filter="url(#bl05)"/>
<g clip-path="url(#c17)"><g filter="url(#bl15)">
<path d="M51.2,755.67 L54.03,748.61 L59.71,743.57 L65.06,740.55 L71.4,738.66 L72.07,750 L70.4,765.12 L62.05,763.23 L50.36,765.12 Z" fill="#d0c5d0" fill-opacity="1" stroke="#d0c5d0" stroke-width="1" stroke-linejoin="round"/>
<path d="M71.4,738.66 L75.74,735.64 L77.08,738.03 L87.1,741.18 L95.45,744.46 L97.79,750 L95.45,758.82 L91.28,766.38 L85.43,769.53 L77.08,768.9 L70.4,765.12 L72.07,750 Z" fill="#c9b5c9" fill-opacity="1" stroke="#c9b5c9" stroke-width="1" stroke-linejoin="round"/>
<path d="M77.08,738.03 L75.74,735.64 L80.09,733.12 L85.43,732.49 L91.94,734 L97.29,736.64 L100.96,740.55 L99.62,744.96 L95.45,744.46 L87.1,741.18 Z" fill="#d2c9d2" fill-opacity="1" stroke="#d2c9d2" stroke-width="1" stroke-linejoin="round"/>
<path d="M95.45,744.46 L99.62,744.96 L101.96,748.61 L103.63,753.65 L104.8,758.69 L105.8,763.73 L107.47,768.77 L111.15,772.81 L110.15,775.83 L105.64,777.34 L97.96,781 L91.44,784.02 L87.94,775.2 L91.28,766.38 L95.45,758.82 L97.79,750 Z" fill="#cdbdcd" fill-opacity="1" stroke="#cdbdcd" stroke-width="1" stroke-linejoin="round"/>
<path d="M70.4,765.12 L77.08,768.9 L85.43,769.53 L91.28,766.38 L87.94,775.2 L91.44,784.02 L91.44,785.78 L89.77,791.33 L86.43,791.58 L78.75,787.8 L74.58,782.76 L72.91,775.2 L72.07,769.53 Z" fill="#a466a4" fill-opacity="1" stroke="#a466a4" stroke-width="1" stroke-linejoin="round"/>
<path d="M46.19,774.7 L50.36,765.75 L62.05,763.23 L70.4,765.12 L72.07,769.53 L72.91,775.2 L74.58,782.76 L67.06,787.17 L53.7,787.8 L46.19,788.81 L48.69,780.11 Z" fill="#bf9cbf" fill-opacity="1" stroke="#bf9cbf" stroke-width="1" stroke-linejoin="round"/>
<path d="M46.19,788.81 L53.7,787.8 L67.06,787.17 L74.58,782.76 L78.75,787.8 L86.43,791.58 L86.43,793.72 L81.26,795.36 L76.08,798.64 L72.74,803.42 L69.23,807.33 L64.05,811.36 L58.88,813 L52.03,811.99 L45.35,808.59 L42.34,804.18 L44.35,796.87 Z" fill="#bf9cbf" fill-opacity="1" stroke="#bf9cbf" stroke-width="1" stroke-linejoin="round"/>
<path d="M60.38,773.94 C61.77,770.79 67.06,766.8 70.4,763.86 C73.74,760.92 77.08,757.35 80.42,756.3 C83.76,755.25 88.49,755.88 90.44,757.56 C92.39,759.24 93.22,763.65 92.11,766.38 C91,769.11 87.1,771.63 83.76,773.94 C80.42,776.25 75.69,778.77 72.07,780.24 C68.45,781.71 64,783.81 62.05,782.76 C60.1,781.71 58.99,777.09 60.38,773.94 Z" fill="#aa71aa" fill-opacity="1" stroke="#aa71aa" stroke-width="1" stroke-linejoin="round"/>
</g></g>
<rect x="41.68" y="730.49" width="71.47" height="84.51" fill="#fff" filter="url(#spk)" clip-path="url(#c17)"/>
<line x1="53.7" y1="816.3" x2="53.7" y2="818" stroke="#999" stroke-width="0.5" />
<text x="53.7" y="822.7" font-size="5.3" fill="#5a5a5a" text-anchor="middle" >-8</text>
<line x1="70.4" y1="816.3" x2="70.4" y2="818" stroke="#999" stroke-width="0.5" />
<text x="70.4" y="822.7" font-size="5.3" fill="#5a5a5a" text-anchor="middle" >-7</text>
<line x1="87.1" y1="816.3" x2="87.1" y2="818" stroke="#999" stroke-width="0.5" />
<text x="87.1" y="822.7" font-size="5.3" fill="#5a5a5a" text-anchor="middle" >-6</text>
<line x1="103.8" y1="816.3" x2="103.8" y2="818" stroke="#999" stroke-width="0.5" />
<text x="103.8" y="822.7" font-size="5.3" fill="#5a5a5a" text-anchor="middle" >-5</text>
<line x1="38.7" y1="794.1" x2="40.7" y2="794.1" stroke="#999" stroke-width="0.5" />
<text x="38.3" y="796" font-size="5.3" fill="#5a5a5a" text-anchor="end" >0</text>
<line x1="38.7" y1="768.9" x2="40.7" y2="768.9" stroke="#999" stroke-width="0.5" />
<text x="38.3" y="770.8" font-size="5.3" fill="#5a5a5a" text-anchor="end" >2</text>
<line x1="38.7" y1="743.7" x2="40.7" y2="743.7" stroke="#999" stroke-width="0.5" />
<text x="38.3" y="745.6" font-size="5.3" fill="#5a5a5a" text-anchor="end" >4</text>
<text x="75.8" y="726.6" font-size="11" fill="#000" text-anchor="middle" >PDCD1</text>
<circle cx="96.3" cy="786.4" r="1.15" fill="#eeeeee"/>
<text x="101" y="788.85" font-size="6.8" fill="#222" text-anchor="start" >0</text>
<circle cx="96.3" cy="794.8" r="1.15" fill="#d0a8d0"/>
<text x="101" y="797.25" font-size="6.8" fill="#222" text-anchor="start" >0.2</text>
<circle cx="96.3" cy="803.2" r="1.15" fill="#ad62ad"/>
<text x="101" y="805.65" font-size="6.8" fill="#222" text-anchor="start" >0.4</text>
<circle cx="96.3" cy="811.6" r="1.15" fill="#8f2a8f"/>
<text x="101" y="814.05" font-size="6.8" fill="#222" text-anchor="start" >0.6</text>
<rect x="132.3" y="729.1" width="74.8" height="87.2" fill="none" stroke="#c8c8c8" stroke-width="0.8" />
<path d="M177.03,732.49 C179.01,732.63 181.57,733.31 183.54,734 C185.52,734.69 187.38,735.55 188.89,736.64 C190.39,737.74 192.03,739.23 192.56,740.55 C193.09,741.87 191.89,743.24 192.06,744.58 C192.23,745.93 193.03,747.1 193.56,748.61 C194.09,750.13 194.76,751.97 195.23,753.65 C195.71,755.33 196.04,757.01 196.4,758.69 C196.76,760.37 196.96,762.05 197.4,763.73 C197.85,765.41 198.18,767.26 199.07,768.77 C199.96,770.29 202.3,771.63 202.75,772.81 C203.19,773.98 202.66,775.07 201.75,775.83 C200.83,776.59 199.27,776.48 197.24,777.34 C195.21,778.2 191.92,779.59 189.56,781 C187.19,782.4 184.41,784.06 183.04,785.78 C181.68,787.51 182.21,790 181.37,791.33 C180.54,792.65 179.45,793.05 178.03,793.72 C176.61,794.39 174.58,794.54 172.86,795.36 C171.13,796.18 169.1,797.29 167.68,798.64 C166.26,799.98 165.48,801.97 164.34,803.42 C163.2,804.87 162.28,806.01 160.83,807.33 C159.38,808.65 157.38,810.42 155.65,811.36 C153.93,812.31 152.37,812.98 150.48,813 C148.58,813.02 146.41,812.29 144.3,811.49 C142.18,810.69 139.29,809.43 137.79,808.21 C136.28,806.99 135.36,806.07 135.28,804.18 C135.2,802.29 136.62,799.43 137.28,796.87 C137.95,794.31 138.56,791.6 139.29,788.81 C140.01,786.01 141.63,782.47 141.63,780.11 C141.63,777.76 138.95,777.09 139.29,774.7 C139.62,772.3 142.8,768.92 143.63,765.75 C144.47,762.58 143.8,758.53 144.3,755.67 C144.8,752.81 145.47,750.63 146.64,748.61 C147.81,746.6 149.64,744.92 151.31,743.57 C152.98,742.23 154.71,741.37 156.66,740.55 C158.6,739.73 161.22,739.48 163,738.66 C164.78,737.84 165.9,736.56 167.34,735.64 C168.79,734.71 170.07,733.64 171.69,733.12 C173.3,732.59 175.05,732.34 177.03,732.49 Z" fill="#e0dfe0" filter="url(#bl05)"/>
<g clip-path="url(#c18)"><g filter="url(#bl15)">
<path d="M142.8,755.67 L145.63,748.61 L151.31,743.57 L156.66,740.55 L163,738.66 L163.67,750 L162,765.12 L153.65,763.23 L141.96,765.12 Z" fill="#9b519b" fill-opacity="1" stroke="#9b519b" stroke-width="1" stroke-linejoin="round"/>
<path d="M163,738.66 L167.34,735.64 L168.68,738.03 L178.7,741.18 L187.05,744.46 L189.39,750 L187.05,758.82 L182.88,766.38 L177.03,769.53 L168.68,768.9 L162,765.12 L163.67,750 Z" fill="#944094" fill-opacity="1" stroke="#944094" stroke-width="1" stroke-linejoin="round"/>
<path d="M168.68,738.03 L167.34,735.64 L171.69,733.12 L177.03,732.49 L183.54,734 L188.89,736.64 L192.56,740.55 L191.23,744.96 L187.05,744.46 L178.7,741.18 Z" fill="#cdbdcd" fill-opacity="1" stroke="#cdbdcd" stroke-width="1" stroke-linejoin="round"/>
<path d="M187.05,744.46 L191.23,744.96 L193.56,748.61 L195.23,753.65 L196.4,758.69 L197.4,763.73 L199.07,768.77 L202.75,772.81 L201.75,775.83 L197.24,777.34 L189.56,781 L183.04,784.02 L179.53,775.2 L182.88,766.38 L187.05,758.82 L189.39,750 Z" fill="#cdbdcd" fill-opacity="1" stroke="#cdbdcd" stroke-width="1" stroke-linejoin="round"/>
<path d="M162,765.12 L168.68,768.9 L177.03,769.53 L182.88,766.38 L179.53,775.2 L183.04,784.02 L183.04,785.78 L181.37,791.33 L178.03,791.58 L170.35,787.8 L166.18,782.76 L164.51,775.2 L163.67,769.53 Z" fill="#923b92" fill-opacity="1" stroke="#923b92" stroke-width="1" stroke-linejoin="round"/>
<path d="M137.79,774.7 L141.96,765.75 L153.65,763.23 L162,765.12 L163.67,769.53 L164.51,775.2 L166.18,782.76 L158.66,787.17 L145.3,787.8 L137.79,788.81 L140.29,780.11 Z" fill="#d2c9d2" fill-opacity="1" stroke="#d2c9d2" stroke-width="1" stroke-linejoin="round"/>
<path d="M137.79,788.81 L145.3,787.8 L158.66,787.17 L166.18,782.76 L170.35,787.8 L178.03,791.58 L178.03,793.72 L172.86,795.36 L167.68,798.64 L164.34,803.42 L160.83,807.33 L155.65,811.36 L150.48,813 L143.63,811.99 L136.95,808.59 L133.94,804.18 L135.95,796.87 Z" fill="#c9b5c9" fill-opacity="1" stroke="#c9b5c9" stroke-width="1" stroke-linejoin="round"/>
</g></g>
<rect x="133.28" y="730.49" width="71.47" height="84.51" fill="#fff" filter="url(#spk)" clip-path="url(#c18)"/>
<line x1="145.3" y1="816.3" x2="145.3" y2="818" stroke="#999" stroke-width="0.5" />
<text x="145.3" y="822.7" font-size="5.3" fill="#5a5a5a" text-anchor="middle" >-8</text>
<line x1="162" y1="816.3" x2="162" y2="818" stroke="#999" stroke-width="0.5" />
<text x="162" y="822.7" font-size="5.3" fill="#5a5a5a" text-anchor="middle" >-7</text>
<line x1="178.7" y1="816.3" x2="178.7" y2="818" stroke="#999" stroke-width="0.5" />
<text x="178.7" y="822.7" font-size="5.3" fill="#5a5a5a" text-anchor="middle" >-6</text>
<line x1="195.4" y1="816.3" x2="195.4" y2="818" stroke="#999" stroke-width="0.5" />
<text x="195.4" y="822.7" font-size="5.3" fill="#5a5a5a" text-anchor="middle" >-5</text>
<line x1="130.3" y1="794.1" x2="132.3" y2="794.1" stroke="#999" stroke-width="0.5" />
<text x="129.9" y="796" font-size="5.3" fill="#5a5a5a" text-anchor="end" >0</text>
<line x1="130.3" y1="768.9" x2="132.3" y2="768.9" stroke="#999" stroke-width="0.5" />
<text x="129.9" y="770.8" font-size="5.3" fill="#5a5a5a" text-anchor="end" >2</text>
<line x1="130.3" y1="743.7" x2="132.3" y2="743.7" stroke="#999" stroke-width="0.5" />
<text x="129.9" y="745.6" font-size="5.3" fill="#5a5a5a" text-anchor="end" >4</text>
<text x="167.4" y="726.6" font-size="11" fill="#000" text-anchor="middle" >LAG3</text>
<circle cx="190.3" cy="784.9" r="1.15" fill="#dcc2dc"/>
<text x="195" y="787.35" font-size="6.8" fill="#222" text-anchor="start" >0.3</text>
<circle cx="190.3" cy="793.77" r="1.15" fill="#c592c5"/>
<text x="195" y="796.22" font-size="6.8" fill="#222" text-anchor="start" >0.6</text>
<circle cx="190.3" cy="802.64" r="1.15" fill="#ad62ad"/>
<text x="195" y="805.09" font-size="6.8" fill="#222" text-anchor="start" >0.9</text>
<circle cx="190.3" cy="811.51" r="1.15" fill="#8f2a8f"/>
<text x="195" y="813.96" font-size="6.8" fill="#222" text-anchor="start" >1.2</text>
<rect x="224.5" y="729.1" width="74.8" height="87.2" fill="none" stroke="#c8c8c8" stroke-width="0.8" />
<path d="M269.23,732.49 C271.21,732.63 273.77,733.31 275.74,734 C277.72,734.69 279.58,735.55 281.09,736.64 C282.59,737.74 284.23,739.23 284.76,740.55 C285.29,741.87 284.09,743.24 284.26,744.58 C284.43,745.93 285.23,747.1 285.76,748.61 C286.29,750.13 286.96,751.97 287.43,753.65 C287.91,755.33 288.24,757.01 288.6,758.69 C288.96,760.37 289.16,762.05 289.6,763.73 C290.05,765.41 290.38,767.26 291.27,768.77 C292.16,770.29 294.5,771.63 294.95,772.81 C295.39,773.98 294.86,775.07 293.95,775.83 C293.03,776.59 291.47,776.48 289.44,777.34 C287.41,778.2 284.12,779.59 281.75,781 C279.39,782.4 276.61,784.06 275.24,785.78 C273.88,787.51 274.41,790 273.57,791.33 C272.74,792.65 271.65,793.05 270.23,793.72 C268.81,794.39 266.78,794.54 265.06,795.36 C263.33,796.18 261.3,797.29 259.88,798.64 C258.46,799.98 257.68,801.97 256.54,803.42 C255.4,804.87 254.48,806.01 253.03,807.33 C251.58,808.65 249.58,810.42 247.85,811.36 C246.13,812.31 244.57,812.98 242.68,813 C240.78,813.02 238.61,812.29 236.5,811.49 C234.38,810.69 231.49,809.43 229.99,808.21 C228.48,806.99 227.56,806.07 227.48,804.18 C227.4,802.29 228.82,799.43 229.48,796.87 C230.15,794.31 230.76,791.6 231.49,788.81 C232.21,786.01 233.83,782.47 233.83,780.11 C233.83,777.76 231.15,777.09 231.49,774.7 C231.82,772.3 235,768.92 235.83,765.75 C236.67,762.58 236,758.53 236.5,755.67 C237,752.81 237.67,750.63 238.84,748.61 C240.01,746.6 241.84,744.92 243.51,743.57 C245.18,742.23 246.91,741.37 248.86,740.55 C250.8,739.73 253.42,739.48 255.2,738.66 C256.98,737.84 258.1,736.56 259.54,735.64 C260.99,734.71 262.27,733.64 263.89,733.12 C265.5,732.59 267.25,732.34 269.23,732.49 Z" fill="#e0dfe0" filter="url(#bl05)"/>
<g clip-path="url(#c19)"><g filter="url(#bl15)">
<path d="M235,755.67 L237.83,748.61 L243.51,743.57 L248.86,740.55 L255.2,738.66 L255.87,750 L254.2,765.12 L245.85,763.23 L234.16,765.12 Z" fill="#c2a4c2" fill-opacity="1" stroke="#c2a4c2" stroke-width="1" stroke-linejoin="round"/>
<path d="M255.2,738.66 L259.54,735.64 L260.88,738.03 L270.9,741.18 L279.25,744.46 L281.59,750 L279.25,758.82 L275.07,766.38 L269.23,769.53 L260.88,768.9 L254.2,765.12 L255.87,750 Z" fill="#9b519b" fill-opacity="1" stroke="#9b519b" stroke-width="1" stroke-linejoin="round"/>
<path d="M260.88,738.03 L259.54,735.64 L263.89,733.12 L269.23,732.49 L275.74,734 L281.09,736.64 L284.76,740.55 L283.43,744.96 L279.25,744.46 L270.9,741.18 Z" fill="#aa71aa" fill-opacity="1" stroke="#aa71aa" stroke-width="1" stroke-linejoin="round"/>
<path d="M279.25,744.46 L283.43,744.96 L285.76,748.61 L287.43,753.65 L288.6,758.69 L289.6,763.73 L291.27,768.77 L294.95,772.81 L293.95,775.83 L289.44,777.34 L281.75,781 L275.24,784.02 L271.74,775.2 L275.07,766.38 L279.25,758.82 L281.59,750 Z" fill="#cdbdcd" fill-opacity="1" stroke="#cdbdcd" stroke-width="1" stroke-linejoin="round"/>
<path d="M254.2,765.12 L260.88,768.9 L269.23,769.53 L275.07,766.38 L271.74,775.2 L275.24,784.02 L275.24,785.78 L273.57,791.33 L270.23,791.58 L262.55,787.8 L258.38,782.76 L256.7,775.2 L255.87,769.53 Z" fill="#923b92" fill-opacity="1" stroke="#923b92" stroke-width="1" stroke-linejoin="round"/>
<path d="M229.99,774.7 L234.16,765.75 L245.85,763.23 L254.2,765.12 L255.87,769.53 L256.7,775.2 L258.38,782.76 L250.86,787.17 L237.5,787.8 L229.99,788.81 L232.49,780.11 Z" fill="#d5ced5" fill-opacity="1" stroke="#d5ced5" stroke-width="1" stroke-linejoin="round"/>
<path d="M229.99,788.81 L237.5,787.8 L250.86,787.17 L258.38,782.76 L262.55,787.8 L270.23,791.58 L270.23,793.72 L265.06,795.36 L259.88,798.64 L256.54,803.42 L253.03,807.33 L247.85,811.36 L242.68,813 L235.83,811.99 L229.15,808.59 L226.14,804.18 L228.15,796.87 Z" fill="#cdbdcd" fill-opacity="1" stroke="#cdbdcd" stroke-width="1" stroke-linejoin="round"/>
<path d="M247.52,747.48 C248.63,744.54 251.69,743.28 254.2,741.18 C256.7,739.08 259.77,736.25 262.55,734.88 C265.33,733.51 268.12,732.99 270.9,732.99 C273.68,732.99 277.3,733.51 279.25,734.88 C281.2,736.25 282.59,738.87 282.59,741.18 C282.59,743.49 280.36,745.38 279.25,748.74 C278.14,752.1 277.3,757.88 275.91,761.34 C274.52,764.81 273.4,768.06 270.9,769.53 C268.39,771 264.22,770.69 260.88,770.16 C257.54,769.64 253.09,768.27 250.86,766.38 C248.63,764.49 248.08,761.97 247.52,758.82 C246.96,755.67 246.41,750.42 247.52,747.48 Z" fill="#944094" fill-opacity="1" stroke="#944094" stroke-width="1" stroke-linejoin="round"/>
</g></g>
<rect x="225.48" y="730.49" width="71.47" height="84.51" fill="#fff" filter="url(#spk)" clip-path="url(#c19)"/>
<line x1="237.5" y1="816.3" x2="237.5" y2="818" stroke="#999" stroke-width="0.5" />
<text x="237.5" y="822.7" font-size="5.3" fill="#5a5a5a" text-anchor="middle" >-8</text>
<line x1="254.2" y1="816.3" x2="254.2" y2="818" stroke="#999" stroke-width="0.5" />
<text x="254.2" y="822.7" font-size="5.3" fill="#5a5a5a" text-anchor="middle" >-7</text>
<line x1="270.9" y1="816.3" x2="270.9" y2="818" stroke="#999" stroke-width="0.5" />
<text x="270.9" y="822.7" font-size="5.3" fill="#5a5a5a" text-anchor="middle" >-6</text>
<line x1="287.6" y1="816.3" x2="287.6" y2="818" stroke="#999" stroke-width="0.5" />
<text x="287.6" y="822.7" font-size="5.3" fill="#5a5a5a" text-anchor="middle" >-5</text>
<line x1="222.5" y1="794.1" x2="224.5" y2="794.1" stroke="#999" stroke-width="0.5" />
<text x="222.1" y="796" font-size="5.3" fill="#5a5a5a" text-anchor="end" >0</text>
<line x1="222.5" y1="768.9" x2="224.5" y2="768.9" stroke="#999" stroke-width="0.5" />
<text x="222.1" y="770.8" font-size="5.3" fill="#5a5a5a" text-anchor="end" >2</text>
<line x1="222.5" y1="743.7" x2="224.5" y2="743.7" stroke="#999" stroke-width="0.5" />
<text x="222.1" y="745.6" font-size="5.3" fill="#5a5a5a" text-anchor="end" >4</text>
<text x="259.6" y="726.6" font-size="11" fill="#000" text-anchor="middle" >HAVCR2</text>
<circle cx="279.1" cy="791.4" r="1.15" fill="#d8b8d8"/>
<text x="283.8" y="793.85" font-size="6.8" fill="#222" text-anchor="start" >0.2</text>
<circle cx="279.1" cy="801.4" r="1.15" fill="#b874b8"/>
<text x="283.8" y="803.85" font-size="6.8" fill="#222" text-anchor="start" >0.4</text>
<circle cx="279.1" cy="811.4" r="1.15" fill="#8f2a8f"/>
<text x="283.8" y="813.85" font-size="6.8" fill="#222" text-anchor="start" >0.6</text>
<line x1="26.4" y1="280" x2="26.4" y2="826.4" stroke="#000" stroke-width="1.2" />
<path d="M22.3,284.6 L26.4,278.3 L30.5,284.6" fill="none" stroke="#000" stroke-width="1.1"/>
<line x1="25.8" y1="826.4" x2="286.5" y2="826.4" stroke="#000" stroke-width="1.2" />
<path d="M280.5,822.3 L287.2,826.4 L280.5,830.5" fill="none" stroke="#000" stroke-width="1.1"/>
<text font-size="9.2" fill="#000" text-anchor="middle" transform="translate(23.4,788.5) rotate(-90)">UMAP_2</text>
<text x="60.3" y="837.4" font-size="9.2" fill="#000" text-anchor="middle" >UMAP_1</text>
<path d="M474.03,340.11 C476.72,340.33 480.2,341.3 482.88,342.31 C485.57,343.32 488.1,344.57 490.15,346.15 C492.19,347.74 494.42,349.9 495.14,351.83 C495.86,353.75 494.23,355.73 494.46,357.68 C494.69,359.63 495.78,361.34 496.5,363.54 C497.22,365.73 498.13,368.42 498.77,370.86 C499.42,373.3 499.87,375.74 500.36,378.18 C500.85,380.62 501.12,383.06 501.72,385.5 C502.33,387.94 502.78,390.62 503.99,392.82 C505.2,395.01 508.38,396.97 508.99,398.67 C509.59,400.38 508.87,401.97 507.63,403.06 C506.38,404.16 504.26,404.01 501.5,405.26 C498.74,406.51 494.27,408.52 491.06,410.57 C487.84,412.61 484.06,415.02 482.2,417.52 C480.35,420.02 481.07,423.65 479.93,425.57 C478.8,427.5 477.32,428.08 475.39,429.05 C473.46,430.03 470.7,430.24 468.35,431.43 C466.01,432.62 463.25,434.24 461.32,436.19 C459.39,438.14 458.33,441.04 456.78,443.14 C455.23,445.25 453.98,446.89 452.01,448.81 C450.04,450.74 447.32,453.3 444.97,454.67 C442.63,456.04 440.51,457.02 437.94,457.05 C435.36,457.08 432.41,456.01 429.54,454.85 C426.66,453.7 422.73,451.87 420.69,450.1 C418.64,448.33 417.39,446.99 417.28,444.24 C417.17,441.5 419.1,437.35 420,433.63 C420.91,429.91 421.74,425.97 422.73,421.91 C423.71,417.86 425.91,412.7 425.91,409.29 C425.91,405.87 422.27,404.89 422.73,401.42 C423.18,397.94 427.5,393.03 428.63,388.43 C429.76,383.82 428.86,377.93 429.54,373.79 C430.22,369.64 431.13,366.47 432.72,363.54 C434.3,360.61 436.8,358.17 439.07,356.22 C441.34,354.27 443.69,353.01 446.34,351.83 C448.98,350.64 452.54,350.27 454.96,349.08 C457.38,347.89 458.9,346.03 460.86,344.69 C462.83,343.35 464.57,341.79 466.77,341.03 C468.96,340.27 471.34,339.9 474.03,340.11 Z" fill="#e0dcdc" filter="url(#bl05)"/>
<g clip-path="url(#c20)"><g filter="url(#bl20)">
<path d="M420.69,401.42 L426.36,388.43 L442.25,384.76 L453.6,387.51 L455.87,393.92 L457,402.15 L459.27,413.13 L449.06,419.54 L430.9,420.45 L420.69,421.91 L424.09,409.29 Z" fill="#e5c8bf" fill-opacity="1" stroke="#e5c8bf" stroke-width="1" stroke-linejoin="round"/>
<path d="M420.69,421.91 L430.9,420.45 L449.06,419.54 L459.27,413.13 L464.95,420.45 L475.39,425.94 L475.39,429.05 L468.35,431.43 L461.32,436.19 L456.78,443.14 L452.01,448.81 L444.97,454.67 L437.94,457.05 L428.63,455.59 L419.55,450.65 L415.46,444.24 L418.19,433.63 Z" fill="#e0dcdc" fill-opacity="1" stroke="#e0dcdc" stroke-width="1" stroke-linejoin="round"/>
<path d="M426.36,418.62 C430.52,416.79 443.01,416.79 449.06,416.79 C455.11,416.79 459.27,416.79 462.68,418.62 C466.09,420.45 470.62,425.03 469.49,427.77 C468.36,430.52 460.79,434.79 455.87,435.09 C450.95,435.4 445.28,430.82 439.98,429.6 C434.68,428.38 426.36,429.6 424.09,427.77 C421.82,425.94 422.2,420.45 426.36,418.62 Z" fill="#e5d0ca" fill-opacity="1" stroke="#e5d0ca" stroke-width="1" stroke-linejoin="round"/>
<path d="M462.68,348.17 L460.86,344.69 L466.77,341.03 L474.03,340.11 L482.88,342.31 L490.15,346.15 L495.14,351.83 L493.32,358.23 L487.65,357.5 L476.3,352.74 Z" fill="#f38771" fill-opacity="1" stroke="#f38771" stroke-width="1" stroke-linejoin="round"/>
<path d="M487.65,357.5 L493.32,358.23 L496.5,363.54 L498.77,370.86 L500.36,378.18 L501.72,385.5 L503.99,392.82 L508.99,398.67 L507.63,403.06 L501.5,405.26 L491.06,410.57 L482.2,414.96 L477.43,402.15 L481.97,389.34 L487.65,378.36 L490.83,365.55 Z" fill="#f07252" fill-opacity="1" stroke="#f07252" stroke-width="1" stroke-linejoin="round"/>
<path d="M427.49,373.79 L431.35,363.54 L439.07,356.22 L446.34,351.83 L454.96,349.08 L455.87,365.55 L453.6,387.51 L442.25,384.76 L426.36,387.51 Z" fill="#eb3613" fill-opacity="1" stroke="#eb3613" stroke-width="1" stroke-linejoin="round"/>
<path d="M454.96,349.08 L460.86,344.69 L462.68,348.17 L476.3,352.74 L487.65,357.5 L490.83,365.55 L487.65,378.36 L481.97,389.34 L474.03,393.92 L462.68,393 L453.6,387.51 L455.87,365.55 Z" fill="#e82300" fill-opacity="1" stroke="#e82300" stroke-width="1" stroke-linejoin="round"/>
<path d="M453.6,387.51 L462.68,393 L474.03,393.92 L481.97,389.34 L477.43,402.15 L482.2,414.96 L482.2,417.52 L479.93,425.57 L475.39,425.94 L464.95,420.45 L459.27,413.13 L457,402.15 L455.87,393.92 Z" fill="#eb6140" fill-opacity="1" stroke="#eb6140" stroke-width="1" stroke-linejoin="round"/>
<path d="M446.79,385.68 C446.79,381.11 455.49,374.09 460.41,371.04 C465.33,367.99 472.14,365.55 476.3,367.38 C480.46,369.21 485.38,377.45 485.38,382.02 C485.38,386.6 480.46,392.09 476.3,394.83 C472.14,397.58 465.33,400.01 460.41,398.49 C455.49,396.97 446.79,390.25 446.79,385.68 Z" fill="#e30000" fill-opacity="0.85" stroke="#e30000" stroke-width="1" stroke-linejoin="round"/>
<path d="M462.68,405.81 C464.95,405.5 473.46,408.4 476.3,411.3 C479.14,414.2 480.84,421.67 479.7,423.2 C478.57,424.72 472.33,422.13 469.49,420.45 C466.65,418.77 463.81,415.57 462.68,413.13 C461.55,410.69 460.41,406.12 462.68,405.81 Z" fill="#e82808" fill-opacity="0.8" stroke="#e82808" stroke-width="1" stroke-linejoin="round"/>
</g></g>
<rect x="415.28" y="338.11" width="95.71" height="120.94" fill="#fff" filter="url(#spk)" clip-path="url(#c20)"/>
<text x="467.8" y="325.2" font-size="11.4" fill="#111" text-anchor="middle" >Teff Signature</text>
<line x1="403" y1="331" x2="403" y2="472.8" stroke="#c4c4c4" stroke-width="1.3" />
<line x1="402.4" y1="472.4" x2="526.2" y2="472.4" stroke="#444" stroke-width="1" />
<line x1="408.2" y1="472.6" x2="408.2" y2="474.8" stroke="#222" stroke-width="0.7" />
<text x="0" y="0" font-size="8.4" fill="#333" text-anchor="middle" transform="translate(408.2,482.8) scale(0.78,1) translate(0,0)" >-9</text>
<line x1="430.9" y1="472.6" x2="430.9" y2="474.8" stroke="#222" stroke-width="0.7" />
<text x="0" y="0" font-size="8.4" fill="#333" text-anchor="middle" transform="translate(430.9,482.8) scale(0.78,1) translate(0,0)" >-8</text>
<line x1="453.6" y1="472.6" x2="453.6" y2="474.8" stroke="#222" stroke-width="0.7" />
<text x="0" y="0" font-size="8.4" fill="#333" text-anchor="middle" transform="translate(453.6,482.8) scale(0.78,1) translate(0,0)" >-7</text>
<line x1="476.3" y1="472.6" x2="476.3" y2="474.8" stroke="#222" stroke-width="0.7" />
<text x="0" y="0" font-size="8.4" fill="#333" text-anchor="middle" transform="translate(476.3,482.8) scale(0.78,1) translate(0,0)" >-6</text>
<line x1="499" y1="472.6" x2="499" y2="474.8" stroke="#222" stroke-width="0.7" />
<text x="0" y="0" font-size="8.4" fill="#333" text-anchor="middle" transform="translate(499,482.8) scale(0.78,1) translate(0,0)" >-5</text>
<line x1="521.7" y1="472.6" x2="521.7" y2="474.8" stroke="#222" stroke-width="0.7" />
<text x="0" y="0" font-size="8.4" fill="#333" text-anchor="middle" transform="translate(521.7,482.8) scale(0.78,1) translate(0,0)" >-4</text>
<line x1="400.8" y1="356.4" x2="403" y2="356.4" stroke="#222" stroke-width="0.7" />
<text x="0" y="0" font-size="8.4" fill="#333" text-anchor="end" transform="translate(399.8,359.4) scale(0.78,1) translate(0,0)" >4</text>
<line x1="400.8" y1="393" x2="403" y2="393" stroke="#222" stroke-width="0.7" />
<text x="0" y="0" font-size="8.4" fill="#333" text-anchor="end" transform="translate(399.8,396) scale(0.78,1) translate(0,0)" >2</text>
<line x1="400.8" y1="429.6" x2="403" y2="429.6" stroke="#222" stroke-width="0.7" />
<text x="0" y="0" font-size="8.4" fill="#333" text-anchor="end" transform="translate(399.8,432.6) scale(0.78,1) translate(0,0)" >0</text>
<line x1="400.8" y1="466.2" x2="403" y2="466.2" stroke="#222" stroke-width="0.7" />
<text x="0" y="0" font-size="8.4" fill="#333" text-anchor="end" transform="translate(399.8,469.2) scale(0.78,1) translate(0,0)" >-2</text>
<text font-size="9.2" fill="#333" text-anchor="middle" transform="translate(391.2,401.6) scale(0.85,1) rotate(-90)">UMAP_2</text>
<text x="0" y="0" font-size="9.8" fill="#333" text-anchor="middle" transform="translate(465,493.6) scale(0.72,1) translate(0,0)" >UMAP_1</text>
<rect x="534.2" y="377.9" width="7.9" height="52" fill="url(#gC)" stroke="none" stroke-width="1" />
<text x="0" y="0" font-size="7.6" fill="#222" text-anchor="start" transform="translate(545.7,381.8) scale(0.88,1) translate(0,0)" >0.8</text>
<text x="0" y="0" font-size="7.6" fill="#222" text-anchor="start" transform="translate(545.7,394.57) scale(0.88,1) translate(0,0)" >0.6</text>
<text x="0" y="0" font-size="7.6" fill="#222" text-anchor="start" transform="translate(545.7,407.34) scale(0.88,1) translate(0,0)" >0.4</text>
<text x="0" y="0" font-size="7.6" fill="#222" text-anchor="start" transform="translate(545.7,420.11) scale(0.88,1) translate(0,0)" >0.2</text>
<text x="0" y="0" font-size="7.6" fill="#222" text-anchor="start" transform="translate(545.7,432.88) scale(0.88,1) translate(0,0)" >0.0</text>
<rect x="373.7" y="572.9" width="15.93" height="14.31" fill="#ff0000" stroke="#9a9a9a" stroke-width="0.6" />
<text x="381.66" y="581.15" font-size="3.2" fill="#000" text-anchor="middle" font-weight="bold">1.00</text>
<rect x="389.62" y="572.9" width="15.93" height="14.31" fill="#ffa9a9" stroke="#9a9a9a" stroke-width="0.6" />
<text x="397.59" y="581.15" font-size="3.2" fill="#000" text-anchor="middle" font-weight="bold">0.39</text>
<rect x="405.55" y="572.9" width="15.93" height="14.31" fill="#ff9b9b" stroke="#9a9a9a" stroke-width="0.6" />
<text x="413.51" y="581.15" font-size="3.2" fill="#000" text-anchor="middle" font-weight="bold">0.44</text>
<rect x="421.48" y="572.9" width="15.93" height="14.31" fill="#ffb4b4" stroke="#9a9a9a" stroke-width="0.6" />
<text x="429.44" y="581.15" font-size="3.2" fill="#000" text-anchor="middle" font-weight="bold">0.35</text>
<rect x="437.4" y="572.9" width="15.93" height="14.31" fill="#9090ff" stroke="#9a9a9a" stroke-width="0.6" />
<text x="445.36" y="581.15" font-size="3.2" fill="#000" text-anchor="middle" font-weight="bold">-0.32</text>
<rect x="453.32" y="572.9" width="15.93" height="14.31" fill="#fff9f9" stroke="#9a9a9a" stroke-width="0.6" />
<text x="461.29" y="581.15" font-size="3.2" fill="#000" text-anchor="middle" font-weight="bold">0.10</text>
<rect x="469.25" y="572.9" width="15.93" height="14.31" fill="#b4b4ff" stroke="#9a9a9a" stroke-width="0.6" />
<text x="477.21" y="581.15" font-size="3.2" fill="#000" text-anchor="middle" font-weight="bold">-0.19</text>
<rect x="485.18" y="572.9" width="15.93" height="14.31" fill="#7f7fff" stroke="#9a9a9a" stroke-width="0.6" />
<text x="493.14" y="581.15" font-size="3.2" fill="#000" text-anchor="middle" font-weight="bold">-0.38</text>
<rect x="501.1" y="572.9" width="15.93" height="14.31" fill="#b4b4ff" stroke="#9a9a9a" stroke-width="0.6" />
<text x="509.06" y="581.15" font-size="3.2" fill="#000" text-anchor="middle" font-weight="bold">-0.19</text>
<rect x="517.02" y="572.9" width="15.93" height="14.31" fill="#4040ff" stroke="#9a9a9a" stroke-width="0.6" />
<text x="524.99" y="581.15" font-size="3.2" fill="#000" text-anchor="middle" font-weight="bold">-0.61</text>
<rect x="532.95" y="572.9" width="15.93" height="14.31" fill="#b4b4ff" stroke="#9a9a9a" stroke-width="0.6" />
<text x="540.91" y="581.15" font-size="3.2" fill="#000" text-anchor="middle" font-weight="bold">-0.19</text>
<rect x="548.88" y="572.9" width="15.93" height="14.31" fill="#6c6cff" stroke="#9a9a9a" stroke-width="0.6" />
<text x="556.84" y="581.15" font-size="3.2" fill="#000" text-anchor="middle" font-weight="bold">-0.45</text>
<rect x="564.8" y="572.9" width="15.93" height="14.31" fill="#7d7dff" stroke="#9a9a9a" stroke-width="0.6" />
<text x="572.76" y="581.15" font-size="3.2" fill="#000" text-anchor="middle" font-weight="bold">-0.39</text>
<rect x="580.73" y="572.9" width="15.93" height="14.31" fill="#9898ff" stroke="#9a9a9a" stroke-width="0.6" />
<text x="588.69" y="581.15" font-size="3.2" fill="#000" text-anchor="middle" font-weight="bold">-0.29</text>
<rect x="596.65" y="572.9" width="15.93" height="14.31" fill="#5b5bff" stroke="#9a9a9a" stroke-width="0.6" />
<text x="604.61" y="581.15" font-size="3.2" fill="#000" text-anchor="middle" font-weight="bold">-0.51</text>
<rect x="612.58" y="572.9" width="15.93" height="14.31" fill="#2727ff" stroke="#9a9a9a" stroke-width="0.6" />
<text x="620.54" y="581.15" font-size="3.2" fill="#000" text-anchor="middle" font-weight="bold">-0.70</text>
<rect x="373.7" y="587.21" width="15.93" height="14.31" fill="#ffa9a9" stroke="#9a9a9a" stroke-width="0.6" />
<text x="381.66" y="595.46" font-size="3.2" fill="#000" text-anchor="middle" font-weight="bold">0.39</text>
<rect x="389.62" y="587.21" width="15.93" height="14.31" fill="#ff0000" stroke="#9a9a9a" stroke-width="0.6" />
<text x="397.59" y="595.46" font-size="3.2" fill="#000" text-anchor="middle" font-weight="bold">1.00</text>
<rect x="405.55" y="587.21" width="15.93" height="14.31" fill="#ff2727" stroke="#9a9a9a" stroke-width="0.6" />
<text x="413.51" y="595.46" font-size="3.2" fill="#000" text-anchor="middle" font-weight="bold">0.86</text>
<rect x="421.48" y="587.21" width="15.93" height="14.31" fill="#ff2121" stroke="#9a9a9a" stroke-width="0.6" />
<text x="429.44" y="595.46" font-size="3.2" fill="#000" text-anchor="middle" font-weight="bold">0.88</text>
<rect x="437.4" y="587.21" width="15.93" height="14.31" fill="#ffdede" stroke="#9a9a9a" stroke-width="0.6" />
<text x="445.36" y="595.46" font-size="3.2" fill="#000" text-anchor="middle" font-weight="bold">0.20</text>
<rect x="453.32" y="587.21" width="15.93" height="14.31" fill="#4040ff" stroke="#9a9a9a" stroke-width="0.6" />
<text x="461.29" y="595.46" font-size="3.2" fill="#000" text-anchor="middle" font-weight="bold">-0.61</text>
<rect x="469.25" y="587.21" width="15.93" height="14.31" fill="#4848ff" stroke="#9a9a9a" stroke-width="0.6" />
<text x="477.21" y="595.46" font-size="3.2" fill="#000" text-anchor="middle" font-weight="bold">-0.58</text>
<rect x="485.18" y="587.21" width="15.93" height="14.31" fill="#1c1cff" stroke="#9a9a9a" stroke-width="0.6" />
<text x="493.14" y="595.46" font-size="3.2" fill="#000" text-anchor="middle" font-weight="bold">-0.74</text>
<rect x="501.1" y="587.21" width="15.93" height="14.31" fill="#2121ff" stroke="#9a9a9a" stroke-width="0.6" />
<text x="509.06" y="595.46" font-size="3.2" fill="#000" text-anchor="middle" font-weight="bold">-0.72</text>
<rect x="517.02" y="587.21" width="15.93" height="14.31" fill="#5959ff" stroke="#9a9a9a" stroke-width="0.6" />
<text x="524.99" y="595.46" font-size="3.2" fill="#000" text-anchor="middle" font-weight="bold">-0.52</text>
<rect x="532.95" y="587.21" width="15.93" height="14.31" fill="#6161ff" stroke="#9a9a9a" stroke-width="0.6" />
<text x="540.91" y="595.46" font-size="3.2" fill="#000" text-anchor="middle" font-weight="bold">-0.49</text>
<rect x="548.88" y="587.21" width="15.93" height="14.31" fill="#4b4bff" stroke="#9a9a9a" stroke-width="0.6" />
<text x="556.84" y="595.46" font-size="3.2" fill="#000" text-anchor="middle" font-weight="bold">-0.57</text>
<rect x="564.8" y="587.21" width="15.93" height="14.31" fill="#4848ff" stroke="#9a9a9a" stroke-width="0.6" />
<text x="572.76" y="595.46" font-size="3.2" fill="#000" text-anchor="middle" font-weight="bold">-0.58</text>
<rect x="580.73" y="587.21" width="15.93" height="14.31" fill="#a1a1ff" stroke="#9a9a9a" stroke-width="0.6" />
<text x="588.69" y="595.46" font-size="3.2" fill="#000" text-anchor="middle" font-weight="bold">-0.26</text>
<rect x="596.65" y="587.21" width="15.93" height="14.31" fill="#8282ff" stroke="#9a9a9a" stroke-width="0.6" />
<text x="604.61" y="595.46" font-size="3.2" fill="#000" text-anchor="middle" font-weight="bold">-0.37</text>
<rect x="612.58" y="587.21" width="15.93" height="14.31" fill="#7474ff" stroke="#9a9a9a" stroke-width="0.6" />
<text x="620.54" y="595.46" font-size="3.2" fill="#000" text-anchor="middle" font-weight="bold">-0.42</text>
<rect x="373.7" y="601.51" width="15.93" height="14.31" fill="#ff9b9b" stroke="#9a9a9a" stroke-width="0.6" />
<text x="381.66" y="609.77" font-size="3.2" fill="#000" text-anchor="middle" font-weight="bold">0.44</text>
<rect x="389.62" y="601.51" width="15.93" height="14.31" fill="#ff2727" stroke="#9a9a9a" stroke-width="0.6" />
<text x="397.59" y="609.77" font-size="3.2" fill="#000" text-anchor="middle" font-weight="bold">0.86</text>
<rect x="405.55" y="601.51" width="15.93" height="14.31" fill="#ff0000" stroke="#9a9a9a" stroke-width="0.6" />
<text x="413.51" y="609.77" font-size="3.2" fill="#000" text-anchor="middle" font-weight="bold">1.00</text>
<rect x="421.48" y="601.51" width="15.93" height="14.31" fill="#ff2727" stroke="#9a9a9a" stroke-width="0.6" />
<text x="429.44" y="609.77" font-size="3.2" fill="#000" text-anchor="middle" font-weight="bold">0.86</text>
<rect x="437.4" y="601.51" width="15.93" height="14.31" fill="#e3e3ff" stroke="#9a9a9a" stroke-width="0.6" />
<text x="445.36" y="609.77" font-size="3.2" fill="#000" text-anchor="middle" font-weight="bold">-0.02</text>
<rect x="453.32" y="601.51" width="15.93" height="14.31" fill="#6969ff" stroke="#9a9a9a" stroke-width="0.6" />
<text x="461.29" y="609.77" font-size="3.2" fill="#000" text-anchor="middle" font-weight="bold">-0.46</text>
<rect x="469.25" y="601.51" width="15.93" height="14.31" fill="#6767ff" stroke="#9a9a9a" stroke-width="0.6" />
<text x="477.21" y="609.77" font-size="3.2" fill="#000" text-anchor="middle" font-weight="bold">-0.47</text>
<rect x="485.18" y="601.51" width="15.93" height="14.31" fill="#2727ff" stroke="#9a9a9a" stroke-width="0.6" />
<text x="493.14" y="609.77" font-size="3.2" fill="#000" text-anchor="middle" font-weight="bold">-0.70</text>
<rect x="501.1" y="601.51" width="15.93" height="14.31" fill="#2727ff" stroke="#9a9a9a" stroke-width="0.6" />
<text x="509.06" y="609.77" font-size="3.2" fill="#000" text-anchor="middle" font-weight="bold">-0.70</text>
<rect x="517.02" y="601.51" width="15.93" height="14.31" fill="#4343ff" stroke="#9a9a9a" stroke-width="0.6" />
<text x="524.99" y="609.77" font-size="3.2" fill="#000" text-anchor="middle" font-weight="bold">-0.60</text>
<rect x="532.95" y="601.51" width="15.93" height="14.31" fill="#4040ff" stroke="#9a9a9a" stroke-width="0.6" />
<text x="540.91" y="609.77" font-size="3.2" fill="#000" text-anchor="middle" font-weight="bold">-0.61</text>
<rect x="548.88" y="601.51" width="15.93" height="14.31" fill="#2121ff" stroke="#9a9a9a" stroke-width="0.6" />
<text x="556.84" y="609.77" font-size="3.2" fill="#000" text-anchor="middle" font-weight="bold">-0.72</text>
<rect x="564.8" y="601.51" width="15.93" height="14.31" fill="#1e1eff" stroke="#9a9a9a" stroke-width="0.6" />
<text x="572.76" y="609.77" font-size="3.2" fill="#000" text-anchor="middle" font-weight="bold">-0.73</text>
<rect x="580.73" y="601.51" width="15.93" height="14.31" fill="#a4a4ff" stroke="#9a9a9a" stroke-width="0.6" />
<text x="588.69" y="609.77" font-size="3.2" fill="#000" text-anchor="middle" font-weight="bold">-0.25</text>
<rect x="596.65" y="601.51" width="15.93" height="14.31" fill="#5959ff" stroke="#9a9a9a" stroke-width="0.6" />
<text x="604.61" y="609.77" font-size="3.2" fill="#000" text-anchor="middle" font-weight="bold">-0.52</text>
<rect x="612.58" y="601.51" width="15.93" height="14.31" fill="#5959ff" stroke="#9a9a9a" stroke-width="0.6" />
<text x="620.54" y="609.77" font-size="3.2" fill="#000" text-anchor="middle" font-weight="bold">-0.52</text>
<rect x="373.7" y="615.82" width="15.93" height="14.31" fill="#ffb4b4" stroke="#9a9a9a" stroke-width="0.6" />
<text x="381.66" y="624.07" font-size="3.2" fill="#000" text-anchor="middle" font-weight="bold">0.35</text>
<rect x="389.62" y="615.82" width="15.93" height="14.31" fill="#ff2121" stroke="#9a9a9a" stroke-width="0.6" />
<text x="397.59" y="624.07" font-size="3.2" fill="#000" text-anchor="middle" font-weight="bold">0.88</text>
<rect x="405.55" y="615.82" width="15.93" height="14.31" fill="#ff2727" stroke="#9a9a9a" stroke-width="0.6" />
<text x="413.51" y="624.07" font-size="3.2" fill="#000" text-anchor="middle" font-weight="bold">0.86</text>
<rect x="421.48" y="615.82" width="15.93" height="14.31" fill="#ff0000" stroke="#9a9a9a" stroke-width="0.6" />
<text x="429.44" y="624.07" font-size="3.2" fill="#000" text-anchor="middle" font-weight="bold">1.00</text>
<rect x="437.4" y="615.82" width="15.93" height="14.31" fill="#ffdede" stroke="#9a9a9a" stroke-width="0.6" />
<text x="445.36" y="624.07" font-size="3.2" fill="#000" text-anchor="middle" font-weight="bold">0.20</text>
<rect x="453.32" y="615.82" width="15.93" height="14.31" fill="#5050ff" stroke="#9a9a9a" stroke-width="0.6" />
<text x="461.29" y="624.07" font-size="3.2" fill="#000" text-anchor="middle" font-weight="bold">-0.55</text>
<rect x="469.25" y="615.82" width="15.93" height="14.31" fill="#3737ff" stroke="#9a9a9a" stroke-width="0.6" />
<text x="477.21" y="624.07" font-size="3.2" fill="#000" text-anchor="middle" font-weight="bold">-0.64</text>
<rect x="485.18" y="615.82" width="15.93" height="14.31" fill="#1111ff" stroke="#9a9a9a" stroke-width="0.6" />
<text x="493.14" y="624.07" font-size="3.2" fill="#000" text-anchor="middle" font-weight="bold">-0.78</text>
<rect x="501.1" y="615.82" width="15.93" height="14.31" fill="#0000ff" stroke="#9a9a9a" stroke-width="0.6" />
<text x="509.06" y="624.07" font-size="3.2" fill="#000" text-anchor="middle" font-weight="bold">-0.84</text>
<rect x="517.02" y="615.82" width="15.93" height="14.31" fill="#4545ff" stroke="#9a9a9a" stroke-width="0.6" />
<text x="524.99" y="624.07" font-size="3.2" fill="#000" text-anchor="middle" font-weight="bold">-0.59</text>
<rect x="532.95" y="615.82" width="15.93" height="14.31" fill="#3a3aff" stroke="#9a9a9a" stroke-width="0.6" />
<text x="540.91" y="624.07" font-size="3.2" fill="#000" text-anchor="middle" font-weight="bold">-0.63</text>
<rect x="548.88" y="615.82" width="15.93" height="14.31" fill="#1c1cff" stroke="#9a9a9a" stroke-width="0.6" />
<text x="556.84" y="624.07" font-size="3.2" fill="#000" text-anchor="middle" font-weight="bold">-0.74</text>
<rect x="564.8" y="615.82" width="15.93" height="14.31" fill="#1e1eff" stroke="#9a9a9a" stroke-width="0.6" />
<text x="572.76" y="624.07" font-size="3.2" fill="#000" text-anchor="middle" font-weight="bold">-0.73</text>
<rect x="580.73" y="615.82" width="15.93" height="14.31" fill="#7474ff" stroke="#9a9a9a" stroke-width="0.6" />
<text x="588.69" y="624.07" font-size="3.2" fill="#000" text-anchor="middle" font-weight="bold">-0.42</text>
<rect x="596.65" y="615.82" width="15.93" height="14.31" fill="#6767ff" stroke="#9a9a9a" stroke-width="0.6" />
<text x="604.61" y="624.07" font-size="3.2" fill="#000" text-anchor="middle" font-weight="bold">-0.47</text>
<rect x="612.58" y="615.82" width="15.93" height="14.31" fill="#6161ff" stroke="#9a9a9a" stroke-width="0.6" />
<text x="620.54" y="624.07" font-size="3.2" fill="#000" text-anchor="middle" font-weight="bold">-0.49</text>
<rect x="373.7" y="630.12" width="15.93" height="14.31" fill="#9090ff" stroke="#9a9a9a" stroke-width="0.6" />
<text x="381.66" y="638.38" font-size="3.2" fill="#000" text-anchor="middle" font-weight="bold">-0.32</text>
<rect x="389.62" y="630.12" width="15.93" height="14.31" fill="#ffdede" stroke="#9a9a9a" stroke-width="0.6" />
<text x="397.59" y="638.38" font-size="3.2" fill="#000" text-anchor="middle" font-weight="bold">0.20</text>
<rect x="405.55" y="630.12" width="15.93" height="14.31" fill="#e3e3ff" stroke="#9a9a9a" stroke-width="0.6" />
<text x="413.51" y="638.38" font-size="3.2" fill="#000" text-anchor="middle" font-weight="bold">-0.02</text>
<rect x="421.48" y="630.12" width="15.93" height="14.31" fill="#ffdede" stroke="#9a9a9a" stroke-width="0.6" />
<text x="429.44" y="638.38" font-size="3.2" fill="#000" text-anchor="middle" font-weight="bold">0.20</text>
<rect x="437.4" y="630.12" width="15.93" height="14.31" fill="#ff0000" stroke="#9a9a9a" stroke-width="0.6" />
<text x="445.36" y="638.38" font-size="3.2" fill="#000" text-anchor="middle" font-weight="bold">1.00</text>
<rect x="453.32" y="630.12" width="15.93" height="14.31" fill="#5353ff" stroke="#9a9a9a" stroke-width="0.6" />
<text x="461.29" y="638.38" font-size="3.2" fill="#000" text-anchor="middle" font-weight="bold">-0.54</text>
<rect x="469.25" y="630.12" width="15.93" height="14.31" fill="#6969ff" stroke="#9a9a9a" stroke-width="0.6" />
<text x="477.21" y="638.38" font-size="3.2" fill="#000" text-anchor="middle" font-weight="bold">-0.46</text>
<rect x="485.18" y="630.12" width="15.93" height="14.31" fill="#e9e9ff" stroke="#9a9a9a" stroke-width="0.6" />
<text x="493.14" y="638.38" font-size="3.2" fill="#000" text-anchor="middle" font-weight="bold">0.00</text>
<rect x="501.1" y="630.12" width="15.93" height="14.31" fill="#c8c8ff" stroke="#9a9a9a" stroke-width="0.6" />
<text x="509.06" y="638.38" font-size="3.2" fill="#000" text-anchor="middle" font-weight="bold">-0.12</text>
<rect x="517.02" y="630.12" width="15.93" height="14.31" fill="#ffe1e1" stroke="#9a9a9a" stroke-width="0.6" />
<text x="524.99" y="638.38" font-size="3.2" fill="#000" text-anchor="middle" font-weight="bold">0.19</text>
<rect x="532.95" y="630.12" width="15.93" height="14.31" fill="#ffe6e6" stroke="#9a9a9a" stroke-width="0.6" />
<text x="540.91" y="638.38" font-size="3.2" fill="#000" text-anchor="middle" font-weight="bold">0.17</text>
<rect x="548.88" y="630.12" width="15.93" height="14.31" fill="#ffd5d5" stroke="#9a9a9a" stroke-width="0.6" />
<text x="556.84" y="638.38" font-size="3.2" fill="#000" text-anchor="middle" font-weight="bold">0.23</text>
<rect x="564.8" y="630.12" width="15.93" height="14.31" fill="#ffafaf" stroke="#9a9a9a" stroke-width="0.6" />
<text x="572.76" y="638.38" font-size="3.2" fill="#000" text-anchor="middle" font-weight="bold">0.37</text>
<rect x="580.73" y="630.12" width="15.93" height="14.31" fill="#ffe3e3" stroke="#9a9a9a" stroke-width="0.6" />
<text x="588.69" y="638.38" font-size="3.2" fill="#000" text-anchor="middle" font-weight="bold">0.18</text>
<rect x="596.65" y="630.12" width="15.93" height="14.31" fill="#ff6969" stroke="#9a9a9a" stroke-width="0.6" />
<text x="604.61" y="638.38" font-size="3.2" fill="#000" text-anchor="middle" font-weight="bold">0.62</text>
<rect x="612.58" y="630.12" width="15.93" height="14.31" fill="#ff7474" stroke="#9a9a9a" stroke-width="0.6" />
<text x="620.54" y="638.38" font-size="3.2" fill="#000" text-anchor="middle" font-weight="bold">0.58</text>
<rect x="373.7" y="644.43" width="15.93" height="14.31" fill="#fff9f9" stroke="#9a9a9a" stroke-width="0.6" />
<text x="381.66" y="652.68" font-size="3.2" fill="#000" text-anchor="middle" font-weight="bold">0.10</text>
<rect x="389.62" y="644.43" width="15.93" height="14.31" fill="#4040ff" stroke="#9a9a9a" stroke-width="0.6" />
<text x="397.59" y="652.68" font-size="3.2" fill="#000" text-anchor="middle" font-weight="bold">-0.61</text>
<rect x="405.55" y="644.43" width="15.93" height="14.31" fill="#6969ff" stroke="#9a9a9a" stroke-width="0.6" />
<text x="413.51" y="652.68" font-size="3.2" fill="#000" text-anchor="middle" font-weight="bold">-0.46</text>
<rect x="421.48" y="644.43" width="15.93" height="14.31" fill="#5050ff" stroke="#9a9a9a" stroke-width="0.6" />
<text x="429.44" y="652.68" font-size="3.2" fill="#000" text-anchor="middle" font-weight="bold">-0.55</text>
<rect x="437.4" y="644.43" width="15.93" height="14.31" fill="#5353ff" stroke="#9a9a9a" stroke-width="0.6" />
<text x="445.36" y="652.68" font-size="3.2" fill="#000" text-anchor="middle" font-weight="bold">-0.54</text>
<rect x="453.32" y="644.43" width="15.93" height="14.31" fill="#ff0000" stroke="#9a9a9a" stroke-width="0.6" />
<text x="461.29" y="652.68" font-size="3.2" fill="#000" text-anchor="middle" font-weight="bold">1.00</text>
<rect x="469.25" y="644.43" width="15.93" height="14.31" fill="#ff4545" stroke="#9a9a9a" stroke-width="0.6" />
<text x="477.21" y="652.68" font-size="3.2" fill="#000" text-anchor="middle" font-weight="bold">0.75</text>
<rect x="485.18" y="644.43" width="15.93" height="14.31" fill="#ff6969" stroke="#9a9a9a" stroke-width="0.6" />
<text x="493.14" y="652.68" font-size="3.2" fill="#000" text-anchor="middle" font-weight="bold">0.62</text>
<rect x="501.1" y="644.43" width="15.93" height="14.31" fill="#ff5b5b" stroke="#9a9a9a" stroke-width="0.6" />
<text x="509.06" y="652.68" font-size="3.2" fill="#000" text-anchor="middle" font-weight="bold">0.67</text>
<rect x="517.02" y="644.43" width="15.93" height="14.31" fill="#ffa4a4" stroke="#9a9a9a" stroke-width="0.6" />
<text x="524.99" y="652.68" font-size="3.2" fill="#000" text-anchor="middle" font-weight="bold">0.41</text>
<rect x="532.95" y="644.43" width="15.93" height="14.31" fill="#ff7f7f" stroke="#9a9a9a" stroke-width="0.6" />
<text x="540.91" y="652.68" font-size="3.2" fill="#000" text-anchor="middle" font-weight="bold">0.54</text>
<rect x="548.88" y="644.43" width="15.93" height="14.31" fill="#ffa4a4" stroke="#9a9a9a" stroke-width="0.6" />
<text x="556.84" y="652.68" font-size="3.2" fill="#000" text-anchor="middle" font-weight="bold">0.41</text>
<rect x="564.8" y="644.43" width="15.93" height="14.31" fill="#ffb4b4" stroke="#9a9a9a" stroke-width="0.6" />
<text x="572.76" y="652.68" font-size="3.2" fill="#000" text-anchor="middle" font-weight="bold">0.35</text>
<rect x="580.73" y="644.43" width="15.93" height="14.31" fill="#ff9e9e" stroke="#9a9a9a" stroke-width="0.6" />
<text x="588.69" y="652.68" font-size="3.2" fill="#000" text-anchor="middle" font-weight="bold">0.43</text>
<rect x="596.65" y="644.43" width="15.93" height="14.31" fill="#f1f1ff" stroke="#9a9a9a" stroke-width="0.6" />
<text x="604.61" y="652.68" font-size="3.2" fill="#000" text-anchor="middle" font-weight="bold">0.03</text>
<rect x="612.58" y="644.43" width="15.93" height="14.31" fill="#ececff" stroke="#9a9a9a" stroke-width="0.6" />
<text x="620.54" y="652.68" font-size="3.2" fill="#000" text-anchor="middle" font-weight="bold">0.01</text>
<rect x="373.7" y="658.74" width="15.93" height="14.31" fill="#b4b4ff" stroke="#9a9a9a" stroke-width="0.6" />
<text x="381.66" y="666.99" font-size="3.2" fill="#000" text-anchor="middle" font-weight="bold">-0.19</text>
<rect x="389.62" y="658.74" width="15.93" height="14.31" fill="#4848ff" stroke="#9a9a9a" stroke-width="0.6" />
<text x="397.59" y="666.99" font-size="3.2" fill="#000" text-anchor="middle" font-weight="bold">-0.58</text>
<rect x="405.55" y="658.74" width="15.93" height="14.31" fill="#6767ff" stroke="#9a9a9a" stroke-width="0.6" />
<text x="413.51" y="666.99" font-size="3.2" fill="#000" text-anchor="middle" font-weight="bold">-0.47</text>
<rect x="421.48" y="658.74" width="15.93" height="14.31" fill="#3737ff" stroke="#9a9a9a" stroke-width="0.6" />
<text x="429.44" y="666.99" font-size="3.2" fill="#000" text-anchor="middle" font-weight="bold">-0.64</text>
<rect x="437.4" y="658.74" width="15.93" height="14.31" fill="#6969ff" stroke="#9a9a9a" stroke-width="0.6" />
<text x="445.36" y="666.99" font-size="3.2" fill="#000" text-anchor="middle" font-weight="bold">-0.46</text>
<rect x="453.32" y="658.74" width="15.93" height="14.31" fill="#ff4545" stroke="#9a9a9a" stroke-width="0.6" />
<text x="461.29" y="666.99" font-size="3.2" fill="#000" text-anchor="middle" font-weight="bold">0.75</text>
<rect x="469.25" y="658.74" width="15.93" height="14.31" fill="#ff0000" stroke="#9a9a9a" stroke-width="0.6" />
<text x="477.21" y="666.99" font-size="3.2" fill="#000" text-anchor="middle" font-weight="bold">1.00</text>
<rect x="485.18" y="658.74" width="15.93" height="14.31" fill="#ff5353" stroke="#9a9a9a" stroke-width="0.6" />
<text x="493.14" y="666.99" font-size="3.2" fill="#000" text-anchor="middle" font-weight="bold">0.70</text>
<rect x="501.1" y="658.74" width="15.93" height="14.31" fill="#ff6161" stroke="#9a9a9a" stroke-width="0.6" />
<text x="509.06" y="666.99" font-size="3.2" fill="#000" text-anchor="middle" font-weight="bold">0.65</text>
<rect x="517.02" y="658.74" width="15.93" height="14.31" fill="#ff6c6c" stroke="#9a9a9a" stroke-width="0.6" />
<text x="524.99" y="666.99" font-size="3.2" fill="#000" text-anchor="middle" font-weight="bold">0.61</text>
<rect x="532.95" y="658.74" width="15.93" height="14.31" fill="#ff9898" stroke="#9a9a9a" stroke-width="0.6" />
<text x="540.91" y="666.99" font-size="3.2" fill="#000" text-anchor="middle" font-weight="bold">0.45</text>
<rect x="548.88" y="658.74" width="15.93" height="14.31" fill="#ff9696" stroke="#9a9a9a" stroke-width="0.6" />
<text x="556.84" y="666.99" font-size="3.2" fill="#000" text-anchor="middle" font-weight="bold">0.46</text>
<rect x="564.8" y="658.74" width="15.93" height="14.31" fill="#ffb1b1" stroke="#9a9a9a" stroke-width="0.6" />
<text x="572.76" y="666.99" font-size="3.2" fill="#000" text-anchor="middle" font-weight="bold">0.36</text>
<rect x="580.73" y="658.74" width="15.93" height="14.31" fill="#ff8b8b" stroke="#9a9a9a" stroke-width="0.6" />
<text x="588.69" y="666.99" font-size="3.2" fill="#000" text-anchor="middle" font-weight="bold">0.50</text>
<rect x="596.65" y="658.74" width="15.93" height="14.31" fill="#ffe9e9" stroke="#9a9a9a" stroke-width="0.6" />
<text x="604.61" y="666.99" font-size="3.2" fill="#000" text-anchor="middle" font-weight="bold">0.16</text>
<rect x="612.58" y="658.74" width="15.93" height="14.31" fill="#ffd0d0" stroke="#9a9a9a" stroke-width="0.6" />
<text x="620.54" y="666.99" font-size="3.2" fill="#000" text-anchor="middle" font-weight="bold">0.25</text>
<rect x="373.7" y="673.04" width="15.93" height="14.31" fill="#7f7fff" stroke="#9a9a9a" stroke-width="0.6" />
<text x="381.66" y="681.3" font-size="3.2" fill="#000" text-anchor="middle" font-weight="bold">-0.38</text>
<rect x="389.62" y="673.04" width="15.93" height="14.31" fill="#1c1cff" stroke="#9a9a9a" stroke-width="0.6" />
<text x="397.59" y="681.3" font-size="3.2" fill="#000" text-anchor="middle" font-weight="bold">-0.74</text>
<rect x="405.55" y="673.04" width="15.93" height="14.31" fill="#2727ff" stroke="#9a9a9a" stroke-width="0.6" />
<text x="413.51" y="681.3" font-size="3.2" fill="#000" text-anchor="middle" font-weight="bold">-0.70</text>
<rect x="421.48" y="673.04" width="15.93" height="14.31" fill="#1111ff" stroke="#9a9a9a" stroke-width="0.6" />
<text x="429.44" y="681.3" font-size="3.2" fill="#000" text-anchor="middle" font-weight="bold">-0.78</text>
<rect x="437.4" y="673.04" width="15.93" height="14.31" fill="#e9e9ff" stroke="#9a9a9a" stroke-width="0.6" />
<text x="445.36" y="681.3" font-size="3.2" fill="#000" text-anchor="middle" font-weight="bold">0.00</text>
<rect x="453.32" y="673.04" width="15.93" height="14.31" fill="#ff6969" stroke="#9a9a9a" stroke-width="0.6" />
<text x="461.29" y="681.3" font-size="3.2" fill="#000" text-anchor="middle" font-weight="bold">0.62</text>
<rect x="469.25" y="673.04" width="15.93" height="14.31" fill="#ff5353" stroke="#9a9a9a" stroke-width="0.6" />
<text x="477.21" y="681.3" font-size="3.2" fill="#000" text-anchor="middle" font-weight="bold">0.70</text>
<rect x="485.18" y="673.04" width="15.93" height="14.31" fill="#ff0000" stroke="#9a9a9a" stroke-width="0.6" />
<text x="493.14" y="681.3" font-size="3.2" fill="#000" text-anchor="middle" font-weight="bold">1.00</text>
<rect x="501.1" y="673.04" width="15.93" height="14.31" fill="#ff2424" stroke="#9a9a9a" stroke-width="0.6" />
<text x="509.06" y="681.3" font-size="3.2" fill="#000" text-anchor="middle" font-weight="bold">0.87</text>
<rect x="517.02" y="673.04" width="15.93" height="14.31" fill="#ff4040" stroke="#9a9a9a" stroke-width="0.6" />
<text x="524.99" y="681.3" font-size="3.2" fill="#000" text-anchor="middle" font-weight="bold">0.77</text>
<rect x="532.95" y="673.04" width="15.93" height="14.31" fill="#ff4343" stroke="#9a9a9a" stroke-width="0.6" />
<text x="540.91" y="681.3" font-size="3.2" fill="#000" text-anchor="middle" font-weight="bold">0.76</text>
<rect x="548.88" y="673.04" width="15.93" height="14.31" fill="#ff3737" stroke="#9a9a9a" stroke-width="0.6" />
<text x="556.84" y="681.3" font-size="3.2" fill="#000" text-anchor="middle" font-weight="bold">0.80</text>
<rect x="564.8" y="673.04" width="15.93" height="14.31" fill="#ff3737" stroke="#9a9a9a" stroke-width="0.6" />
<text x="572.76" y="681.3" font-size="3.2" fill="#000" text-anchor="middle" font-weight="bold">0.80</text>
<rect x="580.73" y="673.04" width="15.93" height="14.31" fill="#ff5e5e" stroke="#9a9a9a" stroke-width="0.6" />
<text x="588.69" y="681.3" font-size="3.2" fill="#000" text-anchor="middle" font-weight="bold">0.66</text>
<rect x="596.65" y="673.04" width="15.93" height="14.31" fill="#ff6161" stroke="#9a9a9a" stroke-width="0.6" />
<text x="604.61" y="681.3" font-size="3.2" fill="#000" text-anchor="middle" font-weight="bold">0.65</text>
<rect x="612.58" y="673.04" width="15.93" height="14.31" fill="#ff6464" stroke="#9a9a9a" stroke-width="0.6" />
<text x="620.54" y="681.3" font-size="3.2" fill="#000" text-anchor="middle" font-weight="bold">0.64</text>
<rect x="373.7" y="687.35" width="15.93" height="14.31" fill="#b4b4ff" stroke="#9a9a9a" stroke-width="0.6" />
<text x="381.66" y="695.6" font-size="3.2" fill="#000" text-anchor="middle" font-weight="bold">-0.19</text>
<rect x="389.62" y="687.35" width="15.93" height="14.31" fill="#2121ff" stroke="#9a9a9a" stroke-width="0.6" />
<text x="397.59" y="695.6" font-size="3.2" fill="#000" text-anchor="middle" font-weight="bold">-0.72</text>
<rect x="405.55" y="687.35" width="15.93" height="14.31" fill="#2727ff" stroke="#9a9a9a" stroke-width="0.6" />
<text x="413.51" y="695.6" font-size="3.2" fill="#000" text-anchor="middle" font-weight="bold">-0.70</text>
<rect x="421.48" y="687.35" width="15.93" height="14.31" fill="#0000ff" stroke="#9a9a9a" stroke-width="0.6" />
<text x="429.44" y="695.6" font-size="3.2" fill="#000" text-anchor="middle" font-weight="bold">-0.84</text>
<rect x="437.4" y="687.35" width="15.93" height="14.31" fill="#c8c8ff" stroke="#9a9a9a" stroke-width="0.6" />
<text x="445.36" y="695.6" font-size="3.2" fill="#000" text-anchor="middle" font-weight="bold">-0.12</text>
<rect x="453.32" y="687.35" width="15.93" height="14.31" fill="#ff5b5b" stroke="#9a9a9a" stroke-width="0.6" />
<text x="461.29" y="695.6" font-size="3.2" fill="#000" text-anchor="middle" font-weight="bold">0.67</text>
<rect x="469.25" y="687.35" width="15.93" height="14.31" fill="#ff6161" stroke="#9a9a9a" stroke-width="0.6" />
<text x="477.21" y="695.6" font-size="3.2" fill="#000" text-anchor="middle" font-weight="bold">0.65</text>
<rect x="485.18" y="687.35" width="15.93" height="14.31" fill="#ff2424" stroke="#9a9a9a" stroke-width="0.6" />
<text x="493.14" y="695.6" font-size="3.2" fill="#000" text-anchor="middle" font-weight="bold">0.87</text>
<rect x="501.1" y="687.35" width="15.93" height="14.31" fill="#ff0000" stroke="#9a9a9a" stroke-width="0.6" />
<text x="509.06" y="695.6" font-size="3.2" fill="#000" text-anchor="middle" font-weight="bold">1.00</text>
<rect x="517.02" y="687.35" width="15.93" height="14.31" fill="#ff4b4b" stroke="#9a9a9a" stroke-width="0.6" />
<text x="524.99" y="695.6" font-size="3.2" fill="#000" text-anchor="middle" font-weight="bold">0.73</text>
<rect x="532.95" y="687.35" width="15.93" height="14.31" fill="#ff3232" stroke="#9a9a9a" stroke-width="0.6" />
<text x="540.91" y="695.6" font-size="3.2" fill="#000" text-anchor="middle" font-weight="bold">0.82</text>
<rect x="548.88" y="687.35" width="15.93" height="14.31" fill="#ff2424" stroke="#9a9a9a" stroke-width="0.6" />
<text x="556.84" y="695.6" font-size="3.2" fill="#000" text-anchor="middle" font-weight="bold">0.87</text>
<rect x="564.8" y="687.35" width="15.93" height="14.31" fill="#ff2f2f" stroke="#9a9a9a" stroke-width="0.6" />
<text x="572.76" y="695.6" font-size="3.2" fill="#000" text-anchor="middle" font-weight="bold">0.83</text>
<rect x="580.73" y="687.35" width="15.93" height="14.31" fill="#ff8585" stroke="#9a9a9a" stroke-width="0.6" />
<text x="588.69" y="695.6" font-size="3.2" fill="#000" text-anchor="middle" font-weight="bold">0.52</text>
<rect x="596.65" y="687.35" width="15.93" height="14.31" fill="#ff5e5e" stroke="#9a9a9a" stroke-width="0.6" />
<text x="604.61" y="695.6" font-size="3.2" fill="#000" text-anchor="middle" font-weight="bold">0.66</text>
<rect x="612.58" y="687.35" width="15.93" height="14.31" fill="#ff8585" stroke="#9a9a9a" stroke-width="0.6" />
<text x="620.54" y="695.6" font-size="3.2" fill="#000" text-anchor="middle" font-weight="bold">0.52</text>
<rect x="373.7" y="701.66" width="15.93" height="14.31" fill="#4040ff" stroke="#9a9a9a" stroke-width="0.6" />
<text x="381.66" y="709.91" font-size="3.2" fill="#000" text-anchor="middle" font-weight="bold">-0.61</text>
<rect x="389.62" y="701.66" width="15.93" height="14.31" fill="#5959ff" stroke="#9a9a9a" stroke-width="0.6" />
<text x="397.59" y="709.91" font-size="3.2" fill="#000" text-anchor="middle" font-weight="bold">-0.52</text>
<rect x="405.55" y="701.66" width="15.93" height="14.31" fill="#4343ff" stroke="#9a9a9a" stroke-width="0.6" />
<text x="413.51" y="709.91" font-size="3.2" fill="#000" text-anchor="middle" font-weight="bold">-0.60</text>
<rect x="421.48" y="701.66" width="15.93" height="14.31" fill="#4545ff" stroke="#9a9a9a" stroke-width="0.6" />
<text x="429.44" y="709.91" font-size="3.2" fill="#000" text-anchor="middle" font-weight="bold">-0.59</text>
<rect x="437.4" y="701.66" width="15.93" height="14.31" fill="#ffe1e1" stroke="#9a9a9a" stroke-width="0.6" />
<text x="445.36" y="709.91" font-size="3.2" fill="#000" text-anchor="middle" font-weight="bold">0.19</text>
<rect x="453.32" y="701.66" width="15.93" height="14.31" fill="#ffa4a4" stroke="#9a9a9a" stroke-width="0.6" />
<text x="461.29" y="709.91" font-size="3.2" fill="#000" text-anchor="middle" font-weight="bold">0.41</text>
<rect x="469.25" y="701.66" width="15.93" height="14.31" fill="#ff6c6c" stroke="#9a9a9a" stroke-width="0.6" />
<text x="477.21" y="709.91" font-size="3.2" fill="#000" text-anchor="middle" font-weight="bold">0.61</text>
<rect x="485.18" y="701.66" width="15.93" height="14.31" fill="#ff4040" stroke="#9a9a9a" stroke-width="0.6" />
<text x="493.14" y="709.91" font-size="3.2" fill="#000" text-anchor="middle" font-weight="bold">0.77</text>
<rect x="501.1" y="701.66" width="15.93" height="14.31" fill="#ff4b4b" stroke="#9a9a9a" stroke-width="0.6" />
<text x="509.06" y="709.91" font-size="3.2" fill="#000" text-anchor="middle" font-weight="bold">0.73</text>
<rect x="517.02" y="701.66" width="15.93" height="14.31" fill="#ff0000" stroke="#9a9a9a" stroke-width="0.6" />
<text x="524.99" y="709.91" font-size="3.2" fill="#000" text-anchor="middle" font-weight="bold">1.00</text>
<rect x="532.95" y="701.66" width="15.93" height="14.31" fill="#ff4848" stroke="#9a9a9a" stroke-width="0.6" />
<text x="540.91" y="709.91" font-size="3.2" fill="#000" text-anchor="middle" font-weight="bold">0.74</text>
<rect x="548.88" y="701.66" width="15.93" height="14.31" fill="#ff2121" stroke="#9a9a9a" stroke-width="0.6" />
<text x="556.84" y="709.91" font-size="3.2" fill="#000" text-anchor="middle" font-weight="bold">0.88</text>
<rect x="564.8" y="701.66" width="15.93" height="14.31" fill="#ff3737" stroke="#9a9a9a" stroke-width="0.6" />
<text x="572.76" y="709.91" font-size="3.2" fill="#000" text-anchor="middle" font-weight="bold">0.80</text>
<rect x="580.73" y="701.66" width="15.93" height="14.31" fill="#ff4b4b" stroke="#9a9a9a" stroke-width="0.6" />
<text x="588.69" y="709.91" font-size="3.2" fill="#000" text-anchor="middle" font-weight="bold">0.73</text>
<rect x="596.65" y="701.66" width="15.93" height="14.31" fill="#ff4040" stroke="#9a9a9a" stroke-width="0.6" />
<text x="604.61" y="709.91" font-size="3.2" fill="#000" text-anchor="middle" font-weight="bold">0.77</text>
<rect x="612.58" y="701.66" width="15.93" height="14.31" fill="#ff5050" stroke="#9a9a9a" stroke-width="0.6" />
<text x="620.54" y="709.91" font-size="3.2" fill="#000" text-anchor="middle" font-weight="bold">0.71</text>
<rect x="373.7" y="715.96" width="15.93" height="14.31" fill="#b4b4ff" stroke="#9a9a9a" stroke-width="0.6" />
<text x="381.66" y="724.22" font-size="3.2" fill="#000" text-anchor="middle" font-weight="bold">-0.19</text>
<rect x="389.62" y="715.96" width="15.93" height="14.31" fill="#6161ff" stroke="#9a9a9a" stroke-width="0.6" />
<text x="397.59" y="724.22" font-size="3.2" fill="#000" text-anchor="middle" font-weight="bold">-0.49</text>
<rect x="405.55" y="715.96" width="15.93" height="14.31" fill="#4040ff" stroke="#9a9a9a" stroke-width="0.6" />
<text x="413.51" y="724.22" font-size="3.2" fill="#000" text-anchor="middle" font-weight="bold">-0.61</text>
<rect x="421.48" y="715.96" width="15.93" height="14.31" fill="#3a3aff" stroke="#9a9a9a" stroke-width="0.6" />
<text x="429.44" y="724.22" font-size="3.2" fill="#000" text-anchor="middle" font-weight="bold">-0.63</text>
<rect x="437.4" y="715.96" width="15.93" height="14.31" fill="#ffe6e6" stroke="#9a9a9a" stroke-width="0.6" />
<text x="445.36" y="724.22" font-size="3.2" fill="#000" text-anchor="middle" font-weight="bold">0.17</text>
<rect x="453.32" y="715.96" width="15.93" height="14.31" fill="#ff7f7f" stroke="#9a9a9a" stroke-width="0.6" />
<text x="461.29" y="724.22" font-size="3.2" fill="#000" text-anchor="middle" font-weight="bold">0.54</text>
<rect x="469.25" y="715.96" width="15.93" height="14.31" fill="#ff9898" stroke="#9a9a9a" stroke-width="0.6" />
<text x="477.21" y="724.22" font-size="3.2" fill="#000" text-anchor="middle" font-weight="bold">0.45</text>
<rect x="485.18" y="715.96" width="15.93" height="14.31" fill="#ff4343" stroke="#9a9a9a" stroke-width="0.6" />
<text x="493.14" y="724.22" font-size="3.2" fill="#000" text-anchor="middle" font-weight="bold">0.76</text>
<rect x="501.1" y="715.96" width="15.93" height="14.31" fill="#ff3232" stroke="#9a9a9a" stroke-width="0.6" />
<text x="509.06" y="724.22" font-size="3.2" fill="#000" text-anchor="middle" font-weight="bold">0.82</text>
<rect x="517.02" y="715.96" width="15.93" height="14.31" fill="#ff4848" stroke="#9a9a9a" stroke-width="0.6" />
<text x="524.99" y="724.22" font-size="3.2" fill="#000" text-anchor="middle" font-weight="bold">0.74</text>
<rect x="532.95" y="715.96" width="15.93" height="14.31" fill="#ff0000" stroke="#9a9a9a" stroke-width="0.6" />
<text x="540.91" y="724.22" font-size="3.2" fill="#000" text-anchor="middle" font-weight="bold">1.00</text>
<rect x="548.88" y="715.96" width="15.93" height="14.31" fill="#ff2c2c" stroke="#9a9a9a" stroke-width="0.6" />
<text x="556.84" y="724.22" font-size="3.2" fill="#000" text-anchor="middle" font-weight="bold">0.84</text>
<rect x="564.8" y="715.96" width="15.93" height="14.31" fill="#ff2424" stroke="#9a9a9a" stroke-width="0.6" />
<text x="572.76" y="724.22" font-size="3.2" fill="#000" text-anchor="middle" font-weight="bold">0.87</text>
<rect x="580.73" y="715.96" width="15.93" height="14.31" fill="#ff7474" stroke="#9a9a9a" stroke-width="0.6" />
<text x="588.69" y="724.22" font-size="3.2" fill="#000" text-anchor="middle" font-weight="bold">0.58</text>
<rect x="596.65" y="715.96" width="15.93" height="14.31" fill="#ff5353" stroke="#9a9a9a" stroke-width="0.6" />
<text x="604.61" y="724.22" font-size="3.2" fill="#000" text-anchor="middle" font-weight="bold">0.70</text>
<rect x="612.58" y="715.96" width="15.93" height="14.31" fill="#ff6c6c" stroke="#9a9a9a" stroke-width="0.6" />
<text x="620.54" y="724.22" font-size="3.2" fill="#000" text-anchor="middle" font-weight="bold">0.61</text>
<rect x="373.7" y="730.27" width="15.93" height="14.31" fill="#6c6cff" stroke="#9a9a9a" stroke-width="0.6" />
<text x="381.66" y="738.52" font-size="3.2" fill="#000" text-anchor="middle" font-weight="bold">-0.45</text>
<rect x="389.62" y="730.27" width="15.93" height="14.31" fill="#4b4bff" stroke="#9a9a9a" stroke-width="0.6" />
<text x="397.59" y="738.52" font-size="3.2" fill="#000" text-anchor="middle" font-weight="bold">-0.57</text>
<rect x="405.55" y="730.27" width="15.93" height="14.31" fill="#2121ff" stroke="#9a9a9a" stroke-width="0.6" />
<text x="413.51" y="738.52" font-size="3.2" fill="#000" text-anchor="middle" font-weight="bold">-0.72</text>
<rect x="421.48" y="730.27" width="15.93" height="14.31" fill="#1c1cff" stroke="#9a9a9a" stroke-width="0.6" />
<text x="429.44" y="738.52" font-size="3.2" fill="#000" text-anchor="middle" font-weight="bold">-0.74</text>
<rect x="437.4" y="730.27" width="15.93" height="14.31" fill="#ffd5d5" stroke="#9a9a9a" stroke-width="0.6" />
<text x="445.36" y="738.52" font-size="3.2" fill="#000" text-anchor="middle" font-weight="bold">0.23</text>
<rect x="453.32" y="730.27" width="15.93" height="14.31" fill="#ffa4a4" stroke="#9a9a9a" stroke-width="0.6" />
<text x="461.29" y="738.52" font-size="3.2" fill="#000" text-anchor="middle" font-weight="bold">0.41</text>
<rect x="469.25" y="730.27" width="15.93" height="14.31" fill="#ff9696" stroke="#9a9a9a" stroke-width="0.6" />
<text x="477.21" y="738.52" font-size="3.2" fill="#000" text-anchor="middle" font-weight="bold">0.46</text>
<rect x="485.18" y="730.27" width="15.93" height="14.31" fill="#ff3737" stroke="#9a9a9a" stroke-width="0.6" />
<text x="493.14" y="738.52" font-size="3.2" fill="#000" text-anchor="middle" font-weight="bold">0.80</text>
<rect x="501.1" y="730.27" width="15.93" height="14.31" fill="#ff2424" stroke="#9a9a9a" stroke-width="0.6" />
<text x="509.06" y="738.52" font-size="3.2" fill="#000" text-anchor="middle" font-weight="bold">0.87</text>
<rect x="517.02" y="730.27" width="15.93" height="14.31" fill="#ff2121" stroke="#9a9a9a" stroke-width="0.6" />
<text x="524.99" y="738.52" font-size="3.2" fill="#000" text-anchor="middle" font-weight="bold">0.88</text>
<rect x="532.95" y="730.27" width="15.93" height="14.31" fill="#ff2c2c" stroke="#9a9a9a" stroke-width="0.6" />
<text x="540.91" y="738.52" font-size="3.2" fill="#000" text-anchor="middle" font-weight="bold">0.84</text>
<rect x="548.88" y="730.27" width="15.93" height="14.31" fill="#ff0000" stroke="#9a9a9a" stroke-width="0.6" />
<text x="556.84" y="738.52" font-size="3.2" fill="#000" text-anchor="middle" font-weight="bold">1.00</text>
<rect x="564.8" y="730.27" width="15.93" height="14.31" fill="#ff0e0e" stroke="#9a9a9a" stroke-width="0.6" />
<text x="572.76" y="738.52" font-size="3.2" fill="#000" text-anchor="middle" font-weight="bold">0.95</text>
<rect x="580.73" y="730.27" width="15.93" height="14.31" fill="#ff6767" stroke="#9a9a9a" stroke-width="0.6" />
<text x="588.69" y="738.52" font-size="3.2" fill="#000" text-anchor="middle" font-weight="bold">0.63</text>
<rect x="596.65" y="730.27" width="15.93" height="14.31" fill="#ff2c2c" stroke="#9a9a9a" stroke-width="0.6" />
<text x="604.61" y="738.52" font-size="3.2" fill="#000" text-anchor="middle" font-weight="bold">0.84</text>
<rect x="612.58" y="730.27" width="15.93" height="14.31" fill="#ff3d3d" stroke="#9a9a9a" stroke-width="0.6" />
<text x="620.54" y="738.52" font-size="3.2" fill="#000" text-anchor="middle" font-weight="bold">0.78</text>
<rect x="373.7" y="744.57" width="15.93" height="14.31" fill="#7d7dff" stroke="#9a9a9a" stroke-width="0.6" />
<text x="381.66" y="752.83" font-size="3.2" fill="#000" text-anchor="middle" font-weight="bold">-0.39</text>
<rect x="389.62" y="744.57" width="15.93" height="14.31" fill="#4848ff" stroke="#9a9a9a" stroke-width="0.6" />
<text x="397.59" y="752.83" font-size="3.2" fill="#000" text-anchor="middle" font-weight="bold">-0.58</text>
<rect x="405.55" y="744.57" width="15.93" height="14.31" fill="#1e1eff" stroke="#9a9a9a" stroke-width="0.6" />
<text x="413.51" y="752.83" font-size="3.2" fill="#000" text-anchor="middle" font-weight="bold">-0.73</text>
<rect x="421.48" y="744.57" width="15.93" height="14.31" fill="#1e1eff" stroke="#9a9a9a" stroke-width="0.6" />
<text x="429.44" y="752.83" font-size="3.2" fill="#000" text-anchor="middle" font-weight="bold">-0.73</text>
<rect x="437.4" y="744.57" width="15.93" height="14.31" fill="#ffafaf" stroke="#9a9a9a" stroke-width="0.6" />
<text x="445.36" y="752.83" font-size="3.2" fill="#000" text-anchor="middle" font-weight="bold">0.37</text>
<rect x="453.32" y="744.57" width="15.93" height="14.31" fill="#ffb4b4" stroke="#9a9a9a" stroke-width="0.6" />
<text x="461.29" y="752.83" font-size="3.2" fill="#000" text-anchor="middle" font-weight="bold">0.35</text>
<rect x="469.25" y="744.57" width="15.93" height="14.31" fill="#ffb1b1" stroke="#9a9a9a" stroke-width="0.6" />
<text x="477.21" y="752.83" font-size="3.2" fill="#000" text-anchor="middle" font-weight="bold">0.36</text>
<rect x="485.18" y="744.57" width="15.93" height="14.31" fill="#ff3737" stroke="#9a9a9a" stroke-width="0.6" />
<text x="493.14" y="752.83" font-size="3.2" fill="#000" text-anchor="middle" font-weight="bold">0.80</text>
<rect x="501.1" y="744.57" width="15.93" height="14.31" fill="#ff2f2f" stroke="#9a9a9a" stroke-width="0.6" />
<text x="509.06" y="752.83" font-size="3.2" fill="#000" text-anchor="middle" font-weight="bold">0.83</text>
<rect x="517.02" y="744.57" width="15.93" height="14.31" fill="#ff3737" stroke="#9a9a9a" stroke-width="0.6" />
<text x="524.99" y="752.83" font-size="3.2" fill="#000" text-anchor="middle" font-weight="bold">0.80</text>
<rect x="532.95" y="744.57" width="15.93" height="14.31" fill="#ff2424" stroke="#9a9a9a" stroke-width="0.6" />
<text x="540.91" y="752.83" font-size="3.2" fill="#000" text-anchor="middle" font-weight="bold">0.87</text>
<rect x="548.88" y="744.57" width="15.93" height="14.31" fill="#ff0e0e" stroke="#9a9a9a" stroke-width="0.6" />
<text x="556.84" y="752.83" font-size="3.2" fill="#000" text-anchor="middle" font-weight="bold">0.95</text>
<rect x="564.8" y="744.57" width="15.93" height="14.31" fill="#ff0000" stroke="#9a9a9a" stroke-width="0.6" />
<text x="572.76" y="752.83" font-size="3.2" fill="#000" text-anchor="middle" font-weight="bold">1.00</text>
<rect x="580.73" y="744.57" width="15.93" height="14.31" fill="#ff6c6c" stroke="#9a9a9a" stroke-width="0.6" />
<text x="588.69" y="752.83" font-size="3.2" fill="#000" text-anchor="middle" font-weight="bold">0.61</text>
<rect x="596.65" y="744.57" width="15.93" height="14.31" fill="#ff2121" stroke="#9a9a9a" stroke-width="0.6" />
<text x="604.61" y="752.83" font-size="3.2" fill="#000" text-anchor="middle" font-weight="bold">0.88</text>
<rect x="612.58" y="744.57" width="15.93" height="14.31" fill="#ff3535" stroke="#9a9a9a" stroke-width="0.6" />
<text x="620.54" y="752.83" font-size="3.2" fill="#000" text-anchor="middle" font-weight="bold">0.81</text>
<rect x="373.7" y="758.88" width="15.93" height="14.31" fill="#9898ff" stroke="#9a9a9a" stroke-width="0.6" />
<text x="381.66" y="767.13" font-size="3.2" fill="#000" text-anchor="middle" font-weight="bold">-0.29</text>
<rect x="389.62" y="758.88" width="15.93" height="14.31" fill="#a1a1ff" stroke="#9a9a9a" stroke-width="0.6" />
<text x="397.59" y="767.13" font-size="3.2" fill="#000" text-anchor="middle" font-weight="bold">-0.26</text>
<rect x="405.55" y="758.88" width="15.93" height="14.31" fill="#a4a4ff" stroke="#9a9a9a" stroke-width="0.6" />
<text x="413.51" y="767.13" font-size="3.2" fill="#000" text-anchor="middle" font-weight="bold">-0.25</text>
<rect x="421.48" y="758.88" width="15.93" height="14.31" fill="#7474ff" stroke="#9a9a9a" stroke-width="0.6" />
<text x="429.44" y="767.13" font-size="3.2" fill="#000" text-anchor="middle" font-weight="bold">-0.42</text>
<rect x="437.4" y="758.88" width="15.93" height="14.31" fill="#ffe3e3" stroke="#9a9a9a" stroke-width="0.6" />
<text x="445.36" y="767.13" font-size="3.2" fill="#000" text-anchor="middle" font-weight="bold">0.18</text>
<rect x="453.32" y="758.88" width="15.93" height="14.31" fill="#ff9e9e" stroke="#9a9a9a" stroke-width="0.6" />
<text x="461.29" y="767.13" font-size="3.2" fill="#000" text-anchor="middle" font-weight="bold">0.43</text>
<rect x="469.25" y="758.88" width="15.93" height="14.31" fill="#ff8b8b" stroke="#9a9a9a" stroke-width="0.6" />
<text x="477.21" y="767.13" font-size="3.2" fill="#000" text-anchor="middle" font-weight="bold">0.50</text>
<rect x="485.18" y="758.88" width="15.93" height="14.31" fill="#ff5e5e" stroke="#9a9a9a" stroke-width="0.6" />
<text x="493.14" y="767.13" font-size="3.2" fill="#000" text-anchor="middle" font-weight="bold">0.66</text>
<rect x="501.1" y="758.88" width="15.93" height="14.31" fill="#ff8585" stroke="#9a9a9a" stroke-width="0.6" />
<text x="509.06" y="767.13" font-size="3.2" fill="#000" text-anchor="middle" font-weight="bold">0.52</text>
<rect x="517.02" y="758.88" width="15.93" height="14.31" fill="#ff4b4b" stroke="#9a9a9a" stroke-width="0.6" />
<text x="524.99" y="767.13" font-size="3.2" fill="#000" text-anchor="middle" font-weight="bold">0.73</text>
<rect x="532.95" y="758.88" width="15.93" height="14.31" fill="#ff7474" stroke="#9a9a9a" stroke-width="0.6" />
<text x="540.91" y="767.13" font-size="3.2" fill="#000" text-anchor="middle" font-weight="bold">0.58</text>
<rect x="548.88" y="758.88" width="15.93" height="14.31" fill="#ff6767" stroke="#9a9a9a" stroke-width="0.6" />
<text x="556.84" y="767.13" font-size="3.2" fill="#000" text-anchor="middle" font-weight="bold">0.63</text>
<rect x="564.8" y="758.88" width="15.93" height="14.31" fill="#ff6c6c" stroke="#9a9a9a" stroke-width="0.6" />
<text x="572.76" y="767.13" font-size="3.2" fill="#000" text-anchor="middle" font-weight="bold">0.61</text>
<rect x="580.73" y="758.88" width="15.93" height="14.31" fill="#ff0000" stroke="#9a9a9a" stroke-width="0.6" />
<text x="588.69" y="767.13" font-size="3.2" fill="#000" text-anchor="middle" font-weight="bold">1.00</text>
<rect x="596.65" y="758.88" width="15.93" height="14.31" fill="#ff7272" stroke="#9a9a9a" stroke-width="0.6" />
<text x="604.61" y="767.13" font-size="3.2" fill="#000" text-anchor="middle" font-weight="bold">0.59</text>
<rect x="612.58" y="758.88" width="15.93" height="14.31" fill="#ff7272" stroke="#9a9a9a" stroke-width="0.6" />
<text x="620.54" y="767.13" font-size="3.2" fill="#000" text-anchor="middle" font-weight="bold">0.59</text>
<rect x="373.7" y="773.19" width="15.93" height="14.31" fill="#5b5bff" stroke="#9a9a9a" stroke-width="0.6" />
<text x="381.66" y="781.44" font-size="3.2" fill="#000" text-anchor="middle" font-weight="bold">-0.51</text>
<rect x="389.62" y="773.19" width="15.93" height="14.31" fill="#8282ff" stroke="#9a9a9a" stroke-width="0.6" />
<text x="397.59" y="781.44" font-size="3.2" fill="#000" text-anchor="middle" font-weight="bold">-0.37</text>
<rect x="405.55" y="773.19" width="15.93" height="14.31" fill="#5959ff" stroke="#9a9a9a" stroke-width="0.6" />
<text x="413.51" y="781.44" font-size="3.2" fill="#000" text-anchor="middle" font-weight="bold">-0.52</text>
<rect x="421.48" y="773.19" width="15.93" height="14.31" fill="#6767ff" stroke="#9a9a9a" stroke-width="0.6" />
<text x="429.44" y="781.44" font-size="3.2" fill="#000" text-anchor="middle" font-weight="bold">-0.47</text>
<rect x="437.4" y="773.19" width="15.93" height="14.31" fill="#ff6969" stroke="#9a9a9a" stroke-width="0.6" />
<text x="445.36" y="781.44" font-size="3.2" fill="#000" text-anchor="middle" font-weight="bold">0.62</text>
<rect x="453.32" y="773.19" width="15.93" height="14.31" fill="#f1f1ff" stroke="#9a9a9a" stroke-width="0.6" />
<text x="461.29" y="781.44" font-size="3.2" fill="#000" text-anchor="middle" font-weight="bold">0.03</text>
<rect x="469.25" y="773.19" width="15.93" height="14.31" fill="#ffe9e9" stroke="#9a9a9a" stroke-width="0.6" />
<text x="477.21" y="781.44" font-size="3.2" fill="#000" text-anchor="middle" font-weight="bold">0.16</text>
<rect x="485.18" y="773.19" width="15.93" height="14.31" fill="#ff6161" stroke="#9a9a9a" stroke-width="0.6" />
<text x="493.14" y="781.44" font-size="3.2" fill="#000" text-anchor="middle" font-weight="bold">0.65</text>
<rect x="501.1" y="773.19" width="15.93" height="14.31" fill="#ff5e5e" stroke="#9a9a9a" stroke-width="0.6" />
<text x="509.06" y="781.44" font-size="3.2" fill="#000" text-anchor="middle" font-weight="bold">0.66</text>
<rect x="517.02" y="773.19" width="15.93" height="14.31" fill="#ff4040" stroke="#9a9a9a" stroke-width="0.6" />
<text x="524.99" y="781.44" font-size="3.2" fill="#000" text-anchor="middle" font-weight="bold">0.77</text>
<rect x="532.95" y="773.19" width="15.93" height="14.31" fill="#ff5353" stroke="#9a9a9a" stroke-width="0.6" />
<text x="540.91" y="781.44" font-size="3.2" fill="#000" text-anchor="middle" font-weight="bold">0.70</text>
<rect x="548.88" y="773.19" width="15.93" height="14.31" fill="#ff2c2c" stroke="#9a9a9a" stroke-width="0.6" />
<text x="556.84" y="781.44" font-size="3.2" fill="#000" text-anchor="middle" font-weight="bold">0.84</text>
<rect x="564.8" y="773.19" width="15.93" height="14.31" fill="#ff2121" stroke="#9a9a9a" stroke-width="0.6" />
<text x="572.76" y="781.44" font-size="3.2" fill="#000" text-anchor="middle" font-weight="bold">0.88</text>
<rect x="580.73" y="773.19" width="15.93" height="14.31" fill="#ff7272" stroke="#9a9a9a" stroke-width="0.6" />
<text x="588.69" y="781.44" font-size="3.2" fill="#000" text-anchor="middle" font-weight="bold">0.59</text>
<rect x="596.65" y="773.19" width="15.93" height="14.31" fill="#ff0000" stroke="#9a9a9a" stroke-width="0.6" />
<text x="604.61" y="781.44" font-size="3.2" fill="#000" text-anchor="middle" font-weight="bold">1.00</text>
<rect x="612.58" y="773.19" width="15.93" height="14.31" fill="#ff1919" stroke="#9a9a9a" stroke-width="0.6" />
<text x="620.54" y="781.44" font-size="3.2" fill="#000" text-anchor="middle" font-weight="bold">0.91</text>
<rect x="373.7" y="787.49" width="15.93" height="14.31" fill="#2727ff" stroke="#9a9a9a" stroke-width="0.6" />
<text x="381.66" y="795.75" font-size="3.2" fill="#000" text-anchor="middle" font-weight="bold">-0.70</text>
<rect x="389.62" y="787.49" width="15.93" height="14.31" fill="#7474ff" stroke="#9a9a9a" stroke-width="0.6" />
<text x="397.59" y="795.75" font-size="3.2" fill="#000" text-anchor="middle" font-weight="bold">-0.42</text>
<rect x="405.55" y="787.49" width="15.93" height="14.31" fill="#5959ff" stroke="#9a9a9a" stroke-width="0.6" />
<text x="413.51" y="795.75" font-size="3.2" fill="#000" text-anchor="middle" font-weight="bold">-0.52</text>
<rect x="421.48" y="787.49" width="15.93" height="14.31" fill="#6161ff" stroke="#9a9a9a" stroke-width="0.6" />
<text x="429.44" y="795.75" font-size="3.2" fill="#000" text-anchor="middle" font-weight="bold">-0.49</text>
<rect x="437.4" y="787.49" width="15.93" height="14.31" fill="#ff7474" stroke="#9a9a9a" stroke-width="0.6" />
<text x="445.36" y="795.75" font-size="3.2" fill="#000" text-anchor="middle" font-weight="bold">0.58</text>
<rect x="453.32" y="787.49" width="15.93" height="14.31" fill="#ececff" stroke="#9a9a9a" stroke-width="0.6" />
<text x="461.29" y="795.75" font-size="3.2" fill="#000" text-anchor="middle" font-weight="bold">0.01</text>
<rect x="469.25" y="787.49" width="15.93" height="14.31" fill="#ffd0d0" stroke="#9a9a9a" stroke-width="0.6" />
<text x="477.21" y="795.75" font-size="3.2" fill="#000" text-anchor="middle" font-weight="bold">0.25</text>
<rect x="485.18" y="787.49" width="15.93" height="14.31" fill="#ff6464" stroke="#9a9a9a" stroke-width="0.6" />
<text x="493.14" y="795.75" font-size="3.2" fill="#000" text-anchor="middle" font-weight="bold">0.64</text>
<rect x="501.1" y="787.49" width="15.93" height="14.31" fill="#ff8585" stroke="#9a9a9a" stroke-width="0.6" />
<text x="509.06" y="795.75" font-size="3.2" fill="#000" text-anchor="middle" font-weight="bold">0.52</text>
<rect x="517.02" y="787.49" width="15.93" height="14.31" fill="#ff5050" stroke="#9a9a9a" stroke-width="0.6" />
<text x="524.99" y="795.75" font-size="3.2" fill="#000" text-anchor="middle" font-weight="bold">0.71</text>
<rect x="532.95" y="787.49" width="15.93" height="14.31" fill="#ff6c6c" stroke="#9a9a9a" stroke-width="0.6" />
<text x="540.91" y="795.75" font-size="3.2" fill="#000" text-anchor="middle" font-weight="bold">0.61</text>
<rect x="548.88" y="787.49" width="15.93" height="14.31" fill="#ff3d3d" stroke="#9a9a9a" stroke-width="0.6" />
<text x="556.84" y="795.75" font-size="3.2" fill="#000" text-anchor="middle" font-weight="bold">0.78</text>
<rect x="564.8" y="787.49" width="15.93" height="14.31" fill="#ff3535" stroke="#9a9a9a" stroke-width="0.6" />
<text x="572.76" y="795.75" font-size="3.2" fill="#000" text-anchor="middle" font-weight="bold">0.81</text>
<rect x="580.73" y="787.49" width="15.93" height="14.31" fill="#ff7272" stroke="#9a9a9a" stroke-width="0.6" />
<text x="588.69" y="795.75" font-size="3.2" fill="#000" text-anchor="middle" font-weight="bold">0.59</text>
<rect x="596.65" y="787.49" width="15.93" height="14.31" fill="#ff1919" stroke="#9a9a9a" stroke-width="0.6" />
<text x="604.61" y="795.75" font-size="3.2" fill="#000" text-anchor="middle" font-weight="bold">0.91</text>
<rect x="612.58" y="787.49" width="15.93" height="14.31" fill="#ff0000" stroke="#9a9a9a" stroke-width="0.6" />
<text x="620.54" y="795.75" font-size="3.2" fill="#000" text-anchor="middle" font-weight="bold">1.00</text>
<text x="630.8" y="582.45" font-size="6.8" fill="#111" text-anchor="start" >SELL</text>
<text font-size="6.8" fill="#111" transform="translate(379.26,804.6) rotate(90)">SELL</text>
<text x="630.8" y="596.76" font-size="6.8" fill="#111" text-anchor="start" >TCF7</text>
<text font-size="6.8" fill="#111" transform="translate(395.19,804.6) rotate(90)">TCF7</text>
<text x="630.8" y="611.07" font-size="6.8" fill="#111" text-anchor="start" >CCR7</text>
<text font-size="6.8" fill="#111" transform="translate(411.11,804.6) rotate(90)">CCR7</text>
<text x="630.8" y="625.37" font-size="6.8" fill="#111" text-anchor="start" >IL7R</text>
<text font-size="6.8" fill="#111" transform="translate(427.04,804.6) rotate(90)">IL7R</text>
<text x="630.8" y="639.68" font-size="6.8" fill="#111" text-anchor="start" >GZMK</text>
<text font-size="6.8" fill="#111" transform="translate(442.96,804.6) rotate(90)">GZMK</text>
<text x="630.8" y="653.98" font-size="6.8" fill="#111" text-anchor="start" >IL2RG</text>
<text font-size="6.8" fill="#111" transform="translate(458.89,804.6) rotate(90)">IL2RG</text>
<text x="630.8" y="668.29" font-size="6.8" fill="#111" text-anchor="start" >PDCD1</text>
<text font-size="6.8" fill="#111" transform="translate(474.81,804.6) rotate(90)">PDCD1</text>
<text x="630.8" y="682.6" font-size="6.8" fill="#111" text-anchor="start" >LAG3</text>
<text font-size="6.8" fill="#111" transform="translate(490.74,804.6) rotate(90)">LAG3</text>
<text x="630.8" y="696.9" font-size="6.8" fill="#111" text-anchor="start" >HAVCR2</text>
<text font-size="6.8" fill="#111" transform="translate(506.66,804.6) rotate(90)">HAVCR2</text>
<text x="630.8" y="711.21" font-size="6.8" fill="#111" text-anchor="start" >IFNG</text>
<text font-size="6.8" fill="#111" transform="translate(522.59,804.6) rotate(90)">IFNG</text>
<text x="630.8" y="725.52" font-size="6.8" fill="#111" text-anchor="start" >TBX21</text>
<text font-size="6.8" fill="#111" transform="translate(538.51,804.6) rotate(90)">TBX21</text>
<text x="630.8" y="739.82" font-size="6.8" fill="#111" text-anchor="start" >GZMB</text>
<text font-size="6.8" fill="#111" transform="translate(554.44,804.6) rotate(90)">GZMB</text>
<text x="630.8" y="754.13" font-size="6.8" fill="#111" text-anchor="start" >PRF1</text>
<text font-size="6.8" fill="#111" transform="translate(570.36,804.6) rotate(90)">PRF1</text>
<text x="630.8" y="768.43" font-size="6.8" fill="#111" text-anchor="start" >SLAMF6</text>
<text font-size="6.8" fill="#111" transform="translate(586.29,804.6) rotate(90)">SLAMF6</text>
<text x="630.8" y="782.74" font-size="6.8" fill="#111" text-anchor="start" >GZMA</text>
<text font-size="6.8" fill="#111" transform="translate(602.21,804.6) rotate(90)">GZMA</text>
<text x="630.8" y="797.05" font-size="6.8" fill="#111" text-anchor="start" >T.eff</text>
<text font-size="6.8" fill="#111" transform="translate(618.14,804.6) rotate(90)">T.eff</text>
<path d="M413.51,572.9 L413.51,570.6 M373.7,608.67 L371.4,608.67 M429.44,572.9 L429.44,570.6 M373.7,622.97 L371.4,622.97 M413.51,570.6 L429.44,570.6 M371.4,608.67 L371.4,622.97 M397.59,572.9 L397.59,570.4 M373.7,594.36 L371.2,594.36 M421.48,570.6 L421.48,570.4 M371.4,615.82 L371.2,615.82 M397.59,570.4 L421.48,570.4 M371.2,594.36 L371.2,615.82 M381.66,572.9 L381.66,560.9 M373.7,580.05 L361.7,580.05 M409.53,570.4 L409.53,560.9 M371.2,605.09 L361.7,605.09 M381.66,560.9 L409.53,560.9 M361.7,580.05 L361.7,605.09 M461.29,572.9 L461.29,568.8 M373.7,651.58 L369.6,651.58 M477.21,572.9 L477.21,568.8 M373.7,665.89 L369.6,665.89 M461.29,568.8 L477.21,568.8 M369.6,651.58 L369.6,665.89 M493.14,572.9 L493.14,570.3 M373.7,680.2 L371.1,680.2 M509.06,572.9 L509.06,570.3 M373.7,694.5 L371.1,694.5 M493.14,570.3 L509.06,570.3 M371.1,680.2 L371.1,694.5 M556.84,572.9 L556.84,571.5 M373.7,737.42 L372.3,737.42 M572.76,572.9 L572.76,571.5 M373.7,751.73 L372.3,751.73 M556.84,571.5 L572.76,571.5 M372.3,737.42 L372.3,751.73 M540.91,572.9 L540.91,571.1 M373.7,723.12 L371.9,723.12 M564.8,571.5 L564.8,571.1 M372.3,744.57 L371.9,744.57 M540.91,571.1 L564.8,571.1 M371.9,723.12 L371.9,744.57 M524.99,572.9 L524.99,568.9 M373.7,708.81 L369.7,708.81 M552.86,571.1 L552.86,568.9 M371.9,733.85 L369.7,733.85 M524.99,568.9 L552.86,568.9 M369.7,708.81 L369.7,733.85 M501.1,570.3 L501.1,567.4 M371.1,687.35 L368.2,687.35 M538.92,568.9 L538.92,567.4 M369.7,721.33 L368.2,721.33 M501.1,567.4 L538.92,567.4 M368.2,687.35 L368.2,721.33 M604.61,572.9 L604.61,571.3 M373.7,780.34 L372.1,780.34 M620.54,572.9 L620.54,571.3 M373.7,794.65 L372.1,794.65 M604.61,571.3 L620.54,571.3 M372.1,780.34 L372.1,794.65 M588.69,572.9 L588.69,565.8 M373.7,766.03 L366.6,766.03 M612.58,571.3 L612.58,565.8 M372.1,787.49 L366.6,787.49 M588.69,565.8 L612.58,565.8 M366.6,766.03 L366.6,787.49 M520.01,567.4 L520.01,563.3 M368.2,704.34 L364.1,704.34 M600.63,565.8 L600.63,563.3 M366.6,776.76 L364.1,776.76 M520.01,563.3 L600.63,563.3 M364.1,704.34 L364.1,776.76 M469.25,568.8 L469.25,557.8 M369.6,658.74 L358.6,658.74 M560.32,563.3 L560.32,557.8 M364.1,740.55 L358.6,740.55 M469.25,557.8 L560.32,557.8 M358.6,658.74 L358.6,740.55 M445.36,572.9 L445.36,552.2 M373.7,637.28 L353,637.28 M514.79,557.8 L514.79,552.2 M358.6,699.64 L353,699.64 M445.36,552.2 L514.79,552.2 M353,637.28 L353,699.64 M395.6,560.9 L395.6,536.3 M361.7,592.57 L337.1,592.57 M480.07,552.2 L480.07,536.3 M353,668.46 L337.1,668.46 M395.6,536.3 L480.07,536.3 M337.1,592.57 L337.1,668.46" stroke="#333" stroke-width="0.8" fill="none"/>
<rect x="663" y="572.9" width="7.1" height="5.08" fill="#ff0c0c" stroke="none" stroke-width="1" />
<rect x="663" y="577.68" width="7.1" height="5.08" fill="#ff2323" stroke="none" stroke-width="1" />
<rect x="663" y="582.46" width="7.1" height="5.08" fill="#ff3a3a" stroke="none" stroke-width="1" />
<rect x="663" y="587.25" width="7.1" height="5.08" fill="#ff5151" stroke="none" stroke-width="1" />
<rect x="663" y="592.03" width="7.1" height="5.08" fill="#ff6868" stroke="none" stroke-width="1" />
<rect x="663" y="596.81" width="7.1" height="5.08" fill="#ff7f7f" stroke="none" stroke-width="1" />
<rect x="663" y="601.59" width="7.1" height="5.08" fill="#ff9797" stroke="none" stroke-width="1" />
<rect x="663" y="606.37" width="7.1" height="5.08" fill="#ffaeae" stroke="none" stroke-width="1" />
<rect x="663" y="611.15" width="7.1" height="5.08" fill="#ffc5c5" stroke="none" stroke-width="1" />
<rect x="663" y="615.94" width="7.1" height="5.08" fill="#ffdcdc" stroke="none" stroke-width="1" />
<rect x="663" y="620.72" width="7.1" height="5.08" fill="#fff3f3" stroke="none" stroke-width="1" />
<rect x="663" y="625.5" width="7.1" height="5.08" fill="#f3f3ff" stroke="none" stroke-width="1" />
<rect x="663" y="630.28" width="7.1" height="5.08" fill="#dcdcff" stroke="none" stroke-width="1" />
<rect x="663" y="635.06" width="7.1" height="5.08" fill="#c5c5ff" stroke="none" stroke-width="1" />
<rect x="663" y="639.85" width="7.1" height="5.08" fill="#aeaeff" stroke="none" stroke-width="1" />
<rect x="663" y="644.63" width="7.1" height="5.08" fill="#9797ff" stroke="none" stroke-width="1" />
<rect x="663" y="649.41" width="7.1" height="5.08" fill="#8080ff" stroke="none" stroke-width="1" />
<rect x="663" y="654.19" width="7.1" height="5.08" fill="#6868ff" stroke="none" stroke-width="1" />
<rect x="663" y="658.97" width="7.1" height="5.08" fill="#5151ff" stroke="none" stroke-width="1" />
<rect x="663" y="663.75" width="7.1" height="5.08" fill="#3a3aff" stroke="none" stroke-width="1" />
<rect x="663" y="668.54" width="7.1" height="5.08" fill="#2323ff" stroke="none" stroke-width="1" />
<rect x="663" y="673.32" width="7.1" height="5.08" fill="#0c0cff" stroke="none" stroke-width="1" />
<text x="672.8" y="576" font-size="6.8" fill="#222" text-anchor="start" >1</text>
<text x="672.8" y="604.2" font-size="6.8" fill="#222" text-anchor="start" >0.5</text>
<text x="672.8" y="632.8" font-size="6.8" fill="#222" text-anchor="start" >0</text>
<text x="672.8" y="661.2" font-size="6.8" fill="#222" text-anchor="start" >-0.5</text>
</svg>
</body></html>
